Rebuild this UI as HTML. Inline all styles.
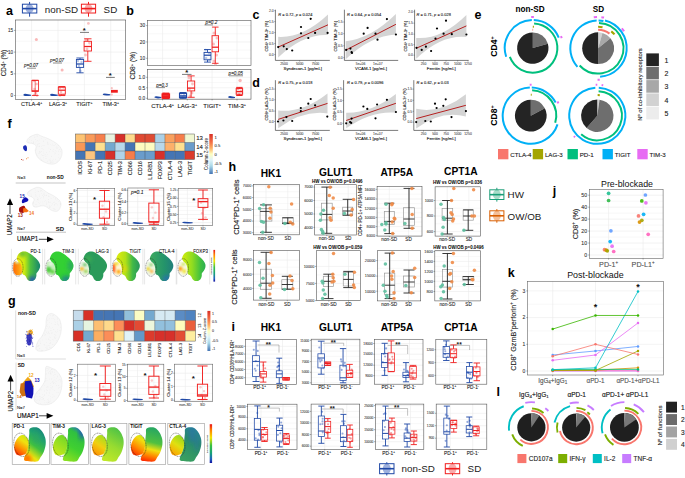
<!DOCTYPE html>
<html><head><meta charset="utf-8"><style>
html,body{margin:0;padding:0;background:#fff;width:685px;height:478px;overflow:hidden}
svg{display:block;font-family:"Liberation Sans", sans-serif}
</style></head><body>
<svg width="685" height="478" viewBox="0 0 685 478">
<defs><clipPath id="c1"><path d="M26.7 141.4C26.83 140.48 27.83 138.55 29 137.5C30.17 136.45 32.25 135.63 33.7 135.1C35.15 134.57 36.52 134.17 37.7 134.3C38.88 134.43 39.23 135.25 40.8 135.9C42.37 136.55 45 137.28 47.1 138.2C49.2 139.12 51.45 140.22 53.4 141.4C55.35 142.58 57.37 143.73 58.8 145.3C60.23 146.87 61.6 148.83 62 150.8C62.4 152.77 61.85 155.27 61.2 157.1C60.55 158.93 59.4 160.63 58.1 161.8C56.8 162.97 55.23 163.85 53.4 164.1C51.57 164.35 49.2 163.95 47.1 163.3C45 162.65 42.5 161.37 40.8 160.2C39.1 159.03 37.82 157.87 36.9 156.3C35.98 154.73 35.43 152.5 35.3 150.8C35.17 149.1 36.48 147.28 36.1 146.1C35.72 144.92 34.32 144.22 33 143.7C31.68 143.18 29.25 143.38 28.2 143C27.15 142.62 26.57 142.32 26.7 141.4Z"/></clipPath>
<clipPath id="c2"><path d="M27.4 193C27.62 192.12 29 191.12 30 190.4C31 189.68 32.28 189.2 33.4 188.7C34.52 188.2 35.58 187.57 36.7 187.4C37.82 187.23 38.98 187.32 40.1 187.7C41.22 188.08 42.07 188.82 43.4 189.7C44.73 190.58 46.42 192 48.1 193C49.78 194 51.82 194.68 53.5 195.7C55.18 196.72 56.97 197.87 58.2 199.1C59.43 200.33 60.57 201.65 60.9 203.1C61.23 204.55 60.77 206.47 60.2 207.8C59.63 209.13 58.62 210.55 57.5 211.1C56.38 211.65 54.83 211.43 53.5 211.1C52.17 210.77 50.83 209.88 49.5 209.1C48.17 208.32 46.85 206.95 45.5 206.4C44.15 205.85 42.87 205.68 41.4 205.8C39.93 205.92 38.03 207 36.7 207.1C35.37 207.2 34.07 207.07 33.4 206.4C32.73 205.73 32.58 204.22 32.7 203.1C32.82 201.98 34.2 200.7 34.1 199.7C34 198.7 33 197.77 32.1 197.1C31.2 196.43 29.48 196.38 28.7 195.7C27.92 195.02 27.18 193.88 27.4 193Z"/></clipPath>
<linearGradient id="g3" gradientUnits="userSpaceOnUse" x1="0" y1="134" x2="0" y2="174"><stop offset="0" stop-color="#d73027"/><stop offset="0.2" stop-color="#f46d43"/><stop offset="0.35" stop-color="#fdae61"/><stop offset="0.5" stop-color="#ffffbf"/><stop offset="0.65" stop-color="#e0f3f8"/><stop offset="0.8" stop-color="#abd9e9"/><stop offset="1" stop-color="#4575b4"/></linearGradient>
<linearGradient id="g4" gradientUnits="userSpaceOnUse" x1="19.4" y1="0" x2="39.4" y2="0"><stop offset="0" stop-color="#f2ee10"/><stop offset="0.25" stop-color="#c8ea10"/><stop offset="0.55" stop-color="#50c040"/><stop offset="1" stop-color="#1a8a6a"/></linearGradient>
<linearGradient id="g5" gradientUnits="userSpaceOnUse" x1="13.2" y1="0" x2="22.2" y2="0"><stop offset="0" stop-color="#ff6a08"/><stop offset="0.6" stop-color="#ff9a10"/><stop offset="1" stop-color="#ffc020"/></linearGradient>
<filter id="bl" x="-50%" y="-50%" width="200%" height="200%"><feGaussianBlur stdDeviation="2.2"/></filter>
<filter id="bl2" x="-50%" y="-50%" width="200%" height="200%"><feGaussianBlur stdDeviation="1.2"/></filter>
<clipPath id="c6"><path d="M17.2 256.4C17.58 255.53 18.22 254.28 19 253.5C19.78 252.72 20.83 252.03 21.9 251.7C22.97 251.37 24.23 251.3 25.4 251.5C26.57 251.7 27.73 252.28 28.9 252.9C30.07 253.52 31.28 254.33 32.4 255.2C33.52 256.07 34.62 257.12 35.6 258.1C36.58 259.08 37.57 260.02 38.3 261.1C39.03 262.18 39.75 263.43 40 264.6C40.25 265.77 40.08 267.03 39.8 268.1C39.52 269.17 38.85 270.13 38.3 271C37.75 271.87 36.83 272.42 36.5 273.3C36.17 274.18 36.53 275.32 36.3 276.3C36.07 277.28 35.75 278.43 35.1 279.2C34.45 279.97 33.33 280.62 32.4 280.9C31.47 281.18 30.37 281.18 29.5 280.9C28.63 280.62 27.78 279.88 27.2 279.2C26.62 278.52 26.48 277.48 26 276.8C25.52 276.12 24.88 275.58 24.3 275.1C23.72 274.62 22.9 274.48 22.5 273.9C22.1 273.32 22.1 272.47 21.9 271.6C21.7 270.73 21.5 269.68 21.3 268.7C21.1 267.72 20.98 266.58 20.7 265.7C20.42 264.82 20.08 264.17 19.6 263.4C19.12 262.63 18.28 261.88 17.8 261.1C17.32 260.32 16.8 259.48 16.7 258.7C16.6 257.92 16.82 257.27 17.2 256.4Z"/></clipPath>
<clipPath id="c7"><path d="M14.1 262.2C14.68 261.33 15.78 261.6 16.7 261.7C17.62 261.8 18.83 262.22 19.6 262.8C20.37 263.38 20.87 264.13 21.3 265.2C21.73 266.27 22.1 267.95 22.2 269.2C22.3 270.45 22.23 271.77 21.9 272.7C21.57 273.63 20.98 274.37 20.2 274.8C19.42 275.23 18.08 275.45 17.2 275.3C16.32 275.15 15.53 274.62 14.9 273.9C14.27 273.18 13.68 272.17 13.4 271C13.12 269.83 13.08 268.37 13.2 266.9C13.32 265.43 13.52 263.07 14.1 262.2Z"/></clipPath>
<clipPath id="c8"><path d="M50.5 256.4C50.88 255.53 51.52 254.28 52.3 253.5C53.08 252.72 54.13 252.03 55.2 251.7C56.27 251.37 57.53 251.3 58.7 251.5C59.87 251.7 61.03 252.28 62.2 252.9C63.37 253.52 64.58 254.33 65.7 255.2C66.82 256.07 67.92 257.12 68.9 258.1C69.88 259.08 70.87 260.02 71.6 261.1C72.33 262.18 73.05 263.43 73.3 264.6C73.55 265.77 73.38 267.03 73.1 268.1C72.82 269.17 72.15 270.13 71.6 271C71.05 271.87 70.13 272.42 69.8 273.3C69.47 274.18 69.83 275.32 69.6 276.3C69.37 277.28 69.05 278.43 68.4 279.2C67.75 279.97 66.63 280.62 65.7 280.9C64.77 281.18 63.67 281.18 62.8 280.9C61.93 280.62 61.08 279.88 60.5 279.2C59.92 278.52 59.78 277.48 59.3 276.8C58.82 276.12 58.18 275.58 57.6 275.1C57.02 274.62 56.2 274.48 55.8 273.9C55.4 273.32 55.4 272.47 55.2 271.6C55 270.73 54.8 269.68 54.6 268.7C54.4 267.72 54.28 266.58 54 265.7C53.72 264.82 53.38 264.17 52.9 263.4C52.42 262.63 51.58 261.88 51.1 261.1C50.62 260.32 50.1 259.48 50 258.7C49.9 257.92 50.12 257.27 50.5 256.4Z"/></clipPath>
<clipPath id="c9"><path d="M47.4 262.2C47.98 261.33 49.08 261.6 50 261.7C50.92 261.8 52.13 262.22 52.9 262.8C53.67 263.38 54.17 264.13 54.6 265.2C55.03 266.27 55.4 267.95 55.5 269.2C55.6 270.45 55.53 271.77 55.2 272.7C54.87 273.63 54.28 274.37 53.5 274.8C52.72 275.23 51.38 275.45 50.5 275.3C49.62 275.15 48.83 274.62 48.2 273.9C47.57 273.18 46.98 272.17 46.7 271C46.42 269.83 46.38 268.37 46.5 266.9C46.62 265.43 46.82 263.07 47.4 262.2Z"/></clipPath>
<clipPath id="c10"><path d="M84.1 256.4C84.48 255.53 85.12 254.28 85.9 253.5C86.68 252.72 87.73 252.03 88.8 251.7C89.87 251.37 91.13 251.3 92.3 251.5C93.47 251.7 94.63 252.28 95.8 252.9C96.97 253.52 98.18 254.33 99.3 255.2C100.42 256.07 101.52 257.12 102.5 258.1C103.48 259.08 104.47 260.02 105.2 261.1C105.93 262.18 106.65 263.43 106.9 264.6C107.15 265.77 106.98 267.03 106.7 268.1C106.42 269.17 105.75 270.13 105.2 271C104.65 271.87 103.73 272.42 103.4 273.3C103.07 274.18 103.43 275.32 103.2 276.3C102.97 277.28 102.65 278.43 102 279.2C101.35 279.97 100.23 280.62 99.3 280.9C98.37 281.18 97.27 281.18 96.4 280.9C95.53 280.62 94.68 279.88 94.1 279.2C93.52 278.52 93.38 277.48 92.9 276.8C92.42 276.12 91.78 275.58 91.2 275.1C90.62 274.62 89.8 274.48 89.4 273.9C89 273.32 89 272.47 88.8 271.6C88.6 270.73 88.4 269.68 88.2 268.7C88 267.72 87.88 266.58 87.6 265.7C87.32 264.82 86.98 264.17 86.5 263.4C86.02 262.63 85.18 261.88 84.7 261.1C84.22 260.32 83.7 259.48 83.6 258.7C83.5 257.92 83.72 257.27 84.1 256.4Z"/></clipPath>
<clipPath id="c11"><path d="M81 262.2C81.58 261.33 82.68 261.6 83.6 261.7C84.52 261.8 85.73 262.22 86.5 262.8C87.27 263.38 87.77 264.13 88.2 265.2C88.63 266.27 89 267.95 89.1 269.2C89.2 270.45 89.13 271.77 88.8 272.7C88.47 273.63 87.88 274.37 87.1 274.8C86.32 275.23 84.98 275.45 84.1 275.3C83.22 275.15 82.43 274.62 81.8 273.9C81.17 273.18 80.58 272.17 80.3 271C80.02 269.83 79.98 268.37 80.1 266.9C80.22 265.43 80.42 263.07 81 262.2Z"/></clipPath>
<linearGradient id="g12" gradientUnits="userSpaceOnUse" x1="118.1" y1="0" x2="139.1" y2="0"><stop offset="0" stop-color="#d8ea10"/><stop offset="0.35" stop-color="#b0e018"/><stop offset="0.7" stop-color="#40b848"/><stop offset="1" stop-color="#2a9a5a"/></linearGradient>
<clipPath id="c13"><path d="M116.9 256.4C117.28 255.53 117.92 254.28 118.7 253.5C119.48 252.72 120.53 252.03 121.6 251.7C122.67 251.37 123.93 251.3 125.1 251.5C126.27 251.7 127.43 252.28 128.6 252.9C129.77 253.52 130.98 254.33 132.1 255.2C133.22 256.07 134.32 257.12 135.3 258.1C136.28 259.08 137.27 260.02 138 261.1C138.73 262.18 139.45 263.43 139.7 264.6C139.95 265.77 139.78 267.03 139.5 268.1C139.22 269.17 138.55 270.13 138 271C137.45 271.87 136.53 272.42 136.2 273.3C135.87 274.18 136.23 275.32 136 276.3C135.77 277.28 135.45 278.43 134.8 279.2C134.15 279.97 133.03 280.62 132.1 280.9C131.17 281.18 130.07 281.18 129.2 280.9C128.33 280.62 127.48 279.88 126.9 279.2C126.32 278.52 126.18 277.48 125.7 276.8C125.22 276.12 124.58 275.58 124 275.1C123.42 274.62 122.6 274.48 122.2 273.9C121.8 273.32 121.8 272.47 121.6 271.6C121.4 270.73 121.2 269.68 121 268.7C120.8 267.72 120.68 266.58 120.4 265.7C120.12 264.82 119.78 264.17 119.3 263.4C118.82 262.63 117.98 261.88 117.5 261.1C117.02 260.32 116.5 259.48 116.4 258.7C116.3 257.92 116.52 257.27 116.9 256.4Z"/></clipPath>
<clipPath id="c14"><path d="M113.8 262.2C114.38 261.33 115.48 261.6 116.4 261.7C117.32 261.8 118.53 262.22 119.3 262.8C120.07 263.38 120.57 264.13 121 265.2C121.43 266.27 121.8 267.95 121.9 269.2C122 270.45 121.93 271.77 121.6 272.7C121.27 273.63 120.68 274.37 119.9 274.8C119.12 275.23 117.78 275.45 116.9 275.3C116.02 275.15 115.23 274.62 114.6 273.9C113.97 273.18 113.38 272.17 113.1 271C112.82 269.83 112.78 268.37 112.9 266.9C113.02 265.43 113.22 263.07 113.8 262.2Z"/></clipPath>
<linearGradient id="g15" gradientUnits="userSpaceOnUse" x1="151.6" y1="0" x2="172.6" y2="0"><stop offset="0" stop-color="#3aa860"/><stop offset="0.6" stop-color="#24946a"/><stop offset="1" stop-color="#20807a"/></linearGradient>
<clipPath id="c16"><path d="M150.4 256.4C150.78 255.53 151.42 254.28 152.2 253.5C152.98 252.72 154.03 252.03 155.1 251.7C156.17 251.37 157.43 251.3 158.6 251.5C159.77 251.7 160.93 252.28 162.1 252.9C163.27 253.52 164.48 254.33 165.6 255.2C166.72 256.07 167.82 257.12 168.8 258.1C169.78 259.08 170.77 260.02 171.5 261.1C172.23 262.18 172.95 263.43 173.2 264.6C173.45 265.77 173.28 267.03 173 268.1C172.72 269.17 172.05 270.13 171.5 271C170.95 271.87 170.03 272.42 169.7 273.3C169.37 274.18 169.73 275.32 169.5 276.3C169.27 277.28 168.95 278.43 168.3 279.2C167.65 279.97 166.53 280.62 165.6 280.9C164.67 281.18 163.57 281.18 162.7 280.9C161.83 280.62 160.98 279.88 160.4 279.2C159.82 278.52 159.68 277.48 159.2 276.8C158.72 276.12 158.08 275.58 157.5 275.1C156.92 274.62 156.1 274.48 155.7 273.9C155.3 273.32 155.3 272.47 155.1 271.6C154.9 270.73 154.7 269.68 154.5 268.7C154.3 267.72 154.18 266.58 153.9 265.7C153.62 264.82 153.28 264.17 152.8 263.4C152.32 262.63 151.48 261.88 151 261.1C150.52 260.32 150 259.48 149.9 258.7C149.8 257.92 150.02 257.27 150.4 256.4Z"/></clipPath>
<clipPath id="c17"><path d="M147.3 262.2C147.88 261.33 148.98 261.6 149.9 261.7C150.82 261.8 152.03 262.22 152.8 262.8C153.57 263.38 154.07 264.13 154.5 265.2C154.93 266.27 155.3 267.95 155.4 269.2C155.5 270.45 155.43 271.77 155.1 272.7C154.77 273.63 154.18 274.37 153.4 274.8C152.62 275.23 151.28 275.45 150.4 275.3C149.52 275.15 148.73 274.62 148.1 273.9C147.47 273.18 146.88 272.17 146.6 271C146.32 269.83 146.28 268.37 146.4 266.9C146.52 265.43 146.72 263.07 147.3 262.2Z"/></clipPath>
<linearGradient id="g18" gradientUnits="userSpaceOnUse" x1="183.8" y1="0" x2="204.8" y2="0"><stop offset="0" stop-color="#c8ea10"/><stop offset="0.4" stop-color="#90dc20"/><stop offset="0.8" stop-color="#40c040"/><stop offset="1" stop-color="#30b050"/></linearGradient>
<clipPath id="c19"><path d="M182.6 256.4C182.98 255.53 183.62 254.28 184.4 253.5C185.18 252.72 186.23 252.03 187.3 251.7C188.37 251.37 189.63 251.3 190.8 251.5C191.97 251.7 193.13 252.28 194.3 252.9C195.47 253.52 196.68 254.33 197.8 255.2C198.92 256.07 200.02 257.12 201 258.1C201.98 259.08 202.97 260.02 203.7 261.1C204.43 262.18 205.15 263.43 205.4 264.6C205.65 265.77 205.48 267.03 205.2 268.1C204.92 269.17 204.25 270.13 203.7 271C203.15 271.87 202.23 272.42 201.9 273.3C201.57 274.18 201.93 275.32 201.7 276.3C201.47 277.28 201.15 278.43 200.5 279.2C199.85 279.97 198.73 280.62 197.8 280.9C196.87 281.18 195.77 281.18 194.9 280.9C194.03 280.62 193.18 279.88 192.6 279.2C192.02 278.52 191.88 277.48 191.4 276.8C190.92 276.12 190.28 275.58 189.7 275.1C189.12 274.62 188.3 274.48 187.9 273.9C187.5 273.32 187.5 272.47 187.3 271.6C187.1 270.73 186.9 269.68 186.7 268.7C186.5 267.72 186.38 266.58 186.1 265.7C185.82 264.82 185.48 264.17 185 263.4C184.52 262.63 183.68 261.88 183.2 261.1C182.72 260.32 182.2 259.48 182.1 258.7C182 257.92 182.22 257.27 182.6 256.4Z"/></clipPath>
<clipPath id="c20"><path d="M179.5 262.2C180.08 261.33 181.18 261.6 182.1 261.7C183.02 261.8 184.23 262.22 185 262.8C185.77 263.38 186.27 264.13 186.7 265.2C187.13 266.27 187.5 267.95 187.6 269.2C187.7 270.45 187.63 271.77 187.3 272.7C186.97 273.63 186.38 274.37 185.6 274.8C184.82 275.23 183.48 275.45 182.6 275.3C181.72 275.15 180.93 274.62 180.3 273.9C179.67 273.18 179.08 272.17 178.8 271C178.52 269.83 178.48 268.37 178.6 266.9C178.72 265.43 178.92 263.07 179.5 262.2Z"/></clipPath>
<linearGradient id="g21" gradientUnits="userSpaceOnUse" x1="0" y1="249.9" x2="0" y2="281.6"><stop offset="0" stop-color="#e8131a"/><stop offset="0.15" stop-color="#ff7f00"/><stop offset="0.35" stop-color="#f5e600"/><stop offset="0.55" stop-color="#38c040"/><stop offset="0.75" stop-color="#15a07a"/><stop offset="0.9" stop-color="#2060c0"/><stop offset="1" stop-color="#1010a0"/></linearGradient>
<clipPath id="c22"><path d="M51.8 313.5C53.33 313.73 55.57 315.18 57 316.5C58.43 317.82 59.7 319.02 60.4 321.4C61.1 323.78 61.58 327.67 61.2 330.8C60.82 333.93 59.67 337.32 58.1 340.2C56.53 343.08 54.42 346.27 51.8 348.1C49.18 349.93 45.02 350.95 42.4 351.2C39.78 351.45 36.88 351.17 36.1 349.6C35.32 348.03 36.65 344.15 37.7 341.8C38.75 339.45 41.1 337.85 42.4 335.5C43.7 333.15 44.85 330.32 45.5 327.7C46.15 325.08 45.92 321.9 46.3 319.8C46.68 317.7 46.88 316.15 47.8 315.1C48.72 314.05 50.27 313.27 51.8 313.5Z"/></clipPath>
<clipPath id="c23"><path d="M46.2 366.5C47.28 365.77 50.18 367.5 52 368.3C53.82 369.1 55.47 369.43 57.1 371.3C58.73 373.17 61.13 376.33 61.8 379.5C62.47 382.67 61.88 387.13 61.1 390.3C60.32 393.47 58.9 396.23 57.1 398.5C55.3 400.77 53.02 402.88 50.3 403.9C47.58 404.92 43.42 405.05 40.8 404.6C38.18 404.15 35.52 402.9 34.6 401.2C33.68 399.5 34.27 396.67 35.3 394.4C36.33 392.13 39.22 389.87 40.8 387.6C42.38 385.33 44.02 383.28 44.8 380.8C45.58 378.32 45.27 375.08 45.5 372.7C45.73 370.32 45.12 367.23 46.2 366.5Z"/></clipPath>
<linearGradient id="g24" gradientUnits="userSpaceOnUse" x1="0" y1="310.9" x2="0" y2="351"><stop offset="0" stop-color="#d73027"/><stop offset="0.2" stop-color="#f46d43"/><stop offset="0.35" stop-color="#fdae61"/><stop offset="0.5" stop-color="#ffffbf"/><stop offset="0.65" stop-color="#e0f3f8"/><stop offset="0.8" stop-color="#abd9e9"/><stop offset="1" stop-color="#4575b4"/></linearGradient>
<linearGradient id="g25" gradientUnits="userSpaceOnUse" x1="25.2" y1="459.4" x2="45.2" y2="433.4"><stop offset="0" stop-color="#ffb000"/><stop offset="0.2" stop-color="#e8e810"/><stop offset="0.5" stop-color="#40c040"/><stop offset="0.8" stop-color="#20a070"/><stop offset="1" stop-color="#1a8a7a"/></linearGradient>
<linearGradient id="g26" gradientUnits="userSpaceOnUse" x1="15.2" y1="453.4" x2="27.2" y2="436.4"><stop offset="0" stop-color="#ff3000"/><stop offset="0.35" stop-color="#ff9000"/><stop offset="0.7" stop-color="#f0e010"/><stop offset="1" stop-color="#c8ea10"/></linearGradient>
<clipPath id="c27"><path d="M29.9 428.4C31.1 427.35 34.52 426.87 36.5 427.3C38.48 427.73 40.37 429.28 41.8 431C43.23 432.72 44.45 435.4 45.1 437.6C45.75 439.8 45.93 441.8 45.7 444.2C45.47 446.6 44.57 449.82 43.7 452C42.83 454.18 41.48 455.77 40.5 457.3C39.52 458.83 39.33 460.5 37.8 461.2C36.27 461.9 33.48 461.6 31.3 461.5C29.12 461.4 25.85 461.3 24.7 460.6C23.55 459.9 24.18 458.5 24.4 457.3C24.62 456.1 25.4 455.15 26 453.4C26.6 451.65 27.57 449 28 446.8C28.43 444.6 28.38 442.4 28.6 440.2C28.82 438 29.08 435.57 29.3 433.6C29.52 431.63 28.7 429.45 29.9 428.4Z"/></clipPath>
<clipPath id="c28"><path d="M14.2 448.1C14.1 446 14.63 443.47 15.5 441.5C16.37 439.53 18.08 437.38 19.4 436.3C20.72 435.22 22.18 434.78 23.4 435C24.62 435.22 25.83 436.52 26.7 437.6C27.57 438.68 28.38 439.75 28.6 441.5C28.82 443.25 28.43 446.12 28 448.1C27.57 450.08 26.77 452.3 26 453.4C25.23 454.5 24.5 454.37 23.4 454.7C22.3 455.03 20.62 455.5 19.4 455.4C18.18 455.3 16.97 455.32 16.1 454.1C15.23 452.88 14.3 450.2 14.2 448.1Z"/></clipPath>
<linearGradient id="g29" gradientUnits="userSpaceOnUse" x1="65" y1="459.4" x2="83" y2="429.4"><stop offset="0" stop-color="#8ae020"/><stop offset="0.4" stop-color="#40d030"/><stop offset="0.8" stop-color="#30c040"/><stop offset="1" stop-color="#2a70c0"/></linearGradient>
<linearGradient id="g30" gradientUnits="userSpaceOnUse" x1="54" y1="453.4" x2="66" y2="436.4"><stop offset="0" stop-color="#c8e818"/><stop offset="1" stop-color="#70d828"/></linearGradient>
<clipPath id="c31"><path d="M68.7 428.4C69.9 427.35 73.32 426.87 75.3 427.3C77.28 427.73 79.17 429.28 80.6 431C82.03 432.72 83.25 435.4 83.9 437.6C84.55 439.8 84.73 441.8 84.5 444.2C84.27 446.6 83.37 449.82 82.5 452C81.63 454.18 80.28 455.77 79.3 457.3C78.32 458.83 78.13 460.5 76.6 461.2C75.07 461.9 72.28 461.6 70.1 461.5C67.92 461.4 64.65 461.3 63.5 460.6C62.35 459.9 62.98 458.5 63.2 457.3C63.42 456.1 64.2 455.15 64.8 453.4C65.4 451.65 66.37 449 66.8 446.8C67.23 444.6 67.18 442.4 67.4 440.2C67.62 438 67.88 435.57 68.1 433.6C68.32 431.63 67.5 429.45 68.7 428.4Z"/></clipPath>
<clipPath id="c32"><path d="M53 448.1C52.9 446 53.43 443.47 54.3 441.5C55.17 439.53 56.88 437.38 58.2 436.3C59.52 435.22 60.98 434.78 62.2 435C63.42 435.22 64.63 436.52 65.5 437.6C66.37 438.68 67.18 439.75 67.4 441.5C67.62 443.25 67.23 446.12 66.8 448.1C66.37 450.08 65.57 452.3 64.8 453.4C64.03 454.5 63.3 454.37 62.2 454.7C61.1 455.03 59.42 455.5 58.2 455.4C56.98 455.3 55.77 455.32 54.9 454.1C54.03 452.88 53.1 450.2 53 448.1Z"/></clipPath>
<linearGradient id="g33" gradientUnits="userSpaceOnUse" x1="104.1" y1="459.4" x2="122.1" y2="429.4"><stop offset="0" stop-color="#c0e828"/><stop offset="0.45" stop-color="#98dc30"/><stop offset="1" stop-color="#48c048"/></linearGradient>
<linearGradient id="g34" gradientUnits="userSpaceOnUse" x1="93.1" y1="453.4" x2="105.1" y2="436.4"><stop offset="0" stop-color="#ff9000"/><stop offset="0.5" stop-color="#f0d010"/><stop offset="1" stop-color="#a0e020"/></linearGradient>
<clipPath id="c35"><path d="M107.8 428.4C109 427.35 112.42 426.87 114.4 427.3C116.38 427.73 118.27 429.28 119.7 431C121.13 432.72 122.35 435.4 123 437.6C123.65 439.8 123.83 441.8 123.6 444.2C123.37 446.6 122.47 449.82 121.6 452C120.73 454.18 119.38 455.77 118.4 457.3C117.42 458.83 117.23 460.5 115.7 461.2C114.17 461.9 111.38 461.6 109.2 461.5C107.02 461.4 103.75 461.3 102.6 460.6C101.45 459.9 102.08 458.5 102.3 457.3C102.52 456.1 103.3 455.15 103.9 453.4C104.5 451.65 105.47 449 105.9 446.8C106.33 444.6 106.28 442.4 106.5 440.2C106.72 438 106.98 435.57 107.2 433.6C107.42 431.63 106.6 429.45 107.8 428.4Z"/></clipPath>
<clipPath id="c36"><path d="M92.1 448.1C92 446 92.53 443.47 93.4 441.5C94.27 439.53 95.98 437.38 97.3 436.3C98.62 435.22 100.08 434.78 101.3 435C102.52 435.22 103.73 436.52 104.6 437.6C105.47 438.68 106.28 439.75 106.5 441.5C106.72 443.25 106.33 446.12 105.9 448.1C105.47 450.08 104.67 452.3 103.9 453.4C103.13 454.5 102.4 454.37 101.3 454.7C100.2 455.03 98.52 455.5 97.3 455.4C96.08 455.3 94.87 455.32 94 454.1C93.13 452.88 92.2 450.2 92.1 448.1Z"/></clipPath>
<linearGradient id="g37" gradientUnits="userSpaceOnUse" x1="146.9" y1="461.4" x2="154.9" y2="429.4"><stop offset="0" stop-color="#ff2a00"/><stop offset="0.2" stop-color="#ff8a00"/><stop offset="0.38" stop-color="#f0e010"/><stop offset="0.6" stop-color="#50c040"/><stop offset="1" stop-color="#2aa860"/></linearGradient>
<linearGradient id="g38" gradientUnits="userSpaceOnUse" x1="131.9" y1="453.4" x2="143.9" y2="436.4"><stop offset="0" stop-color="#ff3000"/><stop offset="0.4" stop-color="#ff9000"/><stop offset="0.8" stop-color="#f0e010"/><stop offset="1" stop-color="#c0e818"/></linearGradient>
<clipPath id="c39"><path d="M146.6 428.4C147.8 427.35 151.22 426.87 153.2 427.3C155.18 427.73 157.07 429.28 158.5 431C159.93 432.72 161.15 435.4 161.8 437.6C162.45 439.8 162.63 441.8 162.4 444.2C162.17 446.6 161.27 449.82 160.4 452C159.53 454.18 158.18 455.77 157.2 457.3C156.22 458.83 156.03 460.5 154.5 461.2C152.97 461.9 150.18 461.6 148 461.5C145.82 461.4 142.55 461.3 141.4 460.6C140.25 459.9 140.88 458.5 141.1 457.3C141.32 456.1 142.1 455.15 142.7 453.4C143.3 451.65 144.27 449 144.7 446.8C145.13 444.6 145.08 442.4 145.3 440.2C145.52 438 145.78 435.57 146 433.6C146.22 431.63 145.4 429.45 146.6 428.4Z"/></clipPath>
<clipPath id="c40"><path d="M130.9 448.1C130.8 446 131.33 443.47 132.2 441.5C133.07 439.53 134.78 437.38 136.1 436.3C137.42 435.22 138.88 434.78 140.1 435C141.32 435.22 142.53 436.52 143.4 437.6C144.27 438.68 145.08 439.75 145.3 441.5C145.52 443.25 145.13 446.12 144.7 448.1C144.27 450.08 143.47 452.3 142.7 453.4C141.93 454.5 141.2 454.37 140.1 454.7C139 455.03 137.32 455.5 136.1 455.4C134.88 455.3 133.67 455.32 132.8 454.1C131.93 452.88 131 450.2 130.9 448.1Z"/></clipPath>
<linearGradient id="g41" gradientUnits="userSpaceOnUse" x1="181.8" y1="459.4" x2="199.8" y2="429.4"><stop offset="0" stop-color="#3aa060"/><stop offset="0.6" stop-color="#288a6a"/><stop offset="1" stop-color="#2a80a0"/></linearGradient>
<linearGradient id="g42" gradientUnits="userSpaceOnUse" x1="170.8" y1="453.4" x2="182.8" y2="436.4"><stop offset="0" stop-color="#ffa000"/><stop offset="0.5" stop-color="#e0e010"/><stop offset="1" stop-color="#90d820"/></linearGradient>
<clipPath id="c43"><path d="M185.5 428.4C186.7 427.35 190.12 426.87 192.1 427.3C194.08 427.73 195.97 429.28 197.4 431C198.83 432.72 200.05 435.4 200.7 437.6C201.35 439.8 201.53 441.8 201.3 444.2C201.07 446.6 200.17 449.82 199.3 452C198.43 454.18 197.08 455.77 196.1 457.3C195.12 458.83 194.93 460.5 193.4 461.2C191.87 461.9 189.08 461.6 186.9 461.5C184.72 461.4 181.45 461.3 180.3 460.6C179.15 459.9 179.78 458.5 180 457.3C180.22 456.1 181 455.15 181.6 453.4C182.2 451.65 183.17 449 183.6 446.8C184.03 444.6 183.98 442.4 184.2 440.2C184.42 438 184.68 435.57 184.9 433.6C185.12 431.63 184.3 429.45 185.5 428.4Z"/></clipPath>
<clipPath id="c44"><path d="M169.8 448.1C169.7 446 170.23 443.47 171.1 441.5C171.97 439.53 173.68 437.38 175 436.3C176.32 435.22 177.78 434.78 179 435C180.22 435.22 181.43 436.52 182.3 437.6C183.17 438.68 183.98 439.75 184.2 441.5C184.42 443.25 184.03 446.12 183.6 448.1C183.17 450.08 182.37 452.3 181.6 453.4C180.83 454.5 180.1 454.37 179 454.7C177.9 455.03 176.22 455.5 175 455.4C173.78 455.3 172.57 455.32 171.7 454.1C170.83 452.88 169.9 450.2 169.8 448.1Z"/></clipPath>
<linearGradient id="g45" gradientUnits="userSpaceOnUse" x1="0" y1="424.2" x2="0" y2="463"><stop offset="0" stop-color="#e8131a"/><stop offset="0.15" stop-color="#ff7f00"/><stop offset="0.35" stop-color="#f5e600"/><stop offset="0.55" stop-color="#38c040"/><stop offset="0.75" stop-color="#15a07a"/><stop offset="0.9" stop-color="#2060c0"/><stop offset="1" stop-color="#1010a0"/></linearGradient></defs>
<text x="6" y="15" font-size="12.5" font-weight="bold">a</text>
<path d="M25.57 8.6 A4.03 4.4 0 0 1 33.63 8.6 A4.03 4.4 0 0 1 25.57 8.6 Z" fill="#9db0dd" />
<rect x="22.4" y="4.2" width="14.4" height="8.8" fill="none" stroke="#1f48a6" stroke-width="1" />
<line x1="22.4" y1="8.6" x2="36.8" y2="8.6" stroke="#1f48a6" stroke-width="1.6"/>
<line x1="29.6" y1="1.9" x2="29.6" y2="4.2" stroke="#1f48a6" stroke-width="1"/>
<line x1="29.6" y1="13" x2="29.6" y2="16.7" stroke="#1f48a6" stroke-width="1"/>
<text x="44.8" y="12.5" font-size="9.8" fill="#222">non-SD</text>
<path d="M84.52 8.6 A3.98 4.4 0 0 1 92.48 8.6 A3.98 4.4 0 0 1 84.52 8.6 Z" fill="#f9aaaa" />
<rect x="81.4" y="4.2" width="14.2" height="8.8" fill="none" stroke="#f01e1e" stroke-width="1" />
<line x1="81.4" y1="8.6" x2="95.6" y2="8.6" stroke="#f01e1e" stroke-width="1.6"/>
<line x1="88.5" y1="1.9" x2="88.5" y2="4.2" stroke="#f01e1e" stroke-width="1"/>
<line x1="88.5" y1="13" x2="88.5" y2="16.7" stroke="#f01e1e" stroke-width="1"/>
<text x="103.6" y="12.5" font-size="9.8" fill="#222">SD</text>
<rect x="15.3" y="20" width="110.4" height="79.5" fill="#fff" />
<line x1="15.3" y1="84.65" x2="125.7" y2="84.65" stroke="#ebebeb" stroke-width="0.35"/>
<line x1="15.3" y1="62.95" x2="125.7" y2="62.95" stroke="#ebebeb" stroke-width="0.35"/>
<line x1="15.3" y1="41.25" x2="125.7" y2="41.25" stroke="#ebebeb" stroke-width="0.35"/>
<line x1="15.3" y1="19.55" x2="125.7" y2="19.55" stroke="#ebebeb" stroke-width="0.35"/>
<line x1="15.3" y1="95.5" x2="125.7" y2="95.5" stroke="#ebebeb" stroke-width="0.6"/>
<line x1="15.3" y1="73.8" x2="125.7" y2="73.8" stroke="#ebebeb" stroke-width="0.6"/>
<line x1="15.3" y1="52.1" x2="125.7" y2="52.1" stroke="#ebebeb" stroke-width="0.6"/>
<line x1="15.3" y1="30.4" x2="125.7" y2="30.4" stroke="#ebebeb" stroke-width="0.6"/>
<line x1="31.6" y1="20" x2="31.6" y2="99.5" stroke="#ebebeb" stroke-width="0.6"/>
<line x1="58" y1="20" x2="58" y2="99.5" stroke="#ebebeb" stroke-width="0.6"/>
<line x1="84.4" y1="20" x2="84.4" y2="99.5" stroke="#ebebeb" stroke-width="0.6"/>
<line x1="110.7" y1="20" x2="110.7" y2="99.5" stroke="#ebebeb" stroke-width="0.6"/>
<rect x="15.3" y="20" width="110.4" height="79.5" fill="none" stroke="#555" stroke-width="0.6" />
<line x1="14" y1="95.5" x2="15.3" y2="95.5" stroke="#333" stroke-width="0.4"/>
<text x="13.1" y="97.16" font-size="4.6" text-anchor="end" fill="#333" stroke="#333" stroke-width="0.16" stroke-opacity="0.55">0</text>
<line x1="14" y1="73.8" x2="15.3" y2="73.8" stroke="#333" stroke-width="0.4"/>
<text x="13.1" y="75.46" font-size="4.6" text-anchor="end" fill="#333" stroke="#333" stroke-width="0.16" stroke-opacity="0.55">5</text>
<line x1="14" y1="52.1" x2="15.3" y2="52.1" stroke="#333" stroke-width="0.4"/>
<text x="13.1" y="53.76" font-size="4.6" text-anchor="end" fill="#333" stroke="#333" stroke-width="0.16" stroke-opacity="0.55">10</text>
<line x1="14" y1="30.4" x2="15.3" y2="30.4" stroke="#333" stroke-width="0.4"/>
<text x="13.1" y="32.06" font-size="4.6" text-anchor="end" fill="#333" stroke="#333" stroke-width="0.16" stroke-opacity="0.55">15</text>
<text x="5.9" y="63" font-size="6.3" text-anchor="middle" fill="#222" transform="rotate(-90 5.9 63)" stroke="#222" stroke-width="0.22" stroke-opacity="0.55">CD4<tspan baseline-shift="2.27" font-size="3.91">+</tspan> (%)</text>
<line x1="31.6" y1="99.5" x2="31.6" y2="100.7" stroke="#333" stroke-width="0.4"/>
<text x="31.6" y="105.8" font-size="5.6" text-anchor="middle" fill="#222" stroke="#222" stroke-width="0.2" stroke-opacity="0.55">CTLA-4<tspan baseline-shift="2.02" font-size="3.47">+</tspan></text>
<line x1="58" y1="99.5" x2="58" y2="100.7" stroke="#333" stroke-width="0.4"/>
<text x="58" y="105.8" font-size="5.6" text-anchor="middle" fill="#222" stroke="#222" stroke-width="0.2" stroke-opacity="0.55">LAG-3<tspan baseline-shift="2.02" font-size="3.47">+</tspan></text>
<line x1="84.4" y1="99.5" x2="84.4" y2="100.7" stroke="#333" stroke-width="0.4"/>
<text x="84.4" y="105.8" font-size="5.6" text-anchor="middle" fill="#222" stroke="#222" stroke-width="0.2" stroke-opacity="0.55">TIGIT<tspan baseline-shift="2.02" font-size="3.47">+</tspan></text>
<line x1="110.7" y1="99.5" x2="110.7" y2="100.7" stroke="#333" stroke-width="0.4"/>
<text x="110.7" y="105.8" font-size="5.6" text-anchor="middle" fill="#222" stroke="#222" stroke-width="0.2" stroke-opacity="0.55">TIM-3<tspan baseline-shift="2.02" font-size="3.47">+</tspan></text>
<path d="M23.3 95.2 Q23.3 93.8 25.3 93.8 L31 94.7 L31 95.7 Q25.3 96.6 23.3 95.2 Z" fill="#1f48a6" />
<circle cx="34" cy="81" r="1.3" fill="#f7a6a6" fill-opacity="0.7"/>
<circle cx="36.5" cy="84" r="1.3" fill="#f7a6a6" fill-opacity="0.7"/>
<circle cx="34.5" cy="89" r="1.3" fill="#f7a6a6" fill-opacity="0.7"/>
<circle cx="36" cy="93" r="1.3" fill="#f7a6a6" fill-opacity="0.7"/>
<circle cx="34" cy="95" r="1.3" fill="#f7a6a6" fill-opacity="0.7"/>
<circle cx="37" cy="95.4" r="1.3" fill="#f7a6a6" fill-opacity="0.7"/>
<circle cx="36.4" cy="39.6" r="1.5" fill="#f7a6a6" fill-opacity="0.8"/>
<rect x="31.9" y="80.5" width="6.6" height="10.9" fill="none" stroke="#f01e1e" stroke-width="0.8" />
<line x1="31.9" y1="90.8" x2="38.5" y2="90.8" stroke="#f01e1e" stroke-width="1.12"/>
<line x1="35.2" y1="80.2" x2="35.2" y2="80.5" stroke="#f01e1e" stroke-width="0.8"/>
<line x1="35.2" y1="91.4" x2="35.2" y2="95.5" stroke="#f01e1e" stroke-width="0.8"/>
<line x1="31.9" y1="80.2" x2="38.5" y2="80.2" stroke="#f01e1e" stroke-width="0.8"/>
<line x1="31.9" y1="95.5" x2="38.5" y2="95.5" stroke="#f01e1e" stroke-width="0.8"/>
<line x1="35.2" y1="80.5" x2="35.2" y2="91.4" stroke="#f01e1e" stroke-width="0.6"/>
<text x="23.9" y="67" font-size="4.6" fill="#222" font-style="italic" stroke="#222" stroke-width="0.16" stroke-opacity="0.55">p=0.07</text>
<line x1="27" y1="68.2" x2="36" y2="68.2" stroke="#222" stroke-width="0.5"/>
<path d="M50 95.2 Q50 93.8 52 93.8 L57.8 94.7 L57.8 95.7 Q52 96.6 50 95.2 Z" fill="#1f48a6" />
<circle cx="60" cy="88" r="1.3" fill="#f7a6a6" fill-opacity="0.7"/>
<circle cx="63.5" cy="87.5" r="1.3" fill="#f7a6a6" fill-opacity="0.7"/>
<circle cx="61" cy="92" r="1.3" fill="#f7a6a6" fill-opacity="0.7"/>
<circle cx="64" cy="95" r="1.3" fill="#f7a6a6" fill-opacity="0.7"/>
<circle cx="60" cy="95.4" r="1.3" fill="#f7a6a6" fill-opacity="0.7"/>
<circle cx="62.1" cy="70.1" r="1.5" fill="#f7a6a6" fill-opacity="0.8"/>
<rect x="58.3" y="87.2" width="7" height="7" fill="none" stroke="#f01e1e" stroke-width="0.9" />
<line x1="58.3" y1="90.2" x2="65.3" y2="90.2" stroke="#f01e1e" stroke-width="1.26"/>
<line x1="61.8" y1="86.5" x2="61.8" y2="87.2" stroke="#f01e1e" stroke-width="0.9"/>
<line x1="61.8" y1="94.2" x2="61.8" y2="95.5" stroke="#f01e1e" stroke-width="0.9"/>
<line x1="58.3" y1="86.5" x2="65.3" y2="86.5" stroke="#f01e1e" stroke-width="0.9"/>
<line x1="58.3" y1="95.5" x2="65.3" y2="95.5" stroke="#f01e1e" stroke-width="0.9"/>
<text x="50" y="62" font-size="4.6" fill="#222" font-style="italic" stroke="#222" stroke-width="0.16" stroke-opacity="0.55">p=0.07</text>
<line x1="53" y1="63" x2="62" y2="63" stroke="#222" stroke-width="0.5"/>
<circle cx="78" cy="61" r="1.2" fill="#8fa6d8" fill-opacity="0.6"/>
<circle cx="81.5" cy="62" r="1.2" fill="#8fa6d8" fill-opacity="0.6"/>
<circle cx="79" cy="66" r="1.2" fill="#8fa6d8" fill-opacity="0.6"/>
<circle cx="80.5" cy="71" r="1.2" fill="#8fa6d8" fill-opacity="0.6"/>
<rect x="76.4" y="59.5" width="7.2" height="7.9" fill="none" stroke="#1f48a6" stroke-width="0.9" />
<line x1="76.4" y1="64" x2="83.6" y2="64" stroke="#1f48a6" stroke-width="1.26"/>
<line x1="80" y1="58" x2="80" y2="59.5" stroke="#1f48a6" stroke-width="0.9"/>
<line x1="80" y1="67.4" x2="80" y2="72.8" stroke="#1f48a6" stroke-width="0.9"/>
<line x1="76.4" y1="58" x2="83.6" y2="58" stroke="#1f48a6" stroke-width="0.9"/>
<line x1="76.4" y1="72.8" x2="83.6" y2="72.8" stroke="#1f48a6" stroke-width="0.9"/>
<circle cx="86" cy="40" r="1.4" fill="#f7a6a6" fill-opacity="0.7"/>
<circle cx="89.5" cy="43" r="1.4" fill="#f7a6a6" fill-opacity="0.7"/>
<circle cx="87" cy="49" r="1.4" fill="#f7a6a6" fill-opacity="0.7"/>
<circle cx="85.5" cy="55" r="1.4" fill="#f7a6a6" fill-opacity="0.7"/>
<circle cx="88.4" cy="23.4" r="1.4" fill="#f7a6a6" fill-opacity="0.7"/>
<rect x="84.1" y="41.3" width="7.4" height="9.7" fill="none" stroke="#f01e1e" stroke-width="0.9" />
<line x1="84.1" y1="46.5" x2="91.5" y2="46.5" stroke="#f01e1e" stroke-width="1.26"/>
<line x1="87.8" y1="38.8" x2="87.8" y2="41.3" stroke="#f01e1e" stroke-width="0.9"/>
<line x1="87.8" y1="51" x2="87.8" y2="61.3" stroke="#f01e1e" stroke-width="0.9"/>
<line x1="84.1" y1="38.8" x2="91.5" y2="38.8" stroke="#f01e1e" stroke-width="0.9"/>
<line x1="84.1" y1="61.3" x2="91.5" y2="61.3" stroke="#f01e1e" stroke-width="0.9"/>
<text x="84.3" y="33.18" font-size="7.6" font-weight="bold" text-anchor="middle" fill="#111">*</text>
<line x1="80" y1="32.4" x2="89" y2="32.4" stroke="#222" stroke-width="0.6"/>
<path d="M102.7 94.8 Q102.7 93.5 104.7 93.5 L110.4 94.3 L110.4 95.3 Q104.7 96.1 102.7 94.8 Z" fill="#1f48a6" />
<circle cx="111.8" cy="88.2" r="1.1" fill="#f7a6a6" fill-opacity="0.7"/>
<circle cx="112.2" cy="91.5" r="1.1" fill="#f7a6a6" fill-opacity="0.7"/>
<circle cx="111.8" cy="94.6" r="1.1" fill="#f7a6a6" fill-opacity="0.7"/>
<rect x="111" y="89.9" width="6.8" height="2.8" fill="#f01e1e" />
<text x="110.3" y="78.28" font-size="7.6" font-weight="bold" text-anchor="middle" fill="#111">*</text>
<line x1="106" y1="77.4" x2="114.8" y2="77.4" stroke="#222" stroke-width="0.6"/>
<text x="126.3" y="14.8" font-size="12.5" font-weight="bold">b</text>
<rect x="147.4" y="20.5" width="103.6" height="44.8" fill="#fff" />
<line x1="147.4" y1="50.12" x2="251" y2="50.12" stroke="#ebebeb" stroke-width="0.35"/>
<line x1="147.4" y1="33.77" x2="251" y2="33.77" stroke="#ebebeb" stroke-width="0.35"/>
<line x1="147.4" y1="58.3" x2="251" y2="58.3" stroke="#ebebeb" stroke-width="0.6"/>
<line x1="147.4" y1="41.95" x2="251" y2="41.95" stroke="#ebebeb" stroke-width="0.6"/>
<line x1="147.4" y1="25.6" x2="251" y2="25.6" stroke="#ebebeb" stroke-width="0.6"/>
<line x1="162.6" y1="20.5" x2="162.6" y2="65.3" stroke="#ebebeb" stroke-width="0.6"/>
<line x1="187.3" y1="20.5" x2="187.3" y2="65.3" stroke="#ebebeb" stroke-width="0.6"/>
<line x1="212.1" y1="20.5" x2="212.1" y2="65.3" stroke="#ebebeb" stroke-width="0.6"/>
<line x1="237" y1="20.5" x2="237" y2="65.3" stroke="#ebebeb" stroke-width="0.6"/>
<rect x="147.4" y="20.5" width="103.6" height="44.8" fill="none" stroke="#555" stroke-width="0.6" />
<line x1="146.1" y1="58.3" x2="147.4" y2="58.3" stroke="#333" stroke-width="0.4"/>
<text x="145.2" y="60.03" font-size="4.8" text-anchor="end" fill="#333" stroke="#333" stroke-width="0.17" stroke-opacity="0.55">10</text>
<line x1="146.1" y1="41.95" x2="147.4" y2="41.95" stroke="#333" stroke-width="0.4"/>
<text x="145.2" y="43.68" font-size="4.8" text-anchor="end" fill="#333" stroke="#333" stroke-width="0.17" stroke-opacity="0.55">20</text>
<line x1="146.1" y1="25.6" x2="147.4" y2="25.6" stroke="#333" stroke-width="0.4"/>
<text x="145.2" y="27.33" font-size="4.8" text-anchor="end" fill="#333" stroke="#333" stroke-width="0.17" stroke-opacity="0.55">30</text>
<rect x="147.4" y="69.4" width="103.6" height="29.8" fill="#fff" />
<line x1="147.4" y1="93.05" x2="251" y2="93.05" stroke="#ebebeb" stroke-width="0.35"/>
<line x1="147.4" y1="82.55" x2="251" y2="82.55" stroke="#ebebeb" stroke-width="0.35"/>
<line x1="147.4" y1="72.05" x2="251" y2="72.05" stroke="#ebebeb" stroke-width="0.35"/>
<line x1="147.4" y1="98.3" x2="251" y2="98.3" stroke="#ebebeb" stroke-width="0.6"/>
<line x1="147.4" y1="87.8" x2="251" y2="87.8" stroke="#ebebeb" stroke-width="0.6"/>
<line x1="147.4" y1="77.3" x2="251" y2="77.3" stroke="#ebebeb" stroke-width="0.6"/>
<line x1="162.6" y1="69.4" x2="162.6" y2="99.2" stroke="#ebebeb" stroke-width="0.6"/>
<line x1="187.3" y1="69.4" x2="187.3" y2="99.2" stroke="#ebebeb" stroke-width="0.6"/>
<line x1="212.1" y1="69.4" x2="212.1" y2="99.2" stroke="#ebebeb" stroke-width="0.6"/>
<line x1="237" y1="69.4" x2="237" y2="99.2" stroke="#ebebeb" stroke-width="0.6"/>
<rect x="147.4" y="69.4" width="103.6" height="29.8" fill="none" stroke="#555" stroke-width="0.6" />
<line x1="146.1" y1="98.3" x2="147.4" y2="98.3" stroke="#333" stroke-width="0.4"/>
<text x="145.2" y="100.03" font-size="4.8" text-anchor="end" fill="#333" stroke="#333" stroke-width="0.17" stroke-opacity="0.55">0.0</text>
<line x1="146.1" y1="87.8" x2="147.4" y2="87.8" stroke="#333" stroke-width="0.4"/>
<text x="145.2" y="89.53" font-size="4.8" text-anchor="end" fill="#333" stroke="#333" stroke-width="0.17" stroke-opacity="0.55">0.5</text>
<line x1="146.1" y1="77.3" x2="147.4" y2="77.3" stroke="#333" stroke-width="0.4"/>
<text x="145.2" y="79.03" font-size="4.8" text-anchor="end" fill="#333" stroke="#333" stroke-width="0.17" stroke-opacity="0.55">1.0</text>
<text x="134.6" y="65.6" font-size="6.6" text-anchor="middle" fill="#222" transform="rotate(-90 134.6 65.6)" stroke="#222" stroke-width="0.22" stroke-opacity="0.55">CD8<tspan baseline-shift="2.38" font-size="4.09">+</tspan> (%)</text>
<line x1="162.6" y1="99.2" x2="162.6" y2="100.4" stroke="#333" stroke-width="0.4"/>
<text x="162.6" y="107.7" font-size="6" text-anchor="middle" fill="#222" stroke="#222" stroke-width="0.21" stroke-opacity="0.55">CTLA-4<tspan baseline-shift="2.16" font-size="3.72">+</tspan></text>
<line x1="187.3" y1="99.2" x2="187.3" y2="100.4" stroke="#333" stroke-width="0.4"/>
<text x="187.3" y="107.7" font-size="6" text-anchor="middle" fill="#222" stroke="#222" stroke-width="0.21" stroke-opacity="0.55">LAG-3<tspan baseline-shift="2.16" font-size="3.72">+</tspan></text>
<line x1="212.1" y1="99.2" x2="212.1" y2="100.4" stroke="#333" stroke-width="0.4"/>
<text x="212.1" y="107.7" font-size="6" text-anchor="middle" fill="#222" stroke="#222" stroke-width="0.21" stroke-opacity="0.55">TIGIT<tspan baseline-shift="2.16" font-size="3.72">+</tspan></text>
<line x1="237" y1="99.2" x2="237" y2="100.4" stroke="#333" stroke-width="0.4"/>
<text x="237" y="107.7" font-size="6" text-anchor="middle" fill="#222" stroke="#222" stroke-width="0.21" stroke-opacity="0.55">TIM-3<tspan baseline-shift="2.16" font-size="3.72">+</tspan></text>
<circle cx="205.5" cy="50" r="1.3" fill="#8fa6d8" fill-opacity="0.6"/>
<circle cx="209" cy="53" r="1.3" fill="#8fa6d8" fill-opacity="0.6"/>
<circle cx="206" cy="58" r="1.3" fill="#8fa6d8" fill-opacity="0.6"/>
<circle cx="209.5" cy="60" r="1.3" fill="#8fa6d8" fill-opacity="0.6"/>
<rect x="204.05" y="52.4" width="6.9" height="7.4" fill="none" stroke="#1f48a6" stroke-width="0.9" />
<line x1="204.05" y1="55.2" x2="210.95" y2="55.2" stroke="#1f48a6" stroke-width="1.26"/>
<line x1="207.5" y1="49.5" x2="207.5" y2="52.4" stroke="#1f48a6" stroke-width="0.9"/>
<line x1="207.5" y1="59.8" x2="207.5" y2="62.1" stroke="#1f48a6" stroke-width="0.9"/>
<line x1="204.05" y1="49.5" x2="210.95" y2="49.5" stroke="#1f48a6" stroke-width="0.9"/>
<line x1="204.05" y1="62.1" x2="210.95" y2="62.1" stroke="#1f48a6" stroke-width="0.9"/>
<circle cx="214" cy="33" r="1.5" fill="#f7a6a6" fill-opacity="0.7"/>
<circle cx="217" cy="38" r="1.5" fill="#f7a6a6" fill-opacity="0.7"/>
<circle cx="213.5" cy="44" r="1.5" fill="#f7a6a6" fill-opacity="0.7"/>
<circle cx="216.5" cy="55" r="1.5" fill="#f7a6a6" fill-opacity="0.7"/>
<circle cx="214" cy="61" r="1.5" fill="#f7a6a6" fill-opacity="0.7"/>
<circle cx="215.5" cy="64" r="1.5" fill="#f7a6a6" fill-opacity="0.7"/>
<rect x="212.05" y="35.7" width="6.5" height="16.1" fill="none" stroke="#f01e1e" stroke-width="0.9" />
<line x1="212.05" y1="47.2" x2="218.55" y2="47.2" stroke="#f01e1e" stroke-width="1.26"/>
<line x1="215.3" y1="27.1" x2="215.3" y2="35.7" stroke="#f01e1e" stroke-width="0.9"/>
<line x1="215.3" y1="51.8" x2="215.3" y2="63.3" stroke="#f01e1e" stroke-width="0.9"/>
<line x1="212.05" y1="27.1" x2="218.55" y2="27.1" stroke="#f01e1e" stroke-width="0.9"/>
<line x1="212.05" y1="63.3" x2="218.55" y2="63.3" stroke="#f01e1e" stroke-width="0.9"/>
<text x="205.6" y="24" font-size="4.6" fill="#222" font-style="italic" stroke="#222" stroke-width="0.16" stroke-opacity="0.55">p=0.2</text>
<line x1="204.5" y1="24.9" x2="213" y2="24.9" stroke="#222" stroke-width="0.5"/>
<path d="M154.4 97.6 Q154.4 96.3 156.4 96.3 L161.4 97.1 L161.4 98.1 Q156.4 98.9 154.4 97.6 Z" fill="#1f48a6" />
<circle cx="164" cy="94" r="1.4" fill="#f7a6a6" fill-opacity="0.7"/>
<circle cx="167.5" cy="95" r="1.4" fill="#f7a6a6" fill-opacity="0.7"/>
<circle cx="166" cy="97.5" r="1.4" fill="#f7a6a6" fill-opacity="0.7"/>
<rect x="162.3" y="94.2" width="7" height="3.6" fill="none" stroke="#f01e1e" stroke-width="1.6" />
<line x1="162.3" y1="96.2" x2="169.3" y2="96.2" stroke="#f01e1e" stroke-width="2.24"/>
<line x1="165.8" y1="93.4" x2="165.8" y2="94.2" stroke="#f01e1e" stroke-width="1.6"/>
<line x1="165.8" y1="97.8" x2="165.8" y2="98.3" stroke="#f01e1e" stroke-width="1.6"/>
<line x1="162.3" y1="93.4" x2="169.3" y2="93.4" stroke="#f01e1e" stroke-width="1.6"/>
<line x1="162.3" y1="98.3" x2="169.3" y2="98.3" stroke="#f01e1e" stroke-width="1.6"/>
<text x="156.3" y="86.7" font-size="4.6" fill="#222" font-style="italic" stroke="#222" stroke-width="0.16" stroke-opacity="0.55">p=0.3</text>
<line x1="157" y1="87.6" x2="165" y2="87.6" stroke="#222" stroke-width="0.5"/>
<circle cx="181" cy="93.5" r="1.3" fill="#8fa6d8" fill-opacity="0.6"/>
<circle cx="184" cy="95" r="1.3" fill="#8fa6d8" fill-opacity="0.6"/>
<circle cx="182.5" cy="97.5" r="1.3" fill="#8fa6d8" fill-opacity="0.6"/>
<rect x="179.5" y="93.4" width="7" height="4.2" fill="none" stroke="#1f48a6" stroke-width="1.1" />
<line x1="179.5" y1="96" x2="186.5" y2="96" stroke="#1f48a6" stroke-width="1.54"/>
<line x1="183" y1="92.6" x2="183" y2="93.4" stroke="#1f48a6" stroke-width="1.1"/>
<line x1="183" y1="97.6" x2="183" y2="98.2" stroke="#1f48a6" stroke-width="1.1"/>
<line x1="179.5" y1="92.6" x2="186.5" y2="92.6" stroke="#1f48a6" stroke-width="1.1"/>
<line x1="179.5" y1="98.2" x2="186.5" y2="98.2" stroke="#1f48a6" stroke-width="1.1"/>
<circle cx="189" cy="78" r="1.4" fill="#f7a6a6" fill-opacity="0.7"/>
<circle cx="192.5" cy="84" r="1.4" fill="#f7a6a6" fill-opacity="0.7"/>
<circle cx="189.5" cy="89" r="1.4" fill="#f7a6a6" fill-opacity="0.7"/>
<circle cx="192" cy="93" r="1.4" fill="#f7a6a6" fill-opacity="0.7"/>
<circle cx="190" cy="96" r="1.4" fill="#f7a6a6" fill-opacity="0.7"/>
<rect x="187.5" y="81" width="7.2" height="9.9" fill="none" stroke="#f01e1e" stroke-width="0.9" />
<line x1="187.5" y1="88.1" x2="194.7" y2="88.1" stroke="#f01e1e" stroke-width="1.26"/>
<line x1="191.1" y1="75.9" x2="191.1" y2="81" stroke="#f01e1e" stroke-width="0.9"/>
<line x1="191.1" y1="90.9" x2="191.1" y2="97.3" stroke="#f01e1e" stroke-width="0.9"/>
<line x1="187.5" y1="75.9" x2="194.7" y2="75.9" stroke="#f01e1e" stroke-width="0.9"/>
<line x1="187.5" y1="97.3" x2="194.7" y2="97.3" stroke="#f01e1e" stroke-width="0.9"/>
<text x="186.7" y="75.18" font-size="7.6" font-weight="bold" text-anchor="middle" fill="#111">*</text>
<line x1="182" y1="74.4" x2="191.5" y2="74.4" stroke="#222" stroke-width="0.6"/>
<path d="M228.1 97.4 Q228.1 96.1 230.1 96.1 L235 96.9 L235 97.9 Q230.1 98.7 228.1 97.4 Z" fill="#1f48a6" />
<circle cx="238" cy="89" r="1.3" fill="#f7a6a6" fill-opacity="0.7"/>
<circle cx="241" cy="91" r="1.3" fill="#f7a6a6" fill-opacity="0.7"/>
<circle cx="239" cy="94" r="1.3" fill="#f7a6a6" fill-opacity="0.7"/>
<circle cx="240.1" cy="80.5" r="1.7" fill="#f7a6a6" fill-opacity="0.8"/>
<rect x="236.2" y="88.6" width="6.4" height="5.7" fill="none" stroke="#f01e1e" stroke-width="1" />
<line x1="236.2" y1="91.6" x2="242.6" y2="91.6" stroke="#f01e1e" stroke-width="1.4"/>
<line x1="239.4" y1="87.4" x2="239.4" y2="88.6" stroke="#f01e1e" stroke-width="1"/>
<line x1="239.4" y1="94.3" x2="239.4" y2="95.5" stroke="#f01e1e" stroke-width="1"/>
<line x1="236.2" y1="87.4" x2="242.6" y2="87.4" stroke="#f01e1e" stroke-width="1"/>
<line x1="236.2" y1="95.5" x2="242.6" y2="95.5" stroke="#f01e1e" stroke-width="1"/>
<text x="228.6" y="74.8" font-size="4.6" fill="#222" font-style="italic" stroke="#222" stroke-width="0.16" stroke-opacity="0.55">p=0.05</text>
<line x1="229" y1="75.8" x2="243" y2="75.8" stroke="#222" stroke-width="0.5"/>
<text x="252.5" y="18.6" font-size="12.5" font-weight="bold">c</text>
<text x="252.3" y="87.4" font-size="12.5" font-weight="bold">d</text>
<path d="M278.2 36.8 Q303.1 38.2 328 14.6 L328 35 Q303.1 33.7 278.2 57.4 Z" fill="#d4d4d4" />
<line x1="278.2" y1="47.1" x2="328" y2="24.8" stroke="#b52020" stroke-width="1"/>
<circle cx="278.2" cy="47.1" r="1.1" fill="#000"/>
<circle cx="283.7" cy="46.3" r="1.1" fill="#000"/>
<circle cx="286.8" cy="49.1" r="1.1" fill="#000"/>
<circle cx="292.2" cy="50.5" r="1.1" fill="#000"/>
<circle cx="301" cy="27" r="1.1" fill="#000"/>
<circle cx="301" cy="33.3" r="1.1" fill="#000"/>
<circle cx="308.3" cy="38" r="1.1" fill="#000"/>
<circle cx="310.7" cy="18.8" r="1.1" fill="#000"/>
<circle cx="315.1" cy="32.9" r="1.1" fill="#000"/>
<circle cx="327.6" cy="32.9" r="1.1" fill="#000"/>
<line x1="275.4" y1="9.7" x2="275.4" y2="60.4" stroke="#222" stroke-width="0.6"/>
<line x1="275.4" y1="60.4" x2="329.8" y2="60.4" stroke="#222" stroke-width="0.6"/>
<line x1="274.2" y1="10.7" x2="275.4" y2="10.7" stroke="#333" stroke-width="0.4"/>
<text x="273.7" y="11.9" font-size="3.4" text-anchor="end" fill="#444" stroke="#444" stroke-width="0.12" stroke-opacity="0.55">2.0</text>
<line x1="274.2" y1="21.6" x2="275.4" y2="21.6" stroke="#333" stroke-width="0.4"/>
<text x="273.7" y="22.8" font-size="3.4" text-anchor="end" fill="#444" stroke="#444" stroke-width="0.12" stroke-opacity="0.55">1.5</text>
<line x1="274.2" y1="32.6" x2="275.4" y2="32.6" stroke="#333" stroke-width="0.4"/>
<text x="273.7" y="33.8" font-size="3.4" text-anchor="end" fill="#444" stroke="#444" stroke-width="0.12" stroke-opacity="0.55">1.0</text>
<line x1="274.2" y1="43.6" x2="275.4" y2="43.6" stroke="#333" stroke-width="0.4"/>
<text x="273.7" y="44.8" font-size="3.4" text-anchor="end" fill="#444" stroke="#444" stroke-width="0.12" stroke-opacity="0.55">0.5</text>
<line x1="274.2" y1="54.6" x2="275.4" y2="54.6" stroke="#333" stroke-width="0.4"/>
<text x="273.7" y="55.8" font-size="3.4" text-anchor="end" fill="#444" stroke="#444" stroke-width="0.12" stroke-opacity="0.55">0.0</text>
<line x1="284" y1="60.4" x2="284" y2="61.6" stroke="#333" stroke-width="0.4"/>
<text x="284" y="65" font-size="3.4" text-anchor="middle" fill="#444" stroke="#444" stroke-width="0.12" stroke-opacity="0.55">2500</text>
<line x1="299.7" y1="60.4" x2="299.7" y2="61.6" stroke="#333" stroke-width="0.4"/>
<text x="299.7" y="65" font-size="3.4" text-anchor="middle" fill="#444" stroke="#444" stroke-width="0.12" stroke-opacity="0.55">5000</text>
<line x1="315.4" y1="60.4" x2="315.4" y2="61.6" stroke="#333" stroke-width="0.4"/>
<text x="315.4" y="65" font-size="3.4" text-anchor="middle" fill="#444" stroke="#444" stroke-width="0.12" stroke-opacity="0.55">7500</text>
<text x="302.8" y="70" font-size="4.3" text-anchor="middle" stroke="#000" stroke-width="0.15" stroke-opacity="0.55">Syndecan-1 [pg/mL]</text>
<text x="268" y="36.2" font-size="4.15" text-anchor="middle" transform="rotate(-90 268 36.2)" stroke="#000" stroke-width="0.15" stroke-opacity="0.55">CD4<tspan baseline-shift="1.49" font-size="2.57">+</tspan> TIM-3<tspan baseline-shift="1.49" font-size="2.57">+</tspan> (%)</text>
<text x="278.2" y="15.8" font-size="4" stroke="#000" stroke-width="0.14" stroke-opacity="0.55"><tspan font-style="italic">R</tspan> = 0.72, <tspan font-style="italic">p</tspan> = 0.024</text>
<path d="M345.7 41.2 Q370.8 38.85 395.9 14.1 L395.9 34.5 Q370.8 35.65 345.7 59.2 Z" fill="#d4d4d4" />
<line x1="345.7" y1="50.2" x2="395.9" y2="24.3" stroke="#b52020" stroke-width="1"/>
<circle cx="346.2" cy="49.9" r="1.1" fill="#000"/>
<circle cx="350.4" cy="48.6" r="1.1" fill="#000"/>
<circle cx="351.6" cy="52.2" r="1.1" fill="#000"/>
<circle cx="352" cy="53" r="1.1" fill="#000"/>
<circle cx="363.7" cy="33.7" r="1.1" fill="#000"/>
<circle cx="367.6" cy="27.9" r="1.1" fill="#000"/>
<circle cx="375.5" cy="33.7" r="1.1" fill="#000"/>
<circle cx="377.5" cy="39.7" r="1.1" fill="#000"/>
<circle cx="386.9" cy="19.1" r="1.1" fill="#000"/>
<circle cx="395.9" cy="34.5" r="1.1" fill="#000"/>
<line x1="344.4" y1="9.7" x2="344.4" y2="60.4" stroke="#222" stroke-width="0.6"/>
<line x1="344.4" y1="60.4" x2="398.2" y2="60.4" stroke="#222" stroke-width="0.6"/>
<line x1="343.2" y1="22" x2="344.4" y2="22" stroke="#333" stroke-width="0.4"/>
<text x="342.7" y="23.2" font-size="3.4" text-anchor="end" fill="#444" stroke="#444" stroke-width="0.12" stroke-opacity="0.55">1.5</text>
<line x1="343.2" y1="33.7" x2="344.4" y2="33.7" stroke="#333" stroke-width="0.4"/>
<text x="342.7" y="34.9" font-size="3.4" text-anchor="end" fill="#444" stroke="#444" stroke-width="0.12" stroke-opacity="0.55">1.0</text>
<line x1="343.2" y1="45.8" x2="344.4" y2="45.8" stroke="#333" stroke-width="0.4"/>
<text x="342.7" y="47" font-size="3.4" text-anchor="end" fill="#444" stroke="#444" stroke-width="0.12" stroke-opacity="0.55">0.5</text>
<line x1="343.2" y1="57.7" x2="344.4" y2="57.7" stroke="#333" stroke-width="0.4"/>
<text x="342.7" y="58.9" font-size="3.4" text-anchor="end" fill="#444" stroke="#444" stroke-width="0.12" stroke-opacity="0.55">0.0</text>
<line x1="360.6" y1="60.4" x2="360.6" y2="61.6" stroke="#333" stroke-width="0.4"/>
<text x="360.6" y="65" font-size="3.4" text-anchor="middle" fill="#444" stroke="#444" stroke-width="0.12" stroke-opacity="0.55">5e+06</text>
<line x1="377.8" y1="60.4" x2="377.8" y2="61.6" stroke="#333" stroke-width="0.4"/>
<text x="377.8" y="65" font-size="3.4" text-anchor="middle" fill="#444" stroke="#444" stroke-width="0.12" stroke-opacity="0.55">1e+07</text>
<text x="371" y="70" font-size="4.3" text-anchor="middle" stroke="#000" stroke-width="0.15" stroke-opacity="0.55">VCAM-1 [pg/mL]</text>
<text x="336.8" y="36.2" font-size="4.15" text-anchor="middle" transform="rotate(-90 336.8 36.2)" stroke="#000" stroke-width="0.15" stroke-opacity="0.55">CD4<tspan baseline-shift="1.49" font-size="2.57">+</tspan> TIM-3<tspan baseline-shift="1.49" font-size="2.57">+</tspan> (%)</text>
<text x="347" y="15.8" font-size="4" stroke="#000" stroke-width="0.14" stroke-opacity="0.55"><tspan font-style="italic">R</tspan> = 0.64, <tspan font-style="italic">p</tspan> = 0.054</text>
<path d="M416.2 37.9 Q441.3 39.8 466.4 14.9 L466.4 36.9 Q441.3 34.4 416.2 58.7 Z" fill="#d4d4d4" />
<line x1="416.2" y1="48.3" x2="466.4" y2="25.9" stroke="#b52020" stroke-width="1"/>
<circle cx="416.5" cy="47.8" r="1.1" fill="#000"/>
<circle cx="421.7" cy="49.9" r="1.1" fill="#000"/>
<circle cx="425.9" cy="46.7" r="1.1" fill="#000"/>
<circle cx="431.1" cy="51" r="1.1" fill="#000"/>
<circle cx="435.5" cy="38.6" r="1.1" fill="#000"/>
<circle cx="437" cy="28.5" r="1.1" fill="#000"/>
<circle cx="443.6" cy="33.7" r="1.1" fill="#000"/>
<circle cx="446" cy="20.7" r="1.1" fill="#000"/>
<circle cx="451.8" cy="34.2" r="1.1" fill="#000"/>
<circle cx="466.4" cy="34.5" r="1.1" fill="#000"/>
<line x1="414.6" y1="9.7" x2="414.6" y2="60.4" stroke="#222" stroke-width="0.6"/>
<line x1="414.6" y1="60.4" x2="468.6" y2="60.4" stroke="#222" stroke-width="0.6"/>
<line x1="413.4" y1="11.8" x2="414.6" y2="11.8" stroke="#333" stroke-width="0.4"/>
<text x="412.9" y="13" font-size="3.4" text-anchor="end" fill="#444" stroke="#444" stroke-width="0.12" stroke-opacity="0.55">2.0</text>
<line x1="413.4" y1="23.2" x2="414.6" y2="23.2" stroke="#333" stroke-width="0.4"/>
<text x="412.9" y="24.4" font-size="3.4" text-anchor="end" fill="#444" stroke="#444" stroke-width="0.12" stroke-opacity="0.55">1.5</text>
<line x1="413.4" y1="34.2" x2="414.6" y2="34.2" stroke="#333" stroke-width="0.4"/>
<text x="412.9" y="35.4" font-size="3.4" text-anchor="end" fill="#444" stroke="#444" stroke-width="0.12" stroke-opacity="0.55">1.0</text>
<line x1="413.4" y1="44.7" x2="414.6" y2="44.7" stroke="#333" stroke-width="0.4"/>
<text x="412.9" y="45.9" font-size="3.4" text-anchor="end" fill="#444" stroke="#444" stroke-width="0.12" stroke-opacity="0.55">0.5</text>
<line x1="413.4" y1="55.2" x2="414.6" y2="55.2" stroke="#333" stroke-width="0.4"/>
<text x="412.9" y="56.4" font-size="3.4" text-anchor="end" fill="#444" stroke="#444" stroke-width="0.12" stroke-opacity="0.55">0.0</text>
<line x1="423.5" y1="60.4" x2="423.5" y2="61.6" stroke="#333" stroke-width="0.4"/>
<text x="423.5" y="65" font-size="3.4" text-anchor="middle" fill="#444" stroke="#444" stroke-width="0.12" stroke-opacity="0.55">250</text>
<line x1="435" y1="60.4" x2="435" y2="61.6" stroke="#333" stroke-width="0.4"/>
<text x="435" y="65" font-size="3.4" text-anchor="middle" fill="#444" stroke="#444" stroke-width="0.12" stroke-opacity="0.55">500</text>
<line x1="446" y1="60.4" x2="446" y2="61.6" stroke="#333" stroke-width="0.4"/>
<text x="446" y="65" font-size="3.4" text-anchor="middle" fill="#444" stroke="#444" stroke-width="0.12" stroke-opacity="0.55">750</text>
<line x1="457.7" y1="60.4" x2="457.7" y2="61.6" stroke="#333" stroke-width="0.4"/>
<text x="457.7" y="65" font-size="3.4" text-anchor="middle" fill="#444" stroke="#444" stroke-width="0.12" stroke-opacity="0.55">1000</text>
<line x1="468" y1="60.4" x2="468" y2="61.6" stroke="#333" stroke-width="0.4"/>
<text x="468" y="65" font-size="3.4" text-anchor="middle" fill="#444" stroke="#444" stroke-width="0.12" stroke-opacity="0.55">1250</text>
<text x="441.3" y="70" font-size="4.3" text-anchor="middle" stroke="#000" stroke-width="0.15" stroke-opacity="0.55">Ferritin [ng/mL]</text>
<text x="406.8" y="36.2" font-size="4.15" text-anchor="middle" transform="rotate(-90 406.8 36.2)" stroke="#000" stroke-width="0.15" stroke-opacity="0.55">CD4<tspan baseline-shift="1.49" font-size="2.57">+</tspan> TIM-3<tspan baseline-shift="1.49" font-size="2.57">+</tspan> (%)</text>
<text x="416.6" y="15.8" font-size="4" stroke="#000" stroke-width="0.14" stroke-opacity="0.55"><tspan font-style="italic">R</tspan> = 0.71, <tspan font-style="italic">p</tspan> = 0.028</text>
<path d="M278.2 110.6 Q302.85 112.8 327.5 93.4 L327.5 113.4 Q302.85 110 278.2 128.2 Z" fill="#d4d4d4" />
<line x1="278.2" y1="119.4" x2="327.5" y2="103.4" stroke="#b52020" stroke-width="1"/>
<circle cx="278" cy="121.5" r="1.1" fill="#000"/>
<circle cx="283.4" cy="120.5" r="1.1" fill="#000"/>
<circle cx="286.4" cy="117.1" r="1.1" fill="#000"/>
<circle cx="292.2" cy="121" r="1.1" fill="#000"/>
<circle cx="300.8" cy="108" r="1.1" fill="#000"/>
<circle cx="300.8" cy="111.1" r="1.1" fill="#000"/>
<circle cx="308.3" cy="103.7" r="1.1" fill="#000"/>
<circle cx="310.7" cy="99" r="1.1" fill="#000"/>
<circle cx="315.1" cy="105.3" r="1.1" fill="#000"/>
<circle cx="327.3" cy="116.6" r="1.1" fill="#000"/>
<line x1="275.4" y1="80.2" x2="275.4" y2="130.4" stroke="#222" stroke-width="0.6"/>
<line x1="275.4" y1="130.4" x2="329.8" y2="130.4" stroke="#222" stroke-width="0.6"/>
<line x1="274.2" y1="89.1" x2="275.4" y2="89.1" stroke="#333" stroke-width="0.4"/>
<text x="273.7" y="90.3" font-size="3.4" text-anchor="end" fill="#444" stroke="#444" stroke-width="0.12" stroke-opacity="0.55">1.5</text>
<line x1="274.2" y1="99.8" x2="275.4" y2="99.8" stroke="#333" stroke-width="0.4"/>
<text x="273.7" y="101" font-size="3.4" text-anchor="end" fill="#444" stroke="#444" stroke-width="0.12" stroke-opacity="0.55">1.0</text>
<line x1="274.2" y1="111.1" x2="275.4" y2="111.1" stroke="#333" stroke-width="0.4"/>
<text x="273.7" y="112.3" font-size="3.4" text-anchor="end" fill="#444" stroke="#444" stroke-width="0.12" stroke-opacity="0.55">0.5</text>
<line x1="274.2" y1="121.5" x2="275.4" y2="121.5" stroke="#333" stroke-width="0.4"/>
<text x="273.7" y="122.7" font-size="3.4" text-anchor="end" fill="#444" stroke="#444" stroke-width="0.12" stroke-opacity="0.55">0.0</text>
<line x1="284" y1="130.4" x2="284" y2="131.6" stroke="#333" stroke-width="0.4"/>
<text x="284" y="135" font-size="3.4" text-anchor="middle" fill="#444" stroke="#444" stroke-width="0.12" stroke-opacity="0.55">2500</text>
<line x1="299.7" y1="130.4" x2="299.7" y2="131.6" stroke="#333" stroke-width="0.4"/>
<text x="299.7" y="135" font-size="3.4" text-anchor="middle" fill="#444" stroke="#444" stroke-width="0.12" stroke-opacity="0.55">5000</text>
<line x1="315.4" y1="130.4" x2="315.4" y2="131.6" stroke="#333" stroke-width="0.4"/>
<text x="315.4" y="135" font-size="3.4" text-anchor="middle" fill="#444" stroke="#444" stroke-width="0.12" stroke-opacity="0.55">7500</text>
<text x="302.8" y="140" font-size="4.3" text-anchor="middle" stroke="#000" stroke-width="0.15" stroke-opacity="0.55">Syndecan-1 [pg/mL]</text>
<text x="268" y="104.4" font-size="4.15" text-anchor="middle" transform="rotate(-90 268 104.4)" stroke="#000" stroke-width="0.15" stroke-opacity="0.55">CD8<tspan baseline-shift="1.49" font-size="2.57">+</tspan> LAG-3<tspan baseline-shift="1.49" font-size="2.57">+</tspan> (%)</text>
<text x="278.2" y="84" font-size="4" stroke="#000" stroke-width="0.14" stroke-opacity="0.55"><tspan font-style="italic">R</tspan> = 0.75, <tspan font-style="italic">p</tspan> = 0.018</text>
<path d="M346.2 112.7 Q371.05 113.25 395.9 94 L395.9 112.6 Q371.05 110.55 346.2 128.3 Z" fill="#d4d4d4" />
<line x1="346.2" y1="120.5" x2="395.9" y2="103.3" stroke="#b52020" stroke-width="1"/>
<circle cx="346.2" cy="123.3" r="1.1" fill="#000"/>
<circle cx="350.1" cy="122.1" r="1.1" fill="#000"/>
<circle cx="351.2" cy="122.9" r="1.1" fill="#000"/>
<circle cx="351.6" cy="118.6" r="1.1" fill="#000"/>
<circle cx="363.4" cy="106.5" r="1.1" fill="#000"/>
<circle cx="367.3" cy="108.9" r="1.1" fill="#000"/>
<circle cx="375.5" cy="118.3" r="1.1" fill="#000"/>
<circle cx="377.1" cy="104.5" r="1.1" fill="#000"/>
<circle cx="386.9" cy="99.8" r="1.1" fill="#000"/>
<circle cx="395.9" cy="112" r="1.1" fill="#000"/>
<line x1="343.6" y1="80.2" x2="343.6" y2="130.4" stroke="#222" stroke-width="0.6"/>
<line x1="343.6" y1="130.4" x2="398.2" y2="130.4" stroke="#222" stroke-width="0.6"/>
<line x1="342.4" y1="89.1" x2="343.6" y2="89.1" stroke="#333" stroke-width="0.4"/>
<text x="341.9" y="90.3" font-size="3.4" text-anchor="end" fill="#444" stroke="#444" stroke-width="0.12" stroke-opacity="0.55">1.5</text>
<line x1="342.4" y1="100.6" x2="343.6" y2="100.6" stroke="#333" stroke-width="0.4"/>
<text x="341.9" y="101.8" font-size="3.4" text-anchor="end" fill="#444" stroke="#444" stroke-width="0.12" stroke-opacity="0.55">1.0</text>
<line x1="342.4" y1="112" x2="343.6" y2="112" stroke="#333" stroke-width="0.4"/>
<text x="341.9" y="113.2" font-size="3.4" text-anchor="end" fill="#444" stroke="#444" stroke-width="0.12" stroke-opacity="0.55">0.5</text>
<line x1="342.4" y1="123.3" x2="343.6" y2="123.3" stroke="#333" stroke-width="0.4"/>
<text x="341.9" y="124.5" font-size="3.4" text-anchor="end" fill="#444" stroke="#444" stroke-width="0.12" stroke-opacity="0.55">0.0</text>
<line x1="360.6" y1="130.4" x2="360.6" y2="131.6" stroke="#333" stroke-width="0.4"/>
<text x="360.6" y="135" font-size="3.4" text-anchor="middle" fill="#444" stroke="#444" stroke-width="0.12" stroke-opacity="0.55">5e+06</text>
<line x1="377.8" y1="130.4" x2="377.8" y2="131.6" stroke="#333" stroke-width="0.4"/>
<text x="377.8" y="135" font-size="3.4" text-anchor="middle" fill="#444" stroke="#444" stroke-width="0.12" stroke-opacity="0.55">1e+07</text>
<text x="371" y="140" font-size="4.3" text-anchor="middle" stroke="#000" stroke-width="0.15" stroke-opacity="0.55">VCAM-1 [pg/mL]</text>
<text x="336.4" y="104.4" font-size="4.15" text-anchor="middle" transform="rotate(-90 336.4 104.4)" stroke="#000" stroke-width="0.15" stroke-opacity="0.55">CD8<tspan baseline-shift="1.49" font-size="2.57">+</tspan> LAG-3<tspan baseline-shift="1.49" font-size="2.57">+</tspan> (%)</text>
<text x="347" y="84" font-size="4" stroke="#000" stroke-width="0.14" stroke-opacity="0.55"><tspan font-style="italic">R</tspan> = 0.79, <tspan font-style="italic">p</tspan> = 0.0096</text>
<path d="M416.2 108.8 Q441.05 114 465.9 94.2 L465.9 116.4 Q441.05 109.9 416.2 128.4 Z" fill="#d4d4d4" />
<line x1="416.2" y1="118.6" x2="465.9" y2="105.3" stroke="#b52020" stroke-width="1"/>
<circle cx="416.2" cy="122.1" r="1.1" fill="#000"/>
<circle cx="425.3" cy="121" r="1.1" fill="#000"/>
<circle cx="430.8" cy="121.5" r="1.1" fill="#000"/>
<circle cx="435" cy="103.7" r="1.1" fill="#000"/>
<circle cx="436.6" cy="108" r="1.1" fill="#000"/>
<circle cx="443.3" cy="105.8" r="1.1" fill="#000"/>
<circle cx="445.7" cy="99.3" r="1.1" fill="#000"/>
<circle cx="451.5" cy="117.1" r="1.1" fill="#000"/>
<circle cx="465.9" cy="111.1" r="1.1" fill="#000"/>
<line x1="413.8" y1="80.2" x2="413.8" y2="130.4" stroke="#222" stroke-width="0.6"/>
<line x1="413.8" y1="130.4" x2="468.6" y2="130.4" stroke="#222" stroke-width="0.6"/>
<line x1="412.6" y1="89.1" x2="413.8" y2="89.1" stroke="#333" stroke-width="0.4"/>
<text x="412.1" y="90.3" font-size="3.4" text-anchor="end" fill="#444" stroke="#444" stroke-width="0.12" stroke-opacity="0.55">1.5</text>
<line x1="412.6" y1="100.3" x2="413.8" y2="100.3" stroke="#333" stroke-width="0.4"/>
<text x="412.1" y="101.5" font-size="3.4" text-anchor="end" fill="#444" stroke="#444" stroke-width="0.12" stroke-opacity="0.55">1.0</text>
<line x1="412.6" y1="111.3" x2="413.8" y2="111.3" stroke="#333" stroke-width="0.4"/>
<text x="412.1" y="112.5" font-size="3.4" text-anchor="end" fill="#444" stroke="#444" stroke-width="0.12" stroke-opacity="0.55">0.5</text>
<line x1="412.6" y1="122.2" x2="413.8" y2="122.2" stroke="#333" stroke-width="0.4"/>
<text x="412.1" y="123.4" font-size="3.4" text-anchor="end" fill="#444" stroke="#444" stroke-width="0.12" stroke-opacity="0.55">0.0</text>
<line x1="423.5" y1="130.4" x2="423.5" y2="131.6" stroke="#333" stroke-width="0.4"/>
<text x="423.5" y="135" font-size="3.4" text-anchor="middle" fill="#444" stroke="#444" stroke-width="0.12" stroke-opacity="0.55">250</text>
<line x1="435" y1="130.4" x2="435" y2="131.6" stroke="#333" stroke-width="0.4"/>
<text x="435" y="135" font-size="3.4" text-anchor="middle" fill="#444" stroke="#444" stroke-width="0.12" stroke-opacity="0.55">500</text>
<line x1="446" y1="130.4" x2="446" y2="131.6" stroke="#333" stroke-width="0.4"/>
<text x="446" y="135" font-size="3.4" text-anchor="middle" fill="#444" stroke="#444" stroke-width="0.12" stroke-opacity="0.55">750</text>
<line x1="457.7" y1="130.4" x2="457.7" y2="131.6" stroke="#333" stroke-width="0.4"/>
<text x="457.7" y="135" font-size="3.4" text-anchor="middle" fill="#444" stroke="#444" stroke-width="0.12" stroke-opacity="0.55">1000</text>
<line x1="468" y1="130.4" x2="468" y2="131.6" stroke="#333" stroke-width="0.4"/>
<text x="468" y="135" font-size="3.4" text-anchor="middle" fill="#444" stroke="#444" stroke-width="0.12" stroke-opacity="0.55">1250</text>
<text x="441.3" y="140" font-size="4.3" text-anchor="middle" stroke="#000" stroke-width="0.15" stroke-opacity="0.55">Ferritin [ng/mL]</text>
<text x="406.4" y="104.4" font-size="4.15" text-anchor="middle" transform="rotate(-90 406.4 104.4)" stroke="#000" stroke-width="0.15" stroke-opacity="0.55">CD8<tspan baseline-shift="1.49" font-size="2.57">+</tspan> LAG-3<tspan baseline-shift="1.49" font-size="2.57">+</tspan> (%)</text>
<text x="416.6" y="84" font-size="4" stroke="#000" stroke-width="0.14" stroke-opacity="0.55"><tspan font-style="italic">R</tspan> = 0.62, <tspan font-style="italic">p</tspan> = 0.03</text>
<text x="474.5" y="19.4" font-size="12.5" font-weight="bold">e</text>
<text x="530" y="12.2" font-size="8.2" font-weight="bold" text-anchor="middle">non-SD</text>
<text x="598.5" y="12" font-size="8.2" font-weight="bold" text-anchor="middle">SD</text>
<text x="496.6" y="46.5" font-size="8.6" font-weight="bold" text-anchor="middle" transform="rotate(-90 496.6 46.5)">CD4<tspan baseline-shift="3.1" font-size="5.33">+</tspan></text>
<text x="496.6" y="115.6" font-size="8.6" font-weight="bold" text-anchor="middle" transform="rotate(-90 496.6 115.6)">CD8<tspan baseline-shift="3.1" font-size="5.33">+</tspan></text>
<path d="M532.8 48.1L532.8 32.4A15.7 15.7 0 0 1 547.89 43.77Z" fill="#6e6e6e" />
<path d="M532.8 48.1L547.89 43.77A15.7 15.7 0 1 1 532.8 32.4Z" fill="#242424" />
<path d="M533.78 20.12 A28 28 0 0 1 558.76 37.61" fill="none" stroke="#00B0F6" stroke-width="2" stroke-linecap="butt"/>
<path d="M506.17 56.75 A28 28 0 0 1 531.82 20.12" fill="none" stroke="#00B0F6" stroke-width="2" stroke-linecap="butt"/>
<path d="M534.09 23.53 A24.6 24.6 0 1 1 509.83 56.92" fill="none" stroke="#00BF7D" stroke-width="2" stroke-linecap="butt"/>
<path d="M531.17 16.94 A31.2 31.2 0 0 1 533.89 16.92" fill="none" stroke="#E76BF3" stroke-width="2" stroke-linecap="butt"/>
<path d="M560.97 36.14 A30.6 30.6 0 0 1 561.73 38.14" fill="none" stroke="#E76BF3" stroke-width="2" stroke-linecap="butt"/>
<path d="M532.8 26.8 A21.3 21.3 0 0 1 533.91 26.83" fill="none" stroke="#A3A500" stroke-width="2" stroke-linecap="butt"/>
<path d="M532.48 29.8 A18.3 18.3 0 0 1 533.12 29.8" fill="none" stroke="#F8766D" stroke-width="2" stroke-linecap="butt"/>
<path d="M598.1 48.2L598.1 32.3A15.9 15.9 0 0 1 602.48 32.92Z" fill="#d2d2d2" />
<path d="M598.1 48.2L602.48 32.92A15.9 15.9 0 0 1 610.46 38.19Z" fill="#a8a8a8" />
<path d="M598.1 48.2L610.46 38.19A15.9 15.9 0 0 1 598.1 64.1Z" fill="#6e6e6e" />
<path d="M598.1 48.2L598.1 64.1A15.9 15.9 0 0 1 598.1 32.3Z" fill="#242424" />
<path d="M577.44 66.8 A27.8 27.8 0 0 1 596.65 20.44" fill="none" stroke="#00B0F6" stroke-width="2" stroke-linecap="butt"/>
<path d="M598.59 20.4 A27.8 27.8 0 0 1 603.4 20.91" fill="none" stroke="#00B0F6" stroke-width="2" stroke-linecap="butt"/>
<path d="M605.02 20.45 A28.6 28.6 0 0 1 600.1 76.73" fill="none" stroke="#00B0F6" stroke-width="2" stroke-linecap="butt"/>
<path d="M598.98 22.92 A25.3 25.3 0 1 1 579.6 65.45" fill="none" stroke="#00BF7D" stroke-width="2" stroke-linecap="butt"/>
<path d="M598.1 26.8 A21.4 21.4 0 0 1 602.55 27.27" fill="none" stroke="#A3A500" stroke-width="2" stroke-linecap="butt"/>
<path d="M611.28 31.34 A21.4 21.4 0 0 1 614.49 34.44" fill="none" stroke="#A3A500" stroke-width="2" stroke-linecap="butt"/>
<path d="M598.1 29.7 A18.5 18.5 0 0 1 609.49 33.62" fill="none" stroke="#F8766D" stroke-width="2" stroke-linecap="butt"/>
<path d="M593.76 17.3 A31.2 31.2 0 0 1 597.01 17.02" fill="none" stroke="#E76BF3" stroke-width="2" stroke-linecap="butt"/>
<path d="M601.36 17.17 A31.2 31.2 0 0 1 604.05 17.57" fill="none" stroke="#E76BF3" stroke-width="2" stroke-linecap="butt"/>
<path d="M621.85 28.27 A31 31 0 0 1 624.1 31.32" fill="none" stroke="#E76BF3" stroke-width="2" stroke-linecap="butt"/>
<path d="M599.75 79.66 A31.5 31.5 0 0 1 597.55 79.7" fill="none" stroke="#E76BF3" stroke-width="2" stroke-linecap="butt"/>
<path d="M530.8 115.7L530.8 99.8A15.9 15.9 0 0 1 544.84 108.24Z" fill="#6e6e6e" />
<path d="M530.8 115.7L544.84 108.24A15.9 15.9 0 1 1 530.8 99.8Z" fill="#242424" />
<path d="M531.78 87.62 A28.1 28.1 0 0 1 555.61 102.51" fill="none" stroke="#00B0F6" stroke-width="2" stroke-linecap="butt"/>
<path d="M557.52 124.38 A28.1 28.1 0 1 1 529.82 87.62" fill="none" stroke="#00B0F6" stroke-width="2" stroke-linecap="butt"/>
<path d="M532.13 90.33 A25.4 25.4 0 0 1 555.22 122.7" fill="none" stroke="#00BF7D" stroke-width="2" stroke-linecap="butt"/>
<path d="M529.72 84.82 A30.9 30.9 0 0 1 531.61 84.81" fill="none" stroke="#E76BF3" stroke-width="2" stroke-linecap="butt"/>
<path d="M557.47 101.52 A30.2 30.2 0 0 1 558.39 103.42" fill="none" stroke="#E76BF3" stroke-width="2" stroke-linecap="butt"/>
<path d="M530.8 94.7 A21 21 0 0 1 531.72 94.72" fill="none" stroke="#A3A500" stroke-width="2" stroke-linecap="butt"/>
<path d="M597.3 115.7L597.3 99.5A16.2 16.2 0 0 1 598.15 99.52Z" fill="#ececec" />
<path d="M597.3 115.7L598.15 99.52A16.2 16.2 0 0 1 599.55 99.66Z" fill="#d2d2d2" />
<path d="M597.3 115.7L599.55 99.66A16.2 16.2 0 1 1 586.67 127.93Z" fill="#6e6e6e" />
<path d="M597.3 115.7L586.67 127.93A16.2 16.2 0 0 1 597.3 99.5Z" fill="#242424" />
<path d="M598.77 87.64 A28.1 28.1 0 1 1 595.34 87.67" fill="none" stroke="#00B0F6" stroke-width="2" stroke-linecap="butt"/>
<path d="M598.59 91.13 A24.6 24.6 0 1 1 581.16 134.27" fill="none" stroke="#00BF7D" stroke-width="2" stroke-linecap="butt"/>
<path d="M597.66 95.1 A20.6 20.6 0 0 1 599.81 95.25" fill="none" stroke="#A3A500" stroke-width="2" stroke-linecap="butt"/>
<path d="M595.68 84.74 A31 31 0 0 1 597.3 84.7" fill="none" stroke="#E76BF3" stroke-width="2" stroke-linecap="butt"/>
<path d="M601.61 85 A31 31 0 0 1 603.22 85.27" fill="none" stroke="#E76BF3" stroke-width="2" stroke-linecap="butt"/>
<path d="M575 137.23 A31 31 0 0 1 573.9 136.04" fill="none" stroke="#E76BF3" stroke-width="2" stroke-linecap="butt"/>
<rect x="646.3" y="53.4" width="12.6" height="12.6" fill="#242424" />
<text x="664.5" y="62.6" font-size="7" fill="#222" stroke="#222" stroke-width="0.22" stroke-opacity="0.55">1</text>
<rect x="646.3" y="66.75" width="12.6" height="12.6" fill="#6e6e6e" />
<text x="664.5" y="75.95" font-size="7" fill="#222" stroke="#222" stroke-width="0.22" stroke-opacity="0.55">2</text>
<rect x="646.3" y="80.1" width="12.6" height="12.6" fill="#a8a8a8" />
<text x="664.5" y="89.3" font-size="7" fill="#222" stroke="#222" stroke-width="0.22" stroke-opacity="0.55">3</text>
<rect x="646.3" y="93.45" width="12.6" height="12.6" fill="#d2d2d2" />
<text x="664.5" y="102.65" font-size="7" fill="#222" stroke="#222" stroke-width="0.22" stroke-opacity="0.55">4</text>
<rect x="646.3" y="106.8" width="12.6" height="12.6" fill="#ececec" />
<text x="664.5" y="116" font-size="7" fill="#222" stroke="#222" stroke-width="0.22" stroke-opacity="0.55">5</text>
<text x="642" y="84.5" font-size="5.9" text-anchor="middle" fill="#222" transform="rotate(-90 642 84.5)" stroke="#222" stroke-width="0.21" stroke-opacity="0.55">N<tspan dy="-2" font-size="4">o</tspan><tspan dy="2"> of co-inhibitory receptors</tspan></text>
<rect x="498" y="149" width="10.4" height="10.3" fill="#F8766D" />
<text x="510.2" y="156.6" font-size="6.2" fill="#222" stroke="#222" stroke-width="0.22" stroke-opacity="0.55">CTLA-4</text>
<rect x="532.7" y="149" width="10.4" height="10.3" fill="#A3A500" />
<text x="544.9" y="156.6" font-size="6.2" fill="#222" stroke="#222" stroke-width="0.22" stroke-opacity="0.55">LAG-3</text>
<rect x="567.5" y="149" width="10.4" height="10.3" fill="#00BF7D" />
<text x="579.7" y="156.6" font-size="6.2" fill="#222" stroke="#222" stroke-width="0.22" stroke-opacity="0.55">PD-1</text>
<rect x="602.5" y="149" width="10.4" height="10.3" fill="#00B0F6" />
<text x="614.7" y="156.6" font-size="6.2" fill="#222" stroke="#222" stroke-width="0.22" stroke-opacity="0.55">TIGIT</text>
<rect x="637.3" y="149" width="10.4" height="10.3" fill="#E76BF3" />
<text x="649.5" y="156.6" font-size="6.2" fill="#222" stroke="#222" stroke-width="0.22" stroke-opacity="0.55">TIM-3</text>
<text x="7.4" y="127.8" font-size="12.5" font-weight="bold">f</text>
<path d="M26.7 141.4C26.83 140.48 27.83 138.55 29 137.5C30.17 136.45 32.25 135.63 33.7 135.1C35.15 134.57 36.52 134.17 37.7 134.3C38.88 134.43 39.23 135.25 40.8 135.9C42.37 136.55 45 137.28 47.1 138.2C49.2 139.12 51.45 140.22 53.4 141.4C55.35 142.58 57.37 143.73 58.8 145.3C60.23 146.87 61.6 148.83 62 150.8C62.4 152.77 61.85 155.27 61.2 157.1C60.55 158.93 59.4 160.63 58.1 161.8C56.8 162.97 55.23 163.85 53.4 164.1C51.57 164.35 49.2 163.95 47.1 163.3C45 162.65 42.5 161.37 40.8 160.2C39.1 159.03 37.82 157.87 36.9 156.3C35.98 154.73 35.43 152.5 35.3 150.8C35.17 149.1 36.48 147.28 36.1 146.1C35.72 144.92 34.32 144.22 33 143.7C31.68 143.18 29.25 143.38 28.2 143C27.15 142.62 26.57 142.32 26.7 141.4Z" fill="#f7f7f7" stroke="#e2e2e2" stroke-width="0.45" />
<g clip-path="url(#c1)" fill="#e2e2e2"><circle cx="35.33" cy="150.33" r="0.28"/><circle cx="39.95" cy="152.12" r="0.28"/><circle cx="48.9" cy="135.97" r="0.28"/><circle cx="27.46" cy="159.12" r="0.28"/><circle cx="36.08" cy="141.03" r="0.28"/><circle cx="61.85" cy="148.11" r="0.28"/><circle cx="56.28" cy="148.29" r="0.28"/><circle cx="49.37" cy="138.52" r="0.28"/><circle cx="49.22" cy="160.04" r="0.28"/><circle cx="45.31" cy="156.24" r="0.28"/><circle cx="50.5" cy="135.92" r="0.28"/><circle cx="53.54" cy="151.73" r="0.28"/><circle cx="37.54" cy="134.93" r="0.28"/><circle cx="57.29" cy="148.18" r="0.28"/><circle cx="52.16" cy="160.36" r="0.28"/><circle cx="51.99" cy="161.63" r="0.28"/><circle cx="40.82" cy="158.03" r="0.28"/><circle cx="42.56" cy="162.07" r="0.28"/><circle cx="57.76" cy="136.92" r="0.28"/><circle cx="31.76" cy="140.51" r="0.28"/><circle cx="60.79" cy="147.08" r="0.28"/><circle cx="48.93" cy="143.03" r="0.28"/><circle cx="44.75" cy="145.58" r="0.28"/><circle cx="39.28" cy="151.55" r="0.28"/><circle cx="47.45" cy="161.13" r="0.28"/><circle cx="50.87" cy="161.87" r="0.28"/><circle cx="56.97" cy="163.73" r="0.28"/><circle cx="50.49" cy="138.89" r="0.28"/><circle cx="57.12" cy="162.94" r="0.28"/><circle cx="58.66" cy="151.07" r="0.28"/><circle cx="51.98" cy="140.33" r="0.28"/><circle cx="56.11" cy="151.21" r="0.28"/><circle cx="36.97" cy="135.9" r="0.28"/><circle cx="56.89" cy="163.69" r="0.28"/><circle cx="30.1" cy="158.02" r="0.28"/><circle cx="41.37" cy="138.52" r="0.28"/><circle cx="37.29" cy="157.06" r="0.28"/><circle cx="57.55" cy="135.33" r="0.28"/><circle cx="48.51" cy="135.35" r="0.28"/><circle cx="52.15" cy="143.93" r="0.28"/><circle cx="57.83" cy="163.42" r="0.28"/><circle cx="44.69" cy="163.96" r="0.28"/><circle cx="37.84" cy="136.31" r="0.28"/><circle cx="47.99" cy="134.94" r="0.28"/><circle cx="33.91" cy="146.24" r="0.28"/><circle cx="48.37" cy="138.69" r="0.28"/><circle cx="28.49" cy="160.03" r="0.28"/><circle cx="37.98" cy="162.76" r="0.28"/><circle cx="58.38" cy="145.33" r="0.28"/><circle cx="43.11" cy="149.6" r="0.28"/><circle cx="49.54" cy="151.87" r="0.28"/><circle cx="46.57" cy="152.6" r="0.28"/><circle cx="59.92" cy="149.21" r="0.28"/><circle cx="42.09" cy="155.61" r="0.28"/><circle cx="35.32" cy="143.03" r="0.28"/><circle cx="61.22" cy="149.63" r="0.28"/><circle cx="46.2" cy="134.34" r="0.28"/><circle cx="41.53" cy="151.4" r="0.28"/><circle cx="27.7" cy="152.47" r="0.28"/><circle cx="49.13" cy="135.8" r="0.28"/><circle cx="48.96" cy="147.99" r="0.28"/><circle cx="50.77" cy="144.58" r="0.28"/><circle cx="51.74" cy="156.14" r="0.28"/><circle cx="27.78" cy="135.82" r="0.28"/><circle cx="50.66" cy="162.9" r="0.28"/><circle cx="35.79" cy="147.69" r="0.28"/><circle cx="47.74" cy="143.6" r="0.28"/><circle cx="39.74" cy="143.38" r="0.28"/><circle cx="39.92" cy="151.87" r="0.28"/><circle cx="37.51" cy="145.31" r="0.28"/><circle cx="54.03" cy="134.81" r="0.28"/><circle cx="46.92" cy="156.06" r="0.28"/><circle cx="37.85" cy="140.68" r="0.28"/><circle cx="55.13" cy="141.16" r="0.28"/><circle cx="33.56" cy="147.06" r="0.28"/><circle cx="51.43" cy="137.06" r="0.28"/><circle cx="38.27" cy="144.01" r="0.28"/><circle cx="56.17" cy="147.15" r="0.28"/><circle cx="56.94" cy="139.08" r="0.28"/><circle cx="38.78" cy="153.51" r="0.28"/><circle cx="57.97" cy="147.53" r="0.28"/><circle cx="34.88" cy="137.63" r="0.28"/><circle cx="45.54" cy="139.72" r="0.28"/><circle cx="55.24" cy="159.15" r="0.28"/><circle cx="33.43" cy="142.36" r="0.28"/><circle cx="55.25" cy="153.26" r="0.28"/><circle cx="55.22" cy="144.36" r="0.28"/><circle cx="31.54" cy="142.76" r="0.28"/><circle cx="54.79" cy="142.14" r="0.28"/><circle cx="39.12" cy="146.51" r="0.28"/><circle cx="41.69" cy="146.29" r="0.28"/><circle cx="59.22" cy="138.68" r="0.28"/><circle cx="27.16" cy="162.3" r="0.28"/><circle cx="57.8" cy="163.61" r="0.28"/><circle cx="42.2" cy="162.5" r="0.28"/><circle cx="59.46" cy="140.66" r="0.28"/><circle cx="53.09" cy="159.1" r="0.28"/><circle cx="50.2" cy="149.57" r="0.28"/><circle cx="37.12" cy="144.23" r="0.28"/><circle cx="34.96" cy="136.04" r="0.28"/><circle cx="47.6" cy="142.61" r="0.28"/><circle cx="55.36" cy="135.35" r="0.28"/><circle cx="58.63" cy="154.81" r="0.28"/><circle cx="59.33" cy="160.9" r="0.28"/><circle cx="58.49" cy="151.31" r="0.28"/><circle cx="27.46" cy="156.36" r="0.28"/><circle cx="33.01" cy="143" r="0.28"/><circle cx="50.2" cy="149.75" r="0.28"/><circle cx="41.48" cy="162.17" r="0.28"/><circle cx="48.43" cy="144.24" r="0.28"/><circle cx="35.84" cy="159.85" r="0.28"/><circle cx="43.7" cy="157.47" r="0.28"/><circle cx="39.31" cy="139.92" r="0.28"/><circle cx="45.71" cy="158.5" r="0.28"/><circle cx="33" cy="157.75" r="0.28"/><circle cx="59.26" cy="158.18" r="0.28"/><circle cx="55.82" cy="134.23" r="0.28"/><circle cx="49" cy="159.88" r="0.28"/><circle cx="28.75" cy="142.14" r="0.28"/><circle cx="36.4" cy="149.82" r="0.28"/><circle cx="41.8" cy="148.19" r="0.28"/><circle cx="54.18" cy="134.05" r="0.28"/><circle cx="28.92" cy="137.81" r="0.28"/><circle cx="31.36" cy="136.05" r="0.28"/><circle cx="61.11" cy="159.63" r="0.28"/><circle cx="30.01" cy="149.06" r="0.28"/><circle cx="38.06" cy="143.44" r="0.28"/><circle cx="39.3" cy="153.41" r="0.28"/><circle cx="47.53" cy="144.83" r="0.28"/><circle cx="33.69" cy="143.86" r="0.28"/><circle cx="31.33" cy="150.67" r="0.28"/><circle cx="52.06" cy="145.41" r="0.28"/><circle cx="29.8" cy="139.36" r="0.28"/><circle cx="40.06" cy="152.13" r="0.28"/><circle cx="54.39" cy="145.41" r="0.28"/><circle cx="55.04" cy="152.69" r="0.28"/><circle cx="42.11" cy="145.17" r="0.28"/><circle cx="44.37" cy="155.09" r="0.28"/><circle cx="41.72" cy="154.82" r="0.28"/><circle cx="43.13" cy="141.35" r="0.28"/><circle cx="45.75" cy="154.86" r="0.28"/><circle cx="29.51" cy="146.75" r="0.28"/><circle cx="41.9" cy="160.39" r="0.28"/><circle cx="59.78" cy="145.23" r="0.28"/><circle cx="58.42" cy="157.73" r="0.28"/><circle cx="36.18" cy="147.92" r="0.28"/><circle cx="31.31" cy="158.4" r="0.28"/><circle cx="50.18" cy="160.62" r="0.28"/><circle cx="54.74" cy="154.03" r="0.28"/><circle cx="52.68" cy="150.92" r="0.28"/><circle cx="30.61" cy="151.63" r="0.28"/><circle cx="27.17" cy="138.31" r="0.28"/><circle cx="54.1" cy="135.33" r="0.28"/><circle cx="30.21" cy="136.98" r="0.28"/><circle cx="57.82" cy="139.37" r="0.28"/><circle cx="27.82" cy="159.25" r="0.28"/><circle cx="31.24" cy="159.32" r="0.28"/><circle cx="50.57" cy="159.09" r="0.28"/><circle cx="60.33" cy="151.37" r="0.28"/><circle cx="54.96" cy="135.09" r="0.28"/><circle cx="53.86" cy="149.34" r="0.28"/><circle cx="52.03" cy="137.2" r="0.28"/><circle cx="53.21" cy="162.04" r="0.28"/><circle cx="29.14" cy="143.73" r="0.28"/><circle cx="46.74" cy="158.84" r="0.28"/><circle cx="35.47" cy="139.39" r="0.28"/><circle cx="35.75" cy="152.48" r="0.28"/><circle cx="53.37" cy="145.81" r="0.28"/><circle cx="39.86" cy="145.9" r="0.28"/><circle cx="39.26" cy="146.55" r="0.28"/><circle cx="29.91" cy="149.01" r="0.28"/><circle cx="61.06" cy="146.38" r="0.28"/><circle cx="53.16" cy="138.82" r="0.28"/><circle cx="51.18" cy="156.68" r="0.28"/><circle cx="50.58" cy="149.51" r="0.28"/><circle cx="43.93" cy="153.29" r="0.28"/><circle cx="58.41" cy="138.48" r="0.28"/><circle cx="30.36" cy="156.44" r="0.28"/><circle cx="59.08" cy="149.52" r="0.28"/><circle cx="42.51" cy="155.57" r="0.28"/><circle cx="33.51" cy="142.02" r="0.28"/><circle cx="33.97" cy="151.57" r="0.28"/><circle cx="38.02" cy="140.97" r="0.28"/><circle cx="51.19" cy="162.6" r="0.28"/><circle cx="37.36" cy="155.16" r="0.28"/><circle cx="41.46" cy="159.61" r="0.28"/><circle cx="47.46" cy="142.02" r="0.28"/><circle cx="34.62" cy="134.69" r="0.28"/><circle cx="43.78" cy="145.48" r="0.28"/><circle cx="33.03" cy="144.81" r="0.28"/><circle cx="38.27" cy="157.23" r="0.28"/><circle cx="32.03" cy="163.74" r="0.28"/><circle cx="43.79" cy="151.97" r="0.28"/><circle cx="43.38" cy="159.04" r="0.28"/><circle cx="55.76" cy="150.71" r="0.28"/><circle cx="43.85" cy="155.62" r="0.28"/><circle cx="56.98" cy="146.01" r="0.28"/><circle cx="52.68" cy="162.81" r="0.28"/><circle cx="43.36" cy="140.89" r="0.28"/><circle cx="35.22" cy="155.53" r="0.28"/><circle cx="50.64" cy="162.76" r="0.28"/><circle cx="56.89" cy="141.26" r="0.28"/><circle cx="33.64" cy="141.76" r="0.28"/><circle cx="33.55" cy="155.14" r="0.28"/><circle cx="57.05" cy="160.99" r="0.28"/><circle cx="35.93" cy="159.95" r="0.28"/><circle cx="37.97" cy="146.7" r="0.28"/><circle cx="52.51" cy="136.58" r="0.28"/><circle cx="30.24" cy="159.02" r="0.28"/><circle cx="37.21" cy="144.7" r="0.28"/><circle cx="47.31" cy="154.27" r="0.28"/><circle cx="27.24" cy="144.04" r="0.28"/><circle cx="42.27" cy="148.58" r="0.28"/><circle cx="34.35" cy="151.55" r="0.28"/><circle cx="60.44" cy="145.73" r="0.28"/><circle cx="46.05" cy="137.58" r="0.28"/><circle cx="36.62" cy="153.96" r="0.28"/><circle cx="30.94" cy="160.62" r="0.28"/><circle cx="58.81" cy="136.91" r="0.28"/><circle cx="59.95" cy="145.23" r="0.28"/></g>
<path d="M23.5 146C23.97 145.5 25.42 145.17 26 145.5C26.58 145.83 26.92 147.08 27 148C27.08 148.92 26.92 150.58 26.5 151C26.08 151.42 25.05 150.92 24.5 150.5C23.95 150.08 23.37 149.25 23.2 148.5C23.03 147.75 23.03 146.5 23.5 146Z" fill="#1d2db5" />
<circle cx="21.5" cy="159.5" r="0.5" fill="#c0301a"/>
<circle cx="23" cy="160" r="0.5" fill="#c0301a"/>
<circle cx="26.5" cy="158.8" r="0.5" fill="#f07a20"/>
<circle cx="28" cy="157.8" r="0.5" fill="#f07a20"/>
<text x="17.3" y="178.6" font-size="4.3" fill="#222" stroke="#222" stroke-width="0.15" stroke-opacity="0.55">N=3</text>
<text x="63.8" y="178.6" font-size="4.8" font-weight="bold" text-anchor="end" fill="#111">non-SD</text>
<line x1="15.7" y1="183" x2="65.6" y2="183" stroke="#d8d8d8" stroke-width="1.3"/>
<path d="M27.4 193C27.62 192.12 29 191.12 30 190.4C31 189.68 32.28 189.2 33.4 188.7C34.52 188.2 35.58 187.57 36.7 187.4C37.82 187.23 38.98 187.32 40.1 187.7C41.22 188.08 42.07 188.82 43.4 189.7C44.73 190.58 46.42 192 48.1 193C49.78 194 51.82 194.68 53.5 195.7C55.18 196.72 56.97 197.87 58.2 199.1C59.43 200.33 60.57 201.65 60.9 203.1C61.23 204.55 60.77 206.47 60.2 207.8C59.63 209.13 58.62 210.55 57.5 211.1C56.38 211.65 54.83 211.43 53.5 211.1C52.17 210.77 50.83 209.88 49.5 209.1C48.17 208.32 46.85 206.95 45.5 206.4C44.15 205.85 42.87 205.68 41.4 205.8C39.93 205.92 38.03 207 36.7 207.1C35.37 207.2 34.07 207.07 33.4 206.4C32.73 205.73 32.58 204.22 32.7 203.1C32.82 201.98 34.2 200.7 34.1 199.7C34 198.7 33 197.77 32.1 197.1C31.2 196.43 29.48 196.38 28.7 195.7C27.92 195.02 27.18 193.88 27.4 193Z" fill="#f7f7f7" stroke="#e2e2e2" stroke-width="0.45" />
<g clip-path="url(#c2)" fill="#e2e2e2"><circle cx="49.18" cy="206.29" r="0.28"/><circle cx="55.04" cy="211.5" r="0.28"/><circle cx="53.16" cy="210.98" r="0.28"/><circle cx="28.99" cy="199.11" r="0.28"/><circle cx="60.07" cy="203.87" r="0.28"/><circle cx="58.63" cy="189.94" r="0.28"/><circle cx="43.95" cy="193.41" r="0.28"/><circle cx="46.49" cy="201.92" r="0.28"/><circle cx="28.45" cy="192.63" r="0.28"/><circle cx="37.5" cy="210.82" r="0.28"/><circle cx="54.03" cy="191.15" r="0.28"/><circle cx="55.1" cy="190.61" r="0.28"/><circle cx="48.99" cy="190.29" r="0.28"/><circle cx="28.06" cy="209.66" r="0.28"/><circle cx="35.12" cy="192.6" r="0.28"/><circle cx="61.4" cy="209.68" r="0.28"/><circle cx="37.84" cy="212" r="0.28"/><circle cx="46.33" cy="204.62" r="0.28"/><circle cx="34.96" cy="211.47" r="0.28"/><circle cx="51.48" cy="212.13" r="0.28"/><circle cx="58.39" cy="194.77" r="0.28"/><circle cx="40.28" cy="191.31" r="0.28"/><circle cx="32.95" cy="188.69" r="0.28"/><circle cx="38.25" cy="202.68" r="0.28"/><circle cx="28.12" cy="204.63" r="0.28"/><circle cx="39.49" cy="195.06" r="0.28"/><circle cx="55.83" cy="199.5" r="0.28"/><circle cx="38.74" cy="199.51" r="0.28"/><circle cx="51.96" cy="188.48" r="0.28"/><circle cx="61.15" cy="187.59" r="0.28"/><circle cx="53.49" cy="208.97" r="0.28"/><circle cx="28.61" cy="207.48" r="0.28"/><circle cx="40.45" cy="202.04" r="0.28"/><circle cx="28.31" cy="188.21" r="0.28"/><circle cx="34.15" cy="211.83" r="0.28"/><circle cx="34.68" cy="206.65" r="0.28"/><circle cx="59.61" cy="211.49" r="0.28"/><circle cx="39.71" cy="196.22" r="0.28"/><circle cx="45.84" cy="207.17" r="0.28"/><circle cx="31.67" cy="206.46" r="0.28"/><circle cx="55.11" cy="209.35" r="0.28"/><circle cx="29.25" cy="211.59" r="0.28"/><circle cx="31.1" cy="195.86" r="0.28"/><circle cx="48.77" cy="210.87" r="0.28"/><circle cx="39.56" cy="211.03" r="0.28"/><circle cx="46.53" cy="195.12" r="0.28"/><circle cx="38.77" cy="191.61" r="0.28"/><circle cx="30.66" cy="190.87" r="0.28"/><circle cx="51.43" cy="212.91" r="0.28"/><circle cx="33.49" cy="188.26" r="0.28"/><circle cx="61.55" cy="200.87" r="0.28"/><circle cx="41.8" cy="193.17" r="0.28"/><circle cx="48.19" cy="208.48" r="0.28"/><circle cx="43.49" cy="197.97" r="0.28"/><circle cx="29.89" cy="210.82" r="0.28"/><circle cx="29.11" cy="199.83" r="0.28"/><circle cx="56.51" cy="190.39" r="0.28"/><circle cx="52.88" cy="211.69" r="0.28"/><circle cx="49.43" cy="207.49" r="0.28"/><circle cx="31.63" cy="198.3" r="0.28"/><circle cx="33.07" cy="208.96" r="0.28"/><circle cx="38.02" cy="198.78" r="0.28"/><circle cx="61.98" cy="209.16" r="0.28"/><circle cx="61.18" cy="198.79" r="0.28"/><circle cx="44.6" cy="205.97" r="0.28"/><circle cx="44.29" cy="194.57" r="0.28"/><circle cx="41.73" cy="190.81" r="0.28"/><circle cx="40.82" cy="212.7" r="0.28"/><circle cx="60.63" cy="203.3" r="0.28"/><circle cx="44.98" cy="195.8" r="0.28"/><circle cx="31.03" cy="194.08" r="0.28"/><circle cx="54.59" cy="209.55" r="0.28"/><circle cx="40.29" cy="207.44" r="0.28"/><circle cx="54.35" cy="205.06" r="0.28"/><circle cx="50.58" cy="206.75" r="0.28"/><circle cx="40.36" cy="205.32" r="0.28"/><circle cx="37.55" cy="199.63" r="0.28"/><circle cx="54.17" cy="204.96" r="0.28"/><circle cx="37.99" cy="211.58" r="0.28"/><circle cx="50.09" cy="202.1" r="0.28"/><circle cx="28.39" cy="201.22" r="0.28"/><circle cx="36.52" cy="204.46" r="0.28"/><circle cx="43.74" cy="208.23" r="0.28"/><circle cx="50.01" cy="207.74" r="0.28"/><circle cx="39.83" cy="203.75" r="0.28"/><circle cx="53.09" cy="208.53" r="0.28"/><circle cx="39.9" cy="208.91" r="0.28"/><circle cx="57.58" cy="204.9" r="0.28"/><circle cx="61.19" cy="211.87" r="0.28"/><circle cx="45.62" cy="200.76" r="0.28"/><circle cx="33.65" cy="208.75" r="0.28"/><circle cx="59.87" cy="199.41" r="0.28"/><circle cx="51.51" cy="205.71" r="0.28"/><circle cx="52.83" cy="191.47" r="0.28"/><circle cx="54.53" cy="202.1" r="0.28"/><circle cx="50.63" cy="197.94" r="0.28"/><circle cx="49.21" cy="207.14" r="0.28"/><circle cx="49.65" cy="205.73" r="0.28"/><circle cx="28.94" cy="191.16" r="0.28"/><circle cx="43" cy="203.9" r="0.28"/><circle cx="35.45" cy="204.83" r="0.28"/><circle cx="49.45" cy="188.09" r="0.28"/><circle cx="44.03" cy="192.88" r="0.28"/><circle cx="29.84" cy="190.47" r="0.28"/><circle cx="38.79" cy="191.72" r="0.28"/><circle cx="34.57" cy="187.93" r="0.28"/><circle cx="43.82" cy="196.89" r="0.28"/><circle cx="48.8" cy="202.34" r="0.28"/><circle cx="36.09" cy="210.48" r="0.28"/><circle cx="28.02" cy="197.54" r="0.28"/><circle cx="37.47" cy="197.66" r="0.28"/><circle cx="31.91" cy="208.62" r="0.28"/><circle cx="40.71" cy="187.94" r="0.28"/><circle cx="48.86" cy="189.47" r="0.28"/><circle cx="46.54" cy="195.82" r="0.28"/><circle cx="47.75" cy="211.92" r="0.28"/><circle cx="55.83" cy="197.9" r="0.28"/><circle cx="55.64" cy="203.7" r="0.28"/><circle cx="40.56" cy="190.69" r="0.28"/><circle cx="48.26" cy="201.66" r="0.28"/><circle cx="60.55" cy="212.17" r="0.28"/><circle cx="48.69" cy="196.13" r="0.28"/><circle cx="58.38" cy="187.02" r="0.28"/><circle cx="31.67" cy="201.71" r="0.28"/><circle cx="48.92" cy="190.66" r="0.28"/><circle cx="49.4" cy="210.17" r="0.28"/><circle cx="40.78" cy="198.22" r="0.28"/><circle cx="35.7" cy="194.58" r="0.28"/><circle cx="61.06" cy="196.87" r="0.28"/><circle cx="60.68" cy="210.76" r="0.28"/><circle cx="48.26" cy="193.76" r="0.28"/><circle cx="61.35" cy="199.9" r="0.28"/><circle cx="42.13" cy="195.3" r="0.28"/><circle cx="61.47" cy="199.79" r="0.28"/><circle cx="37.74" cy="199.4" r="0.28"/><circle cx="32.14" cy="203.16" r="0.28"/><circle cx="43.08" cy="194.62" r="0.28"/><circle cx="54.58" cy="208.5" r="0.28"/><circle cx="28.45" cy="200.85" r="0.28"/><circle cx="37.31" cy="211.32" r="0.28"/><circle cx="54.58" cy="193.39" r="0.28"/><circle cx="37.1" cy="191.02" r="0.28"/><circle cx="61.62" cy="194.62" r="0.28"/><circle cx="48.67" cy="199.34" r="0.28"/><circle cx="49.93" cy="202.7" r="0.28"/><circle cx="53.28" cy="190.07" r="0.28"/><circle cx="53.85" cy="194.82" r="0.28"/><circle cx="46.14" cy="195.74" r="0.28"/><circle cx="38.09" cy="200.78" r="0.28"/><circle cx="43.79" cy="196.39" r="0.28"/><circle cx="53.33" cy="202.36" r="0.28"/><circle cx="29.24" cy="193.56" r="0.28"/><circle cx="43.49" cy="210.83" r="0.28"/><circle cx="58.19" cy="201.19" r="0.28"/><circle cx="28.5" cy="207.24" r="0.28"/><circle cx="42.54" cy="201.97" r="0.28"/><circle cx="52.08" cy="203.44" r="0.28"/><circle cx="44.38" cy="210.7" r="0.28"/><circle cx="41.11" cy="197.19" r="0.28"/><circle cx="56.96" cy="192.11" r="0.28"/><circle cx="38.08" cy="208.58" r="0.28"/><circle cx="30.25" cy="208.74" r="0.28"/><circle cx="51.62" cy="198.25" r="0.28"/><circle cx="37.74" cy="207.3" r="0.28"/><circle cx="58.96" cy="190.71" r="0.28"/><circle cx="44.27" cy="201.28" r="0.28"/><circle cx="44.92" cy="195.6" r="0.28"/><circle cx="33.22" cy="202.23" r="0.28"/><circle cx="55.6" cy="188.78" r="0.28"/><circle cx="35.82" cy="208.31" r="0.28"/><circle cx="54.92" cy="204.25" r="0.28"/><circle cx="28.87" cy="205.79" r="0.28"/><circle cx="61.28" cy="212.96" r="0.28"/><circle cx="51.84" cy="188.27" r="0.28"/><circle cx="56.63" cy="192.7" r="0.28"/><circle cx="49.96" cy="211.76" r="0.28"/><circle cx="52.22" cy="190.5" r="0.28"/><circle cx="37.94" cy="210.87" r="0.28"/><circle cx="33.09" cy="202.88" r="0.28"/><circle cx="42.07" cy="191.19" r="0.28"/><circle cx="49.16" cy="188.13" r="0.28"/><circle cx="31.68" cy="196.86" r="0.28"/><circle cx="30.45" cy="188.5" r="0.28"/><circle cx="47.56" cy="206.3" r="0.28"/><circle cx="57.87" cy="190.49" r="0.28"/><circle cx="42.68" cy="195.18" r="0.28"/><circle cx="48.41" cy="199.73" r="0.28"/><circle cx="59.91" cy="196.73" r="0.28"/><circle cx="29.9" cy="205.13" r="0.28"/><circle cx="33.14" cy="203.41" r="0.28"/><circle cx="45.2" cy="210.67" r="0.28"/><circle cx="46.87" cy="203.14" r="0.28"/><circle cx="36.95" cy="201.34" r="0.28"/><circle cx="36.64" cy="206.52" r="0.28"/><circle cx="45.58" cy="190.48" r="0.28"/><circle cx="35.97" cy="196.65" r="0.28"/><circle cx="53.05" cy="191.66" r="0.28"/><circle cx="52.25" cy="204.03" r="0.28"/><circle cx="30.9" cy="204.37" r="0.28"/><circle cx="31.1" cy="190.24" r="0.28"/><circle cx="48.2" cy="193.2" r="0.28"/><circle cx="57.82" cy="199.49" r="0.28"/><circle cx="38.99" cy="207.71" r="0.28"/><circle cx="29" cy="205.85" r="0.28"/><circle cx="29.82" cy="190.92" r="0.28"/><circle cx="60.37" cy="204.71" r="0.28"/><circle cx="35.58" cy="190.02" r="0.28"/><circle cx="61.07" cy="204.29" r="0.28"/><circle cx="55.9" cy="190.63" r="0.28"/><circle cx="49.24" cy="196.21" r="0.28"/><circle cx="35.99" cy="195.66" r="0.28"/><circle cx="48.87" cy="196.07" r="0.28"/><circle cx="41.12" cy="190.55" r="0.28"/><circle cx="56.26" cy="203.85" r="0.28"/><circle cx="55.35" cy="198.27" r="0.28"/><circle cx="56.95" cy="200.45" r="0.28"/><circle cx="48.15" cy="201.9" r="0.28"/><circle cx="53.17" cy="197.28" r="0.28"/><circle cx="31.3" cy="187.86" r="0.28"/><circle cx="34.88" cy="188.03" r="0.28"/></g>
<path d="M22 200.4C22.28 199.57 23.33 198.6 24 198.1C24.67 197.6 25.27 197.18 26 197.4C26.73 197.62 28.17 198.73 28.4 199.4C28.63 200.07 28.02 200.9 27.4 201.4C26.78 201.9 25.55 202.12 24.7 202.4C23.85 202.68 22.75 203.43 22.3 203.1C21.85 202.77 21.72 201.23 22 200.4Z" fill="#1010b4" />
<path d="M19.4 207.8C19.98 206.87 21.78 206.13 22.7 205.9C23.62 205.67 24.48 205.75 24.9 206.4C25.32 207.05 25.35 208.78 25.2 209.8C25.05 210.82 24.65 212 24 212.5C23.35 213 22.1 212.97 21.3 212.8C20.5 212.63 19.52 212.33 19.2 211.5C18.88 210.67 18.82 208.73 19.4 207.8Z" fill="#a8120c" />
<path d="M23 208.5L25.4 207.8L28.9 211.1L26.7 212.3L23.3 212.3Z" fill="#f87010" />
<text x="19.6" y="197.6" font-size="4.6" font-weight="bold" fill="#1c2cb0">15</text>
<text x="17.8" y="217" font-size="4.6" font-weight="bold" fill="#a31a10">13</text>
<text x="28.9" y="215.4" font-size="4.6" font-weight="bold" fill="#f07818">14</text>
<text x="17.2" y="230.4" font-size="4.3" fill="#222" stroke="#222" stroke-width="0.15" stroke-opacity="0.55">N=7</text>
<text x="64.2" y="230.6" font-size="6" font-weight="bold" text-anchor="end" fill="#111">SD</text>
<line x1="16" y1="232.2" x2="66" y2="232.2" stroke="#a8a8a8" stroke-width="0.7"/>
<path d="M10 198.2L6.9 205L13.1 205Z" fill="#000" />
<line x1="10" y1="204.5" x2="10" y2="214" stroke="#000" stroke-width="0.7"/>
<text x="12.5" y="224.85" font-size="7" text-anchor="middle" transform="rotate(-90 12.5 224.85)" textLength="20.7" lengthAdjust="spacingAndGlyphs" stroke="#000" stroke-width="0.22" stroke-opacity="0.55">UMAP2</text>
<text x="17" y="240.9" font-size="7" textLength="21.3" lengthAdjust="spacingAndGlyphs" stroke="#000" stroke-width="0.22" stroke-opacity="0.55">UMAP1</text>
<line x1="38.8" y1="239.3" x2="47.5" y2="239.3" stroke="#000" stroke-width="0.7"/>
<path d="M53.8 239.3L47 236.4L47 242.2Z" fill="#000" />
<rect x="75.4" y="134" width="9.94" height="8.5" fill="#fdc373" />
<rect x="85.34" y="134" width="9.94" height="8.5" fill="#f99a5a" />
<rect x="95.28" y="134" width="9.94" height="8.5" fill="#f67f4c" />
<rect x="105.22" y="134" width="9.94" height="8.5" fill="#e8f2df" />
<rect x="115.17" y="134" width="9.94" height="8.5" fill="#d7302a" />
<rect x="125.11" y="134" width="9.94" height="8.5" fill="#fed98b" />
<rect x="135.05" y="134" width="9.94" height="8.5" fill="#e04a33" />
<rect x="144.99" y="134" width="9.94" height="8.5" fill="#df4b33" />
<rect x="154.93" y="134" width="9.94" height="8.5" fill="#abd0e6" />
<rect x="164.88" y="134" width="9.94" height="8.5" fill="#f9a05e" />
<rect x="174.82" y="134" width="9.94" height="8.5" fill="#f67d4a" />
<rect x="184.76" y="134" width="9.94" height="8.5" fill="#f0f7d1" />
<rect x="75.4" y="142.5" width="9.94" height="8.5" fill="#f99858" />
<rect x="85.34" y="142.5" width="9.94" height="8.5" fill="#4575b4" />
<rect x="95.28" y="142.5" width="9.94" height="8.5" fill="#fee090" />
<rect x="105.22" y="142.5" width="9.94" height="8.5" fill="#74a9cf" />
<rect x="115.17" y="142.5" width="9.94" height="8.5" fill="#b8d8ea" />
<rect x="125.11" y="142.5" width="9.94" height="8.5" fill="#4575b4" />
<rect x="135.05" y="142.5" width="9.94" height="8.5" fill="#fdfbc0" />
<rect x="144.99" y="142.5" width="9.94" height="8.5" fill="#fdfbc0" />
<rect x="154.93" y="142.5" width="9.94" height="8.5" fill="#b8d8ea" />
<rect x="164.88" y="142.5" width="9.94" height="8.5" fill="#fdb06a" />
<rect x="174.82" y="142.5" width="9.94" height="8.5" fill="#fee090" />
<rect x="184.76" y="142.5" width="9.94" height="8.5" fill="#6a9ccb" />
<rect x="75.4" y="151" width="9.94" height="8.5" fill="#4575b4" />
<rect x="85.34" y="151" width="9.94" height="8.5" fill="#fdc57f" />
<rect x="95.28" y="151" width="9.94" height="8.5" fill="#4575b4" />
<rect x="105.22" y="151" width="9.94" height="8.5" fill="#d7302a" />
<rect x="115.17" y="151" width="9.94" height="8.5" fill="#b0d3e8" />
<rect x="125.11" y="151" width="9.94" height="8.5" fill="#f67d4a" />
<rect x="135.05" y="151" width="9.94" height="8.5" fill="#6a9ccb" />
<rect x="144.99" y="151" width="9.94" height="8.5" fill="#6a9ccb" />
<rect x="154.93" y="151" width="9.94" height="8.5" fill="#d7302a" />
<rect x="164.88" y="151" width="9.94" height="8.5" fill="#4575b4" />
<rect x="174.82" y="151" width="9.94" height="8.5" fill="#4575b4" />
<rect x="184.76" y="151" width="9.94" height="8.5" fill="#dc3b2c" />
<line x1="75.4" y1="142.5" x2="194.7" y2="142.5" stroke="#3a3a3a" stroke-width="0.35"/>
<line x1="75.4" y1="151" x2="194.7" y2="151" stroke="#3a3a3a" stroke-width="0.35"/>
<line x1="85.34" y1="134" x2="85.34" y2="159.5" stroke="#3a3a3a" stroke-width="0.35"/>
<line x1="95.28" y1="134" x2="95.28" y2="159.5" stroke="#3a3a3a" stroke-width="0.35"/>
<line x1="105.22" y1="134" x2="105.22" y2="159.5" stroke="#3a3a3a" stroke-width="0.35"/>
<line x1="115.17" y1="134" x2="115.17" y2="159.5" stroke="#3a3a3a" stroke-width="0.35"/>
<line x1="125.11" y1="134" x2="125.11" y2="159.5" stroke="#3a3a3a" stroke-width="0.35"/>
<line x1="135.05" y1="134" x2="135.05" y2="159.5" stroke="#3a3a3a" stroke-width="0.35"/>
<line x1="144.99" y1="134" x2="144.99" y2="159.5" stroke="#3a3a3a" stroke-width="0.35"/>
<line x1="154.93" y1="134" x2="154.93" y2="159.5" stroke="#3a3a3a" stroke-width="0.35"/>
<line x1="164.88" y1="134" x2="164.88" y2="159.5" stroke="#3a3a3a" stroke-width="0.35"/>
<line x1="174.82" y1="134" x2="174.82" y2="159.5" stroke="#3a3a3a" stroke-width="0.35"/>
<line x1="184.76" y1="134" x2="184.76" y2="159.5" stroke="#3a3a3a" stroke-width="0.35"/>
<rect x="75.4" y="134" width="119.3" height="25.5" fill="none" stroke="#555" stroke-width="0.5" />
<text x="82.39" y="161" font-size="5.6" text-anchor="end" fill="#222" transform="rotate(-90 82.39 161)" stroke="#222" stroke-width="0.2" stroke-opacity="0.55">ICOS</text>
<text x="92.33" y="161" font-size="5.6" text-anchor="end" fill="#222" transform="rotate(-90 92.33 161)" stroke="#222" stroke-width="0.2" stroke-opacity="0.55">Ki-67</text>
<text x="102.27" y="161" font-size="5.6" text-anchor="end" fill="#222" transform="rotate(-90 102.27 161)" stroke="#222" stroke-width="0.2" stroke-opacity="0.55">PD-1</text>
<text x="112.21" y="161" font-size="5.6" text-anchor="end" fill="#222" transform="rotate(-90 112.21 161)" stroke="#222" stroke-width="0.2" stroke-opacity="0.55">CD25</text>
<text x="122.15" y="161" font-size="5.6" text-anchor="end" fill="#222" transform="rotate(-90 122.15 161)" stroke="#222" stroke-width="0.2" stroke-opacity="0.55">TIM-3</text>
<text x="132.1" y="161" font-size="5.6" text-anchor="end" fill="#222" transform="rotate(-90 132.1 161)" stroke="#222" stroke-width="0.2" stroke-opacity="0.55">CD66</text>
<text x="142.04" y="161" font-size="5.6" text-anchor="end" fill="#222" transform="rotate(-90 142.04 161)" stroke="#222" stroke-width="0.2" stroke-opacity="0.55">CD16</text>
<text x="151.98" y="161" font-size="5.6" text-anchor="end" fill="#222" transform="rotate(-90 151.98 161)" stroke="#222" stroke-width="0.2" stroke-opacity="0.55">LILRB1</text>
<text x="161.92" y="161" font-size="5.6" text-anchor="end" fill="#222" transform="rotate(-90 161.92 161)" stroke="#222" stroke-width="0.2" stroke-opacity="0.55">FOXP3</text>
<text x="171.86" y="161" font-size="5.6" text-anchor="end" fill="#222" transform="rotate(-90 171.86 161)" stroke="#222" stroke-width="0.2" stroke-opacity="0.55">CTLA-4</text>
<text x="181.8" y="161" font-size="5.6" text-anchor="end" fill="#222" transform="rotate(-90 181.8 161)" stroke="#222" stroke-width="0.2" stroke-opacity="0.55">LAG-3</text>
<text x="191.75" y="161" font-size="5.6" text-anchor="end" fill="#222" transform="rotate(-90 191.75 161)" stroke="#222" stroke-width="0.2" stroke-opacity="0.55">TIGIT</text>
<text x="196.2" y="140.41" font-size="6" fill="#222" stroke="#222" stroke-width="0.21" stroke-opacity="0.55">13</text>
<text x="196.2" y="148.91" font-size="6" fill="#222" stroke="#222" stroke-width="0.21" stroke-opacity="0.55">14</text>
<text x="196.2" y="157.41" font-size="6" fill="#222" stroke="#222" stroke-width="0.21" stroke-opacity="0.55">15</text>
<rect x="209.3" y="134" width="3.5" height="40" fill="url(#g3)" />
<text x="214.4" y="138.51" font-size="4.2" fill="#333" stroke="#333" stroke-width="0.15" stroke-opacity="0.55">1</text>
<text x="214.4" y="147.41" font-size="4.2" fill="#333" stroke="#333" stroke-width="0.15" stroke-opacity="0.55">0.5</text>
<text x="214.4" y="155.91" font-size="4.2" fill="#333" stroke="#333" stroke-width="0.15" stroke-opacity="0.55">0</text>
<text x="214.4" y="165.01" font-size="4.2" fill="#333" stroke="#333" stroke-width="0.15" stroke-opacity="0.55">-0.5</text>
<text x="214.4" y="173.21" font-size="4.2" fill="#333" stroke="#333" stroke-width="0.15" stroke-opacity="0.55">-1</text>
<text x="207.9" y="154" font-size="4.5" text-anchor="middle" fill="#333" transform="rotate(-90 207.9 154)" stroke="#333" stroke-width="0.16" stroke-opacity="0.55">Column Z-score</text>
<rect x="77.2" y="188.3" width="37.5" height="37.2" fill="#fff" />
<line x1="77.2" y1="196.35" x2="114.7" y2="196.35" stroke="#ebebeb" stroke-width="0.35"/>
<line x1="77.2" y1="207.75" x2="114.7" y2="207.75" stroke="#ebebeb" stroke-width="0.35"/>
<line x1="77.2" y1="218.75" x2="114.7" y2="218.75" stroke="#ebebeb" stroke-width="0.35"/>
<line x1="77.2" y1="190.5" x2="114.7" y2="190.5" stroke="#ebebeb" stroke-width="0.6"/>
<line x1="77.2" y1="202.2" x2="114.7" y2="202.2" stroke="#ebebeb" stroke-width="0.6"/>
<line x1="77.2" y1="213.3" x2="114.7" y2="213.3" stroke="#ebebeb" stroke-width="0.6"/>
<line x1="77.2" y1="224.2" x2="114.7" y2="224.2" stroke="#ebebeb" stroke-width="0.6"/>
<line x1="87.4" y1="188.3" x2="87.4" y2="225.5" stroke="#ebebeb" stroke-width="0.6"/>
<line x1="104.5" y1="188.3" x2="104.5" y2="225.5" stroke="#ebebeb" stroke-width="0.6"/>
<rect x="77.2" y="188.3" width="37.5" height="37.2" fill="none" stroke="#666" stroke-width="0.6" />
<line x1="75.9" y1="190.5" x2="77.2" y2="190.5" stroke="#333" stroke-width="0.4"/>
<text x="75.4" y="191.69" font-size="3.3" text-anchor="end" fill="#333" stroke="#333" stroke-width="0.12" stroke-opacity="0.55">6</text>
<line x1="75.9" y1="202.2" x2="77.2" y2="202.2" stroke="#333" stroke-width="0.4"/>
<text x="75.4" y="203.39" font-size="3.3" text-anchor="end" fill="#333" stroke="#333" stroke-width="0.12" stroke-opacity="0.55">4</text>
<line x1="75.9" y1="213.3" x2="77.2" y2="213.3" stroke="#333" stroke-width="0.4"/>
<text x="75.4" y="214.49" font-size="3.3" text-anchor="end" fill="#333" stroke="#333" stroke-width="0.12" stroke-opacity="0.55">2</text>
<line x1="75.9" y1="224.2" x2="77.2" y2="224.2" stroke="#333" stroke-width="0.4"/>
<text x="75.4" y="225.39" font-size="3.3" text-anchor="end" fill="#333" stroke="#333" stroke-width="0.12" stroke-opacity="0.55">0</text>
<text x="72.4" y="206.9" font-size="4.4" text-anchor="middle" fill="#222" transform="rotate(-90 72.4 206.9)" stroke="#222" stroke-width="0.15" stroke-opacity="0.55">Cluster 13 (%)</text>
<line x1="87.4" y1="225.5" x2="87.4" y2="226.5" stroke="#333" stroke-width="0.4"/>
<text x="87.4" y="229.7" font-size="3.6" text-anchor="middle" fill="#333" stroke="#333" stroke-width="0.13" stroke-opacity="0.55">non-SD</text>
<line x1="104.5" y1="225.5" x2="104.5" y2="226.5" stroke="#333" stroke-width="0.4"/>
<text x="104.5" y="229.7" font-size="3.6" text-anchor="middle" fill="#333" stroke="#333" stroke-width="0.13" stroke-opacity="0.55">SD</text>
<path d="M82.2 224.2 Q82.2 223.05 84.2 223.05 L92.6 223.7 L92.6 224.7 Q84.2 225.35 82.2 224.2 Z" fill="#1f48a6" />
<circle cx="102.5" cy="205.8" r="1.2" fill="#f7a6a6" fill-opacity="0.6"/>
<circle cx="106" cy="211.55" r="1.2" fill="#f7a6a6" fill-opacity="0.6"/>
<circle cx="103.5" cy="217.3" r="1.2" fill="#f7a6a6" fill-opacity="0.6"/>
<circle cx="107" cy="221.9" r="1.2" fill="#f7a6a6" fill-opacity="0.6"/>
<circle cx="104.5" cy="224.2" r="1.2" fill="#f7a6a6" fill-opacity="0.6"/>
<rect x="99.4" y="201.2" width="10.2" height="17" fill="none" stroke="#f01e1e" stroke-width="0.95" />
<line x1="99.4" y1="209.2" x2="109.6" y2="209.2" stroke="#f01e1e" stroke-width="1.33"/>
<line x1="104.5" y1="190.5" x2="104.5" y2="201.2" stroke="#f01e1e" stroke-width="0.95"/>
<line x1="104.5" y1="218.2" x2="104.5" y2="224.2" stroke="#f01e1e" stroke-width="0.95"/>
<line x1="99.4" y1="190.5" x2="109.6" y2="190.5" stroke="#f01e1e" stroke-width="0.95"/>
<line x1="99.4" y1="224.2" x2="109.6" y2="224.2" stroke="#f01e1e" stroke-width="0.95"/>
<text x="94.6" y="201.8" font-size="8" font-weight="bold" text-anchor="middle" fill="#111">*</text>
<rect x="127.8" y="188" width="36" height="37.3" fill="#fff" />
<line x1="127.8" y1="195.95" x2="163.8" y2="195.95" stroke="#ebebeb" stroke-width="0.35"/>
<line x1="127.8" y1="207.2" x2="163.8" y2="207.2" stroke="#ebebeb" stroke-width="0.35"/>
<line x1="127.8" y1="218.3" x2="163.8" y2="218.3" stroke="#ebebeb" stroke-width="0.35"/>
<line x1="127.8" y1="190.3" x2="163.8" y2="190.3" stroke="#ebebeb" stroke-width="0.6"/>
<line x1="127.8" y1="201.6" x2="163.8" y2="201.6" stroke="#ebebeb" stroke-width="0.6"/>
<line x1="127.8" y1="212.8" x2="163.8" y2="212.8" stroke="#ebebeb" stroke-width="0.6"/>
<line x1="127.8" y1="223.8" x2="163.8" y2="223.8" stroke="#ebebeb" stroke-width="0.6"/>
<line x1="137.7" y1="188" x2="137.7" y2="225.3" stroke="#ebebeb" stroke-width="0.6"/>
<line x1="153.9" y1="188" x2="153.9" y2="225.3" stroke="#ebebeb" stroke-width="0.6"/>
<rect x="127.8" y="188" width="36" height="37.3" fill="none" stroke="#666" stroke-width="0.6" />
<line x1="126.5" y1="190.3" x2="127.8" y2="190.3" stroke="#333" stroke-width="0.4"/>
<text x="126" y="191.49" font-size="3.3" text-anchor="end" fill="#333" stroke="#333" stroke-width="0.12" stroke-opacity="0.55">0.6</text>
<line x1="126.5" y1="201.6" x2="127.8" y2="201.6" stroke="#333" stroke-width="0.4"/>
<text x="126" y="202.79" font-size="3.3" text-anchor="end" fill="#333" stroke="#333" stroke-width="0.12" stroke-opacity="0.55">0.4</text>
<line x1="126.5" y1="212.8" x2="127.8" y2="212.8" stroke="#333" stroke-width="0.4"/>
<text x="126" y="213.99" font-size="3.3" text-anchor="end" fill="#333" stroke="#333" stroke-width="0.12" stroke-opacity="0.55">0.2</text>
<line x1="126.5" y1="223.8" x2="127.8" y2="223.8" stroke="#333" stroke-width="0.4"/>
<text x="126" y="224.99" font-size="3.3" text-anchor="end" fill="#333" stroke="#333" stroke-width="0.12" stroke-opacity="0.55">0.0</text>
<text x="121.5" y="206.65" font-size="4.4" text-anchor="middle" fill="#222" transform="rotate(-90 121.5 206.65)" stroke="#222" stroke-width="0.15" stroke-opacity="0.55">Cluster 14 (%)</text>
<line x1="137.7" y1="225.3" x2="137.7" y2="226.3" stroke="#333" stroke-width="0.4"/>
<text x="137.7" y="229.5" font-size="3.6" text-anchor="middle" fill="#333" stroke="#333" stroke-width="0.13" stroke-opacity="0.55">non-SD</text>
<line x1="153.9" y1="225.3" x2="153.9" y2="226.3" stroke="#333" stroke-width="0.4"/>
<text x="153.9" y="229.5" font-size="3.6" text-anchor="middle" fill="#333" stroke="#333" stroke-width="0.13" stroke-opacity="0.55">SD</text>
<path d="M132.5 223.2 Q132.5 222.05 134.5 222.05 L142.9 222.7 L142.9 223.7 Q134.5 224.35 132.5 223.2 Z" fill="#1f48a6" />
<circle cx="151.9" cy="207.34" r="1.2" fill="#f7a6a6" fill-opacity="0.6"/>
<circle cx="155.4" cy="212.64" r="1.2" fill="#f7a6a6" fill-opacity="0.6"/>
<circle cx="152.9" cy="217.94" r="1.2" fill="#f7a6a6" fill-opacity="0.6"/>
<circle cx="156.4" cy="222.18" r="1.2" fill="#f7a6a6" fill-opacity="0.6"/>
<circle cx="153.9" cy="224.3" r="1.2" fill="#f7a6a6" fill-opacity="0.6"/>
<rect x="148.8" y="203.1" width="10.2" height="18.9" fill="none" stroke="#f01e1e" stroke-width="0.95" />
<line x1="148.8" y1="221.9" x2="159" y2="221.9" stroke="#f01e1e" stroke-width="1.33"/>
<line x1="153.9" y1="189.8" x2="153.9" y2="203.1" stroke="#f01e1e" stroke-width="0.95"/>
<line x1="153.9" y1="222" x2="153.9" y2="224.3" stroke="#f01e1e" stroke-width="0.95"/>
<line x1="148.8" y1="189.8" x2="159" y2="189.8" stroke="#f01e1e" stroke-width="0.95"/>
<line x1="148.8" y1="224.3" x2="159" y2="224.3" stroke="#f01e1e" stroke-width="0.95"/>
<text x="130.9" y="193.7" font-size="5" fill="#222" font-style="italic" stroke="#222" stroke-width="0.18" stroke-opacity="0.55">p=0.1</text>
<rect x="178.2" y="188.5" width="34.5" height="37" fill="#fff" />
<line x1="178.2" y1="194.25" x2="212.7" y2="194.25" stroke="#ebebeb" stroke-width="0.35"/>
<line x1="178.2" y1="202.35" x2="212.7" y2="202.35" stroke="#ebebeb" stroke-width="0.35"/>
<line x1="178.2" y1="210.45" x2="212.7" y2="210.45" stroke="#ebebeb" stroke-width="0.35"/>
<line x1="178.2" y1="218.55" x2="212.7" y2="218.55" stroke="#ebebeb" stroke-width="0.35"/>
<line x1="178.2" y1="190.2" x2="212.7" y2="190.2" stroke="#ebebeb" stroke-width="0.6"/>
<line x1="178.2" y1="198.3" x2="212.7" y2="198.3" stroke="#ebebeb" stroke-width="0.6"/>
<line x1="178.2" y1="206.4" x2="212.7" y2="206.4" stroke="#ebebeb" stroke-width="0.6"/>
<line x1="178.2" y1="214.5" x2="212.7" y2="214.5" stroke="#ebebeb" stroke-width="0.6"/>
<line x1="178.2" y1="222.6" x2="212.7" y2="222.6" stroke="#ebebeb" stroke-width="0.6"/>
<line x1="187.4" y1="188.5" x2="187.4" y2="225.5" stroke="#ebebeb" stroke-width="0.6"/>
<line x1="203" y1="188.5" x2="203" y2="225.5" stroke="#ebebeb" stroke-width="0.6"/>
<rect x="178.2" y="188.5" width="34.5" height="37" fill="none" stroke="#666" stroke-width="0.6" />
<line x1="176.9" y1="190.2" x2="178.2" y2="190.2" stroke="#333" stroke-width="0.4"/>
<text x="176.4" y="191.39" font-size="3.3" text-anchor="end" fill="#333" stroke="#333" stroke-width="0.12" stroke-opacity="0.55">1.25</text>
<line x1="176.9" y1="198.3" x2="178.2" y2="198.3" stroke="#333" stroke-width="0.4"/>
<text x="176.4" y="199.49" font-size="3.3" text-anchor="end" fill="#333" stroke="#333" stroke-width="0.12" stroke-opacity="0.55">1.00</text>
<line x1="176.9" y1="206.4" x2="178.2" y2="206.4" stroke="#333" stroke-width="0.4"/>
<text x="176.4" y="207.59" font-size="3.3" text-anchor="end" fill="#333" stroke="#333" stroke-width="0.12" stroke-opacity="0.55">0.75</text>
<line x1="176.9" y1="214.5" x2="178.2" y2="214.5" stroke="#333" stroke-width="0.4"/>
<text x="176.4" y="215.69" font-size="3.3" text-anchor="end" fill="#333" stroke="#333" stroke-width="0.12" stroke-opacity="0.55">0.50</text>
<line x1="176.9" y1="222.6" x2="178.2" y2="222.6" stroke="#333" stroke-width="0.4"/>
<text x="176.4" y="223.79" font-size="3.3" text-anchor="end" fill="#333" stroke="#333" stroke-width="0.12" stroke-opacity="0.55">0.25</text>
<text x="170" y="207" font-size="4.4" text-anchor="middle" fill="#222" transform="rotate(-90 170 207)" stroke="#222" stroke-width="0.15" stroke-opacity="0.55">Cluster 15 (%)</text>
<line x1="187.4" y1="225.5" x2="187.4" y2="226.5" stroke="#333" stroke-width="0.4"/>
<text x="187.4" y="229.7" font-size="3.6" text-anchor="middle" fill="#333" stroke="#333" stroke-width="0.13" stroke-opacity="0.55">non-SD</text>
<line x1="203" y1="225.5" x2="203" y2="226.5" stroke="#333" stroke-width="0.4"/>
<text x="203" y="229.7" font-size="3.6" text-anchor="middle" fill="#333" stroke="#333" stroke-width="0.13" stroke-opacity="0.55">SD</text>
<path d="M182.2 222.8 Q182.2 221.65 184.2 221.65 L192.6 222.3 L192.6 223.3 Q184.2 223.95 182.2 222.8 Z" fill="#1f48a6" />
<circle cx="201" cy="202.84" r="1.2" fill="#f7a6a6" fill-opacity="0.6"/>
<circle cx="204.5" cy="208.01" r="1.2" fill="#f7a6a6" fill-opacity="0.6"/>
<circle cx="202" cy="213.19" r="1.2" fill="#f7a6a6" fill-opacity="0.6"/>
<circle cx="205.5" cy="217.33" r="1.2" fill="#f7a6a6" fill-opacity="0.6"/>
<circle cx="203" cy="219.4" r="1.2" fill="#f7a6a6" fill-opacity="0.6"/>
<rect x="198.1" y="198.7" width="9.8" height="8.7" fill="none" stroke="#f01e1e" stroke-width="0.95" />
<line x1="198.1" y1="201.6" x2="207.9" y2="201.6" stroke="#f01e1e" stroke-width="1.33"/>
<line x1="203" y1="190" x2="203" y2="198.7" stroke="#f01e1e" stroke-width="0.95"/>
<line x1="203" y1="207.4" x2="203" y2="219.4" stroke="#f01e1e" stroke-width="0.95"/>
<line x1="198.1" y1="190" x2="207.9" y2="190" stroke="#f01e1e" stroke-width="0.95"/>
<line x1="198.1" y1="219.4" x2="207.9" y2="219.4" stroke="#f01e1e" stroke-width="0.95"/>
<text x="193.7" y="202.6" font-size="8" font-weight="bold" text-anchor="middle" fill="#111">*</text>
<line x1="11.4" y1="248.8" x2="11.4" y2="284.4" stroke="#d0d0d0" stroke-width="0.5"/>
<line x1="42.6" y1="248.8" x2="42.6" y2="284.4" stroke="#d0d0d0" stroke-width="0.5"/>
<path d="M17.2 256.4C17.58 255.53 18.22 254.28 19 253.5C19.78 252.72 20.83 252.03 21.9 251.7C22.97 251.37 24.23 251.3 25.4 251.5C26.57 251.7 27.73 252.28 28.9 252.9C30.07 253.52 31.28 254.33 32.4 255.2C33.52 256.07 34.62 257.12 35.6 258.1C36.58 259.08 37.57 260.02 38.3 261.1C39.03 262.18 39.75 263.43 40 264.6C40.25 265.77 40.08 267.03 39.8 268.1C39.52 269.17 38.85 270.13 38.3 271C37.75 271.87 36.83 272.42 36.5 273.3C36.17 274.18 36.53 275.32 36.3 276.3C36.07 277.28 35.75 278.43 35.1 279.2C34.45 279.97 33.33 280.62 32.4 280.9C31.47 281.18 30.37 281.18 29.5 280.9C28.63 280.62 27.78 279.88 27.2 279.2C26.62 278.52 26.48 277.48 26 276.8C25.52 276.12 24.88 275.58 24.3 275.1C23.72 274.62 22.9 274.48 22.5 273.9C22.1 273.32 22.1 272.47 21.9 271.6C21.7 270.73 21.5 269.68 21.3 268.7C21.1 267.72 20.98 266.58 20.7 265.7C20.42 264.82 20.08 264.17 19.6 263.4C19.12 262.63 18.28 261.88 17.8 261.1C17.32 260.32 16.8 259.48 16.7 258.7C16.6 257.92 16.82 257.27 17.2 256.4Z" fill="url(#g4)" />
<g clip-path="url(#c6)"><g filter="url(#bl)"><ellipse cx="32.4" cy="279.8" rx="4" ry="3" fill="#2050c0" fill-opacity="1"/><ellipse cx="22.4" cy="253.8" rx="4" ry="2.5" fill="#40b040" fill-opacity="1"/></g></g>
<path d="M14.1 262.2C14.68 261.33 15.78 261.6 16.7 261.7C17.62 261.8 18.83 262.22 19.6 262.8C20.37 263.38 20.87 264.13 21.3 265.2C21.73 266.27 22.1 267.95 22.2 269.2C22.3 270.45 22.23 271.77 21.9 272.7C21.57 273.63 20.98 274.37 20.2 274.8C19.42 275.23 18.08 275.45 17.2 275.3C16.32 275.15 15.53 274.62 14.9 273.9C14.27 273.18 13.68 272.17 13.4 271C13.12 269.83 13.08 268.37 13.2 266.9C13.32 265.43 13.52 263.07 14.1 262.2Z" fill="url(#g5)" />
<g clip-path="url(#c7)"><g filter="url(#bl2)"><ellipse cx="17.4" cy="261.8" rx="3" ry="1.8" fill="#c0e030" fill-opacity="1"/><ellipse cx="16.9" cy="262" rx="1.5" ry="1" fill="#fff" fill-opacity="1"/></g></g>
<ellipse cx="17.8" cy="267.5" rx="5.3" ry="8.8" fill="none" stroke="#222" stroke-width="0.45" stroke-dasharray="1.1 0.6" transform="rotate(0 17.8 267.5)"/>
<text x="40.8" y="252.8" font-size="4.5" text-anchor="end" fill="#111" stroke="#111" stroke-width="0.16" stroke-opacity="0.55">PD-1</text>
<line x1="44.7" y1="248.8" x2="44.7" y2="284.4" stroke="#d0d0d0" stroke-width="0.5"/>
<line x1="75.7" y1="248.8" x2="75.7" y2="284.4" stroke="#d0d0d0" stroke-width="0.5"/>
<path d="M50.5 256.4C50.88 255.53 51.52 254.28 52.3 253.5C53.08 252.72 54.13 252.03 55.2 251.7C56.27 251.37 57.53 251.3 58.7 251.5C59.87 251.7 61.03 252.28 62.2 252.9C63.37 253.52 64.58 254.33 65.7 255.2C66.82 256.07 67.92 257.12 68.9 258.1C69.88 259.08 70.87 260.02 71.6 261.1C72.33 262.18 73.05 263.43 73.3 264.6C73.55 265.77 73.38 267.03 73.1 268.1C72.82 269.17 72.15 270.13 71.6 271C71.05 271.87 70.13 272.42 69.8 273.3C69.47 274.18 69.83 275.32 69.6 276.3C69.37 277.28 69.05 278.43 68.4 279.2C67.75 279.97 66.63 280.62 65.7 280.9C64.77 281.18 63.67 281.18 62.8 280.9C61.93 280.62 61.08 279.88 60.5 279.2C59.92 278.52 59.78 277.48 59.3 276.8C58.82 276.12 58.18 275.58 57.6 275.1C57.02 274.62 56.2 274.48 55.8 273.9C55.4 273.32 55.4 272.47 55.2 271.6C55 270.73 54.8 269.68 54.6 268.7C54.4 267.72 54.28 266.58 54 265.7C53.72 264.82 53.38 264.17 52.9 263.4C52.42 262.63 51.58 261.88 51.1 261.1C50.62 260.32 50.1 259.48 50 258.7C49.9 257.92 50.12 257.27 50.5 256.4Z" fill="#33d033" />
<g clip-path="url(#c8)"><g filter="url(#bl)"><ellipse cx="66.7" cy="278.8" rx="5" ry="3" fill="#1f8a80" fill-opacity="1"/><ellipse cx="64.7" cy="280.8" rx="2.5" ry="1.5" fill="#2a60c0" fill-opacity="1"/><ellipse cx="70.7" cy="265.8" rx="3" ry="6" fill="#2aa860" fill-opacity="1"/></g></g>
<path d="M47.4 262.2C47.98 261.33 49.08 261.6 50 261.7C50.92 261.8 52.13 262.22 52.9 262.8C53.67 263.38 54.17 264.13 54.6 265.2C55.03 266.27 55.4 267.95 55.5 269.2C55.6 270.45 55.53 271.77 55.2 272.7C54.87 273.63 54.28 274.37 53.5 274.8C52.72 275.23 51.38 275.45 50.5 275.3C49.62 275.15 48.83 274.62 48.2 273.9C47.57 273.18 46.98 272.17 46.7 271C46.42 269.83 46.38 268.37 46.5 266.9C46.62 265.43 46.82 263.07 47.4 262.2Z" fill="#c8eec0" />
<g clip-path="url(#c9)"><g filter="url(#bl2)"><ellipse cx="48.7" cy="269.8" rx="2.5" ry="3" fill="#50cc40" fill-opacity="1"/><ellipse cx="52.7" cy="271.8" rx="2" ry="2" fill="#60d040" fill-opacity="1"/><ellipse cx="50.7" cy="263.8" rx="1.5" ry="1.2" fill="#fff" fill-opacity="1"/></g></g>
<ellipse cx="51.1" cy="267.5" rx="5.3" ry="8.8" fill="none" stroke="#222" stroke-width="0.45" stroke-dasharray="1.1 0.6" transform="rotate(0 51.1 267.5)"/>
<text x="73.9" y="252.8" font-size="4.5" text-anchor="end" fill="#111" stroke="#111" stroke-width="0.16" stroke-opacity="0.55">TIM-3</text>
<line x1="78.3" y1="248.8" x2="78.3" y2="284.4" stroke="#d0d0d0" stroke-width="0.5"/>
<line x1="110.5" y1="248.8" x2="110.5" y2="284.4" stroke="#d0d0d0" stroke-width="0.5"/>
<path d="M84.1 256.4C84.48 255.53 85.12 254.28 85.9 253.5C86.68 252.72 87.73 252.03 88.8 251.7C89.87 251.37 91.13 251.3 92.3 251.5C93.47 251.7 94.63 252.28 95.8 252.9C96.97 253.52 98.18 254.33 99.3 255.2C100.42 256.07 101.52 257.12 102.5 258.1C103.48 259.08 104.47 260.02 105.2 261.1C105.93 262.18 106.65 263.43 106.9 264.6C107.15 265.77 106.98 267.03 106.7 268.1C106.42 269.17 105.75 270.13 105.2 271C104.65 271.87 103.73 272.42 103.4 273.3C103.07 274.18 103.43 275.32 103.2 276.3C102.97 277.28 102.65 278.43 102 279.2C101.35 279.97 100.23 280.62 99.3 280.9C98.37 281.18 97.27 281.18 96.4 280.9C95.53 280.62 94.68 279.88 94.1 279.2C93.52 278.52 93.38 277.48 92.9 276.8C92.42 276.12 91.78 275.58 91.2 275.1C90.62 274.62 89.8 274.48 89.4 273.9C89 273.32 89 272.47 88.8 271.6C88.6 270.73 88.4 269.68 88.2 268.7C88 267.72 87.88 266.58 87.6 265.7C87.32 264.82 86.98 264.17 86.5 263.4C86.02 262.63 85.18 261.88 84.7 261.1C84.22 260.32 83.7 259.48 83.6 258.7C83.5 257.92 83.72 257.27 84.1 256.4Z" fill="#2a9a5a" />
<g clip-path="url(#c10)"><g filter="url(#bl)"><ellipse cx="88.3" cy="258.8" rx="3" ry="3" fill="#40b050" fill-opacity="1"/></g></g>
<path d="M81 262.2C81.58 261.33 82.68 261.6 83.6 261.7C84.52 261.8 85.73 262.22 86.5 262.8C87.27 263.38 87.77 264.13 88.2 265.2C88.63 266.27 89 267.95 89.1 269.2C89.2 270.45 89.13 271.77 88.8 272.7C88.47 273.63 87.88 274.37 87.1 274.8C86.32 275.23 84.98 275.45 84.1 275.3C83.22 275.15 82.43 274.62 81.8 273.9C81.17 273.18 80.58 272.17 80.3 271C80.02 269.83 79.98 268.37 80.1 266.9C80.22 265.43 80.42 263.07 81 262.2Z" fill="#e6f2dc" />
<g clip-path="url(#c11)"><g filter="url(#bl2)"><ellipse cx="81.8" cy="268.8" rx="2.2" ry="1.6" fill="#ffb010" fill-opacity="1"/><ellipse cx="85.8" cy="271.3" rx="1.8" ry="1.5" fill="#90d040" fill-opacity="1"/><ellipse cx="84.8" cy="264.8" rx="2" ry="1.4" fill="#60c060" fill-opacity="1"/></g></g>
<ellipse cx="84.7" cy="267.5" rx="5.3" ry="8.8" fill="none" stroke="#222" stroke-width="0.45" stroke-dasharray="1.1 0.6" transform="rotate(0 84.7 267.5)"/>
<text x="108.7" y="252.8" font-size="4.5" text-anchor="end" fill="#111" stroke="#111" stroke-width="0.16" stroke-opacity="0.55">LAG-3</text>
<line x1="111.1" y1="248.8" x2="111.1" y2="284.4" stroke="#d0d0d0" stroke-width="0.5"/>
<line x1="142.9" y1="248.8" x2="142.9" y2="284.4" stroke="#d0d0d0" stroke-width="0.5"/>
<path d="M116.9 256.4C117.28 255.53 117.92 254.28 118.7 253.5C119.48 252.72 120.53 252.03 121.6 251.7C122.67 251.37 123.93 251.3 125.1 251.5C126.27 251.7 127.43 252.28 128.6 252.9C129.77 253.52 130.98 254.33 132.1 255.2C133.22 256.07 134.32 257.12 135.3 258.1C136.28 259.08 137.27 260.02 138 261.1C138.73 262.18 139.45 263.43 139.7 264.6C139.95 265.77 139.78 267.03 139.5 268.1C139.22 269.17 138.55 270.13 138 271C137.45 271.87 136.53 272.42 136.2 273.3C135.87 274.18 136.23 275.32 136 276.3C135.77 277.28 135.45 278.43 134.8 279.2C134.15 279.97 133.03 280.62 132.1 280.9C131.17 281.18 130.07 281.18 129.2 280.9C128.33 280.62 127.48 279.88 126.9 279.2C126.32 278.52 126.18 277.48 125.7 276.8C125.22 276.12 124.58 275.58 124 275.1C123.42 274.62 122.6 274.48 122.2 273.9C121.8 273.32 121.8 272.47 121.6 271.6C121.4 270.73 121.2 269.68 121 268.7C120.8 267.72 120.68 266.58 120.4 265.7C120.12 264.82 119.78 264.17 119.3 263.4C118.82 262.63 117.98 261.88 117.5 261.1C117.02 260.32 116.5 259.48 116.4 258.7C116.3 257.92 116.52 257.27 116.9 256.4Z" fill="url(#g12)" />
<g clip-path="url(#c13)"><g filter="url(#bl)"><ellipse cx="124.1" cy="268.8" rx="3" ry="2" fill="#ffd000" fill-opacity="0.8"/></g></g>
<path d="M113.8 262.2C114.38 261.33 115.48 261.6 116.4 261.7C117.32 261.8 118.53 262.22 119.3 262.8C120.07 263.38 120.57 264.13 121 265.2C121.43 266.27 121.8 267.95 121.9 269.2C122 270.45 121.93 271.77 121.6 272.7C121.27 273.63 120.68 274.37 119.9 274.8C119.12 275.23 117.78 275.45 116.9 275.3C116.02 275.15 115.23 274.62 114.6 273.9C113.97 273.18 113.38 272.17 113.1 271C112.82 269.83 112.78 268.37 112.9 266.9C113.02 265.43 113.22 263.07 113.8 262.2Z" fill="#fff4d0" />
<g clip-path="url(#c14)"><g filter="url(#bl2)"><ellipse cx="113.6" cy="268.3" rx="1.6" ry="5" fill="#ff5010" fill-opacity="1"/><ellipse cx="118.6" cy="271.8" rx="2" ry="2" fill="#ffa000" fill-opacity="1"/><ellipse cx="116.6" cy="263.8" rx="2" ry="1.5" fill="#f0e020" fill-opacity="1"/></g></g>
<ellipse cx="117.5" cy="267.5" rx="5.3" ry="8.8" fill="none" stroke="#222" stroke-width="0.45" stroke-dasharray="1.1 0.6" transform="rotate(0 117.5 267.5)"/>
<text x="141.1" y="252.8" font-size="4.5" text-anchor="end" fill="#111" stroke="#111" stroke-width="0.16" stroke-opacity="0.55">TIGIT</text>
<line x1="144.6" y1="248.8" x2="144.6" y2="284.4" stroke="#d0d0d0" stroke-width="0.5"/>
<line x1="176.2" y1="248.8" x2="176.2" y2="284.4" stroke="#d0d0d0" stroke-width="0.5"/>
<path d="M150.4 256.4C150.78 255.53 151.42 254.28 152.2 253.5C152.98 252.72 154.03 252.03 155.1 251.7C156.17 251.37 157.43 251.3 158.6 251.5C159.77 251.7 160.93 252.28 162.1 252.9C163.27 253.52 164.48 254.33 165.6 255.2C166.72 256.07 167.82 257.12 168.8 258.1C169.78 259.08 170.77 260.02 171.5 261.1C172.23 262.18 172.95 263.43 173.2 264.6C173.45 265.77 173.28 267.03 173 268.1C172.72 269.17 172.05 270.13 171.5 271C170.95 271.87 170.03 272.42 169.7 273.3C169.37 274.18 169.73 275.32 169.5 276.3C169.27 277.28 168.95 278.43 168.3 279.2C167.65 279.97 166.53 280.62 165.6 280.9C164.67 281.18 163.57 281.18 162.7 280.9C161.83 280.62 160.98 279.88 160.4 279.2C159.82 278.52 159.68 277.48 159.2 276.8C158.72 276.12 158.08 275.58 157.5 275.1C156.92 274.62 156.1 274.48 155.7 273.9C155.3 273.32 155.3 272.47 155.1 271.6C154.9 270.73 154.7 269.68 154.5 268.7C154.3 267.72 154.18 266.58 153.9 265.7C153.62 264.82 153.28 264.17 152.8 263.4C152.32 262.63 151.48 261.88 151 261.1C150.52 260.32 150 259.48 149.9 258.7C149.8 257.92 150.02 257.27 150.4 256.4Z" fill="url(#g15)" />
<g clip-path="url(#c16)"><g filter="url(#bl)"><ellipse cx="166.6" cy="278.8" rx="4" ry="3" fill="#2a70b0" fill-opacity="1"/></g></g>
<path d="M147.3 262.2C147.88 261.33 148.98 261.6 149.9 261.7C150.82 261.8 152.03 262.22 152.8 262.8C153.57 263.38 154.07 264.13 154.5 265.2C154.93 266.27 155.3 267.95 155.4 269.2C155.5 270.45 155.43 271.77 155.1 272.7C154.77 273.63 154.18 274.37 153.4 274.8C152.62 275.23 151.28 275.45 150.4 275.3C149.52 275.15 148.73 274.62 148.1 273.9C147.47 273.18 146.88 272.17 146.6 271C146.32 269.83 146.28 268.37 146.4 266.9C146.52 265.43 146.72 263.07 147.3 262.2Z" fill="#eef6e2" />
<g clip-path="url(#c17)"><g filter="url(#bl2)"><ellipse cx="148.1" cy="268.8" rx="2" ry="1.6" fill="#f0d010" fill-opacity="1"/><ellipse cx="151.6" cy="271.3" rx="1.5" ry="1.5" fill="#ffa020" fill-opacity="1"/><ellipse cx="151.1" cy="264.8" rx="1.6" ry="1.4" fill="#80c860" fill-opacity="1"/></g></g>
<ellipse cx="151" cy="267.5" rx="5.3" ry="8.8" fill="none" stroke="#222" stroke-width="0.45" stroke-dasharray="1.1 0.6" transform="rotate(0 151 267.5)"/>
<text x="174.4" y="252.8" font-size="4.5" text-anchor="end" fill="#111" stroke="#111" stroke-width="0.16" stroke-opacity="0.55">CTLA-4</text>
<line x1="176.8" y1="248.8" x2="176.8" y2="284.4" stroke="#d0d0d0" stroke-width="0.5"/>
<line x1="209.7" y1="248.8" x2="209.7" y2="284.4" stroke="#d0d0d0" stroke-width="0.5"/>
<path d="M182.6 256.4C182.98 255.53 183.62 254.28 184.4 253.5C185.18 252.72 186.23 252.03 187.3 251.7C188.37 251.37 189.63 251.3 190.8 251.5C191.97 251.7 193.13 252.28 194.3 252.9C195.47 253.52 196.68 254.33 197.8 255.2C198.92 256.07 200.02 257.12 201 258.1C201.98 259.08 202.97 260.02 203.7 261.1C204.43 262.18 205.15 263.43 205.4 264.6C205.65 265.77 205.48 267.03 205.2 268.1C204.92 269.17 204.25 270.13 203.7 271C203.15 271.87 202.23 272.42 201.9 273.3C201.57 274.18 201.93 275.32 201.7 276.3C201.47 277.28 201.15 278.43 200.5 279.2C199.85 279.97 198.73 280.62 197.8 280.9C196.87 281.18 195.77 281.18 194.9 280.9C194.03 280.62 193.18 279.88 192.6 279.2C192.02 278.52 191.88 277.48 191.4 276.8C190.92 276.12 190.28 275.58 189.7 275.1C189.12 274.62 188.3 274.48 187.9 273.9C187.5 273.32 187.5 272.47 187.3 271.6C187.1 270.73 186.9 269.68 186.7 268.7C186.5 267.72 186.38 266.58 186.1 265.7C185.82 264.82 185.48 264.17 185 263.4C184.52 262.63 183.68 261.88 183.2 261.1C182.72 260.32 182.2 259.48 182.1 258.7C182 257.92 182.22 257.27 182.6 256.4Z" fill="url(#g18)" />
<path d="M179.5 262.2C180.08 261.33 181.18 261.6 182.1 261.7C183.02 261.8 184.23 262.22 185 262.8C185.77 263.38 186.27 264.13 186.7 265.2C187.13 266.27 187.5 267.95 187.6 269.2C187.7 270.45 187.63 271.77 187.3 272.7C186.97 273.63 186.38 274.37 185.6 274.8C184.82 275.23 183.48 275.45 182.6 275.3C181.72 275.15 180.93 274.62 180.3 273.9C179.67 273.18 179.08 272.17 178.8 271C178.52 269.83 178.48 268.37 178.6 266.9C178.72 265.43 178.92 263.07 179.5 262.2Z" fill="#f6f8e2" />
<g clip-path="url(#c20)"><g filter="url(#bl2)"><ellipse cx="180.3" cy="268.8" rx="2.2" ry="2.2" fill="#ff9a10" fill-opacity="1"/><ellipse cx="184.3" cy="271.3" rx="1.5" ry="2" fill="#f0e010" fill-opacity="1"/><ellipse cx="183.3" cy="264.3" rx="1.5" ry="1.2" fill="#c0e040" fill-opacity="1"/></g></g>
<ellipse cx="183.2" cy="267.5" rx="5.3" ry="8.8" fill="none" stroke="#222" stroke-width="0.45" stroke-dasharray="1.1 0.6" transform="rotate(0 183.2 267.5)"/>
<text x="207.9" y="252.8" font-size="4.5" text-anchor="end" fill="#111" stroke="#111" stroke-width="0.16" stroke-opacity="0.55">FOXP3</text>
<rect x="213.4" y="249.9" width="1.7" height="31.7" fill="url(#g21)" />
<text x="211.6" y="266" font-size="2.2" text-anchor="middle" fill="#444" transform="rotate(-90 211.6 266)" stroke="#444" stroke-width="0.08" stroke-opacity="0.55">Expression levels</text>
<text x="8" y="304.5" font-size="12.5" font-weight="bold">g</text>
<line x1="15.7" y1="310.4" x2="15.7" y2="359" stroke="#cfcfcf" stroke-width="0.7"/>
<line x1="15.7" y1="359" x2="65.9" y2="359" stroke="#cfcfcf" stroke-width="0.7"/>
<path d="M51.8 313.5C53.33 313.73 55.57 315.18 57 316.5C58.43 317.82 59.7 319.02 60.4 321.4C61.1 323.78 61.58 327.67 61.2 330.8C60.82 333.93 59.67 337.32 58.1 340.2C56.53 343.08 54.42 346.27 51.8 348.1C49.18 349.93 45.02 350.95 42.4 351.2C39.78 351.45 36.88 351.17 36.1 349.6C35.32 348.03 36.65 344.15 37.7 341.8C38.75 339.45 41.1 337.85 42.4 335.5C43.7 333.15 44.85 330.32 45.5 327.7C46.15 325.08 45.92 321.9 46.3 319.8C46.68 317.7 46.88 316.15 47.8 315.1C48.72 314.05 50.27 313.27 51.8 313.5Z" fill="#f7f7f7" stroke="#e2e2e2" stroke-width="0.45" />
<g clip-path="url(#c22)" fill="#e2e2e2"><circle cx="44.42" cy="318.88" r="0.28"/><circle cx="52.92" cy="315.83" r="0.28"/><circle cx="49.93" cy="327.26" r="0.28"/><circle cx="37.51" cy="332.79" r="0.28"/><circle cx="36.97" cy="329.91" r="0.28"/><circle cx="37.82" cy="316.54" r="0.28"/><circle cx="47.04" cy="345.25" r="0.28"/><circle cx="39.22" cy="321.71" r="0.28"/><circle cx="52.31" cy="349.96" r="0.28"/><circle cx="51" cy="328.47" r="0.28"/><circle cx="61.38" cy="314.82" r="0.28"/><circle cx="58.32" cy="324.29" r="0.28"/><circle cx="39.75" cy="317.59" r="0.28"/><circle cx="44.02" cy="344.83" r="0.28"/><circle cx="40.7" cy="335.68" r="0.28"/><circle cx="52.61" cy="327.52" r="0.28"/><circle cx="50.24" cy="315.45" r="0.28"/><circle cx="37.55" cy="321.03" r="0.28"/><circle cx="53.69" cy="329.68" r="0.28"/><circle cx="44.17" cy="335.84" r="0.28"/><circle cx="47.78" cy="324.69" r="0.28"/><circle cx="56.65" cy="340.26" r="0.28"/><circle cx="42.35" cy="335.4" r="0.28"/><circle cx="49.66" cy="347.13" r="0.28"/><circle cx="54.97" cy="324.23" r="0.28"/><circle cx="61.48" cy="317.6" r="0.28"/><circle cx="46.87" cy="342.53" r="0.28"/><circle cx="39.95" cy="332.07" r="0.28"/><circle cx="37.02" cy="339.06" r="0.28"/><circle cx="55.88" cy="335.35" r="0.28"/><circle cx="58.76" cy="325.24" r="0.28"/><circle cx="54.08" cy="336.18" r="0.28"/><circle cx="51.08" cy="330.79" r="0.28"/><circle cx="57.84" cy="349.84" r="0.28"/><circle cx="48.33" cy="338.9" r="0.28"/><circle cx="37.58" cy="340.36" r="0.28"/><circle cx="52.83" cy="351.73" r="0.28"/><circle cx="57.37" cy="324.1" r="0.28"/><circle cx="46.03" cy="339.08" r="0.28"/><circle cx="36.59" cy="331.01" r="0.28"/><circle cx="40.37" cy="317.57" r="0.28"/><circle cx="37.53" cy="342.96" r="0.28"/><circle cx="39.36" cy="322.66" r="0.28"/><circle cx="46.16" cy="346.99" r="0.28"/><circle cx="38.1" cy="330.52" r="0.28"/><circle cx="50.29" cy="347.45" r="0.28"/><circle cx="57.3" cy="346.7" r="0.28"/><circle cx="43.24" cy="329.2" r="0.28"/><circle cx="45.33" cy="347.48" r="0.28"/><circle cx="60.9" cy="318.89" r="0.28"/><circle cx="40.58" cy="322.05" r="0.28"/><circle cx="42.07" cy="331.91" r="0.28"/><circle cx="51.32" cy="323.25" r="0.28"/><circle cx="36.11" cy="329.34" r="0.28"/><circle cx="45.6" cy="335.09" r="0.28"/><circle cx="60.78" cy="339.93" r="0.28"/><circle cx="49.4" cy="337.09" r="0.28"/><circle cx="53.58" cy="315.11" r="0.28"/><circle cx="59.39" cy="343.42" r="0.28"/><circle cx="58.74" cy="344.12" r="0.28"/><circle cx="46.2" cy="328.56" r="0.28"/><circle cx="38.69" cy="337.74" r="0.28"/><circle cx="37.62" cy="315.63" r="0.28"/><circle cx="41.43" cy="319.33" r="0.28"/><circle cx="44.84" cy="315.05" r="0.28"/><circle cx="36.01" cy="318.9" r="0.28"/><circle cx="38.64" cy="327.18" r="0.28"/><circle cx="36.66" cy="347.1" r="0.28"/><circle cx="51.97" cy="318.79" r="0.28"/><circle cx="42.56" cy="326.55" r="0.28"/><circle cx="45.47" cy="317.79" r="0.28"/><circle cx="58.07" cy="351.73" r="0.28"/><circle cx="48.12" cy="331.87" r="0.28"/><circle cx="38.23" cy="316.99" r="0.28"/><circle cx="44.91" cy="323.33" r="0.28"/><circle cx="57.55" cy="319.3" r="0.28"/><circle cx="36.6" cy="350.09" r="0.28"/><circle cx="49.73" cy="318.72" r="0.28"/><circle cx="50.12" cy="314.05" r="0.28"/><circle cx="49.73" cy="351.16" r="0.28"/><circle cx="58.45" cy="340.15" r="0.28"/><circle cx="42.79" cy="327.3" r="0.28"/><circle cx="40.34" cy="343.11" r="0.28"/><circle cx="49.85" cy="343.38" r="0.28"/><circle cx="44.57" cy="321.7" r="0.28"/><circle cx="57.1" cy="351.41" r="0.28"/><circle cx="58.17" cy="344.44" r="0.28"/><circle cx="57.28" cy="341.86" r="0.28"/><circle cx="41.9" cy="333.19" r="0.28"/><circle cx="45.24" cy="314.13" r="0.28"/><circle cx="36.73" cy="323.9" r="0.28"/><circle cx="42.74" cy="340.01" r="0.28"/><circle cx="60.87" cy="330.44" r="0.28"/><circle cx="60.36" cy="351.53" r="0.28"/><circle cx="60.83" cy="327.22" r="0.28"/><circle cx="41.73" cy="321.85" r="0.28"/><circle cx="41.11" cy="320.97" r="0.28"/><circle cx="52.23" cy="348.11" r="0.28"/><circle cx="57.85" cy="331.7" r="0.28"/><circle cx="52.98" cy="344.19" r="0.28"/><circle cx="38.2" cy="338.76" r="0.28"/><circle cx="59.65" cy="343.51" r="0.28"/><circle cx="55.5" cy="331.64" r="0.28"/><circle cx="40.64" cy="343.78" r="0.28"/><circle cx="44.65" cy="344.23" r="0.28"/><circle cx="61.26" cy="328.44" r="0.28"/><circle cx="46.44" cy="349.93" r="0.28"/><circle cx="54.84" cy="319.63" r="0.28"/><circle cx="39.3" cy="318.89" r="0.28"/><circle cx="59.53" cy="344.45" r="0.28"/><circle cx="39.8" cy="345.23" r="0.28"/><circle cx="61.49" cy="338.63" r="0.28"/><circle cx="45.11" cy="334.4" r="0.28"/><circle cx="39.41" cy="313.56" r="0.28"/><circle cx="61.24" cy="338.34" r="0.28"/><circle cx="49.69" cy="349.41" r="0.28"/><circle cx="47.28" cy="347" r="0.28"/><circle cx="57.48" cy="321.23" r="0.28"/><circle cx="42.55" cy="324.43" r="0.28"/><circle cx="42.25" cy="335.87" r="0.28"/><circle cx="42.74" cy="329.34" r="0.28"/><circle cx="39.41" cy="348.49" r="0.28"/><circle cx="45.2" cy="330.87" r="0.28"/><circle cx="51.17" cy="348.27" r="0.28"/><circle cx="46.94" cy="348.79" r="0.28"/><circle cx="49.04" cy="333.74" r="0.28"/><circle cx="49.61" cy="313.73" r="0.28"/><circle cx="47.44" cy="320.14" r="0.28"/><circle cx="36.1" cy="344.17" r="0.28"/><circle cx="40.48" cy="331.47" r="0.28"/><circle cx="54.86" cy="334.7" r="0.28"/><circle cx="44.48" cy="333.22" r="0.28"/><circle cx="50.44" cy="343.59" r="0.28"/><circle cx="38.76" cy="334.85" r="0.28"/><circle cx="42.46" cy="323.8" r="0.28"/><circle cx="56.08" cy="332.8" r="0.28"/><circle cx="50.6" cy="342.64" r="0.28"/><circle cx="59.72" cy="330.29" r="0.28"/><circle cx="51.93" cy="332.72" r="0.28"/><circle cx="49.32" cy="340.02" r="0.28"/><circle cx="47.76" cy="333.8" r="0.28"/><circle cx="48.43" cy="349.72" r="0.28"/><circle cx="54.18" cy="347.18" r="0.28"/><circle cx="60.5" cy="323.12" r="0.28"/><circle cx="50.55" cy="349.79" r="0.28"/><circle cx="57.84" cy="318.35" r="0.28"/><circle cx="39.16" cy="330.24" r="0.28"/><circle cx="37.89" cy="322.38" r="0.28"/><circle cx="37.9" cy="339.11" r="0.28"/><circle cx="56.38" cy="347.98" r="0.28"/><circle cx="40.02" cy="340.93" r="0.28"/><circle cx="53.17" cy="318.58" r="0.28"/><circle cx="58.95" cy="350.73" r="0.28"/><circle cx="41.71" cy="350.15" r="0.28"/><circle cx="46.35" cy="332" r="0.28"/><circle cx="61.74" cy="345.47" r="0.28"/><circle cx="40.2" cy="329.83" r="0.28"/><circle cx="49.41" cy="326.23" r="0.28"/><circle cx="41.09" cy="325.42" r="0.28"/><circle cx="54.78" cy="313.76" r="0.28"/><circle cx="50.41" cy="330.18" r="0.28"/><circle cx="36.47" cy="325.93" r="0.28"/><circle cx="52.22" cy="332.98" r="0.28"/><circle cx="37.67" cy="351.42" r="0.28"/><circle cx="56.5" cy="350.9" r="0.28"/><circle cx="38.72" cy="323.36" r="0.28"/><circle cx="37.03" cy="343.38" r="0.28"/><circle cx="43.03" cy="318.05" r="0.28"/><circle cx="46.98" cy="348.55" r="0.28"/><circle cx="57.29" cy="323.09" r="0.28"/><circle cx="39.88" cy="348.85" r="0.28"/><circle cx="50.84" cy="340.32" r="0.28"/><circle cx="38.33" cy="315.24" r="0.28"/><circle cx="53.89" cy="329.59" r="0.28"/><circle cx="37.88" cy="349.6" r="0.28"/><circle cx="52.5" cy="344.26" r="0.28"/><circle cx="38.18" cy="346.39" r="0.28"/><circle cx="37.73" cy="346.65" r="0.28"/><circle cx="47.8" cy="326.23" r="0.28"/><circle cx="50.38" cy="349.14" r="0.28"/><circle cx="42.96" cy="318.04" r="0.28"/><circle cx="49.7" cy="322.3" r="0.28"/><circle cx="38.85" cy="319.3" r="0.28"/><circle cx="37.31" cy="320.87" r="0.28"/><circle cx="44.11" cy="324.9" r="0.28"/><circle cx="55.75" cy="324.31" r="0.28"/><circle cx="49" cy="319.94" r="0.28"/><circle cx="45.02" cy="313.71" r="0.28"/><circle cx="42.51" cy="313.6" r="0.28"/><circle cx="55.06" cy="334.49" r="0.28"/><circle cx="40.93" cy="331.52" r="0.28"/><circle cx="60.3" cy="317.14" r="0.28"/><circle cx="57.29" cy="329.85" r="0.28"/><circle cx="48.87" cy="345.55" r="0.28"/><circle cx="46.22" cy="332.76" r="0.28"/><circle cx="53.88" cy="351.32" r="0.28"/><circle cx="44.91" cy="345.46" r="0.28"/><circle cx="54.37" cy="337.8" r="0.28"/><circle cx="46.52" cy="326.55" r="0.28"/><circle cx="37.41" cy="318.06" r="0.28"/><circle cx="37.84" cy="341.89" r="0.28"/><circle cx="42.65" cy="319.37" r="0.28"/><circle cx="38.2" cy="345.81" r="0.28"/><circle cx="58.63" cy="339.15" r="0.28"/><circle cx="43.33" cy="322.45" r="0.28"/><circle cx="43.62" cy="330.92" r="0.28"/><circle cx="40.1" cy="330.39" r="0.28"/><circle cx="42.84" cy="350.51" r="0.28"/><circle cx="61.29" cy="334.34" r="0.28"/><circle cx="42.36" cy="350.66" r="0.28"/><circle cx="44.05" cy="326.91" r="0.28"/><circle cx="36.03" cy="327.88" r="0.28"/><circle cx="48.34" cy="332.61" r="0.28"/><circle cx="41.23" cy="332.68" r="0.28"/><circle cx="36.13" cy="323.3" r="0.28"/><circle cx="38.33" cy="328.58" r="0.28"/><circle cx="37.08" cy="313.88" r="0.28"/><circle cx="43.91" cy="322.08" r="0.28"/><circle cx="51.23" cy="333.64" r="0.28"/><circle cx="55.51" cy="338.64" r="0.28"/><circle cx="54.62" cy="347.28" r="0.28"/><circle cx="46.13" cy="325.72" r="0.28"/><circle cx="61.6" cy="318.83" r="0.28"/><circle cx="54.83" cy="338.09" r="0.28"/><circle cx="37.14" cy="345.58" r="0.28"/><circle cx="59.19" cy="337.47" r="0.28"/><circle cx="55.08" cy="344.68" r="0.28"/><circle cx="39.62" cy="333.43" r="0.28"/><circle cx="49.11" cy="345.56" r="0.28"/><circle cx="56.92" cy="345.23" r="0.28"/><circle cx="51.19" cy="347.82" r="0.28"/><circle cx="53.76" cy="340.04" r="0.28"/><circle cx="41.98" cy="314.22" r="0.28"/><circle cx="39.46" cy="327.07" r="0.28"/><circle cx="38.73" cy="345.6" r="0.28"/><circle cx="50.52" cy="337.48" r="0.28"/><circle cx="52.28" cy="339.55" r="0.28"/><circle cx="48.72" cy="313.13" r="0.28"/><circle cx="56.74" cy="342.18" r="0.28"/><circle cx="49.08" cy="333.87" r="0.28"/><circle cx="53.14" cy="315.58" r="0.28"/><circle cx="55.16" cy="322.84" r="0.28"/><circle cx="37.94" cy="323.36" r="0.28"/><circle cx="54.96" cy="321" r="0.28"/><circle cx="55.24" cy="351.05" r="0.28"/><circle cx="48.84" cy="327.92" r="0.28"/><circle cx="48.45" cy="339.66" r="0.28"/><circle cx="55.94" cy="337.06" r="0.28"/><circle cx="52.71" cy="316.02" r="0.28"/><circle cx="39.83" cy="322.9" r="0.28"/></g>
<path d="M28.5 330.5C28.92 329.72 30.75 329.47 31.5 329.8C32.25 330.13 33 331.63 33 332.5C33 333.37 32.17 334.67 31.5 335C30.83 335.33 29.5 335.25 29 334.5C28.5 333.75 28.08 331.28 28.5 330.5Z" fill="#f0a818" opacity="0.9" />
<path d="M27.2 334.5C27.7 333.7 29.07 333.03 29.8 333.2C30.53 333.37 31.27 334.37 31.6 335.5C31.93 336.63 31.9 338.5 31.8 340C31.7 341.5 31.5 343.58 31 344.5C30.5 345.42 29.47 345.75 28.8 345.5C28.13 345.25 27.33 344.25 27 343C26.67 341.75 26.77 339.42 26.8 338C26.83 336.58 26.7 335.3 27.2 334.5Z" fill="#1a1ab0" opacity="0.85" />
<g fill="#1a1ab0"><circle cx="29.06" cy="339.68" r="0.4"/><circle cx="32.45" cy="338.22" r="0.4"/><circle cx="29.46" cy="340.1" r="0.4"/><circle cx="27.13" cy="338.93" r="0.4"/><circle cx="30.34" cy="343.29" r="0.4"/><circle cx="26.48" cy="335.7" r="0.4"/><circle cx="26.45" cy="343.55" r="0.4"/><circle cx="30.79" cy="331.65" r="0.4"/><circle cx="32.87" cy="345.95" r="0.4"/><circle cx="30.51" cy="340.54" r="0.4"/><circle cx="26.93" cy="331.23" r="0.4"/><circle cx="29.6" cy="331.92" r="0.4"/><circle cx="27.17" cy="334.75" r="0.4"/><circle cx="26.02" cy="338.19" r="0.4"/><circle cx="28.97" cy="344.06" r="0.4"/><circle cx="29.54" cy="340.92" r="0.4"/><circle cx="29.4" cy="341.27" r="0.4"/><circle cx="29.09" cy="335.31" r="0.4"/><circle cx="32.98" cy="346.43" r="0.4"/><circle cx="31.85" cy="341.97" r="0.4"/><circle cx="28.07" cy="334.56" r="0.4"/><circle cx="27.88" cy="332.09" r="0.4"/><circle cx="31.32" cy="337.21" r="0.4"/><circle cx="31.9" cy="336.99" r="0.4"/><circle cx="32.7" cy="344.13" r="0.4"/><circle cx="25.8" cy="334.25" r="0.4"/><circle cx="32.35" cy="338.28" r="0.4"/><circle cx="32.86" cy="337.16" r="0.4"/><circle cx="26.33" cy="340.76" r="0.4"/><circle cx="31.41" cy="335.18" r="0.4"/><circle cx="26.43" cy="336.16" r="0.4"/><circle cx="32.74" cy="342.75" r="0.4"/><circle cx="26.65" cy="334.82" r="0.4"/><circle cx="26.53" cy="331.93" r="0.4"/><circle cx="31.54" cy="333.75" r="0.4"/><circle cx="29.83" cy="337.94" r="0.4"/><circle cx="27.17" cy="342.34" r="0.4"/><circle cx="26.74" cy="340.98" r="0.4"/><circle cx="26.64" cy="337.52" r="0.4"/><circle cx="27.33" cy="335.18" r="0.4"/><circle cx="32.79" cy="343.45" r="0.4"/><circle cx="27.99" cy="344.72" r="0.4"/><circle cx="27.32" cy="337.11" r="0.4"/><circle cx="31.95" cy="340.95" r="0.4"/><circle cx="26.52" cy="346.33" r="0.4"/></g>
<g fill="#f0a818"><circle cx="30.08" cy="333.12" r="0.4"/><circle cx="31.33" cy="330.28" r="0.4"/><circle cx="27.07" cy="331.56" r="0.4"/><circle cx="28.78" cy="333.96" r="0.4"/><circle cx="31.49" cy="332.81" r="0.4"/><circle cx="30.63" cy="333.14" r="0.4"/><circle cx="27.94" cy="331.92" r="0.4"/><circle cx="28.05" cy="334.48" r="0.4"/><circle cx="27.38" cy="334" r="0.4"/><circle cx="27.48" cy="333.28" r="0.4"/><circle cx="29.19" cy="331.73" r="0.4"/><circle cx="32.48" cy="329.6" r="0.4"/><circle cx="27.4" cy="334.53" r="0.4"/><circle cx="30.31" cy="330" r="0.4"/><circle cx="33.42" cy="334.71" r="0.4"/><circle cx="27.73" cy="331.83" r="0.4"/></g>
<text x="18" y="314.6" font-size="5" font-weight="bold" fill="#111">non-SD</text>
<text x="17" y="357" font-size="4.3" fill="#222" stroke="#222" stroke-width="0.15" stroke-opacity="0.55">N=3</text>
<line x1="16" y1="362.5" x2="16" y2="410" stroke="#cfcfcf" stroke-width="0.7"/>
<path d="M46.2 366.5C47.28 365.77 50.18 367.5 52 368.3C53.82 369.1 55.47 369.43 57.1 371.3C58.73 373.17 61.13 376.33 61.8 379.5C62.47 382.67 61.88 387.13 61.1 390.3C60.32 393.47 58.9 396.23 57.1 398.5C55.3 400.77 53.02 402.88 50.3 403.9C47.58 404.92 43.42 405.05 40.8 404.6C38.18 404.15 35.52 402.9 34.6 401.2C33.68 399.5 34.27 396.67 35.3 394.4C36.33 392.13 39.22 389.87 40.8 387.6C42.38 385.33 44.02 383.28 44.8 380.8C45.58 378.32 45.27 375.08 45.5 372.7C45.73 370.32 45.12 367.23 46.2 366.5Z" fill="#f7f7f7" stroke="#e2e2e2" stroke-width="0.45" />
<g clip-path="url(#c23)" fill="#e2e2e2"><circle cx="46.96" cy="380.56" r="0.28"/><circle cx="37.88" cy="399.8" r="0.28"/><circle cx="34.18" cy="385.61" r="0.28"/><circle cx="59.15" cy="369.15" r="0.28"/><circle cx="49.52" cy="390.05" r="0.28"/><circle cx="35.15" cy="380.78" r="0.28"/><circle cx="53.7" cy="383.63" r="0.28"/><circle cx="54.3" cy="372.13" r="0.28"/><circle cx="40.66" cy="370.33" r="0.28"/><circle cx="48.18" cy="402.03" r="0.28"/><circle cx="50.53" cy="396.19" r="0.28"/><circle cx="44.74" cy="395.1" r="0.28"/><circle cx="36.85" cy="377.36" r="0.28"/><circle cx="52.88" cy="394.3" r="0.28"/><circle cx="45.81" cy="369.42" r="0.28"/><circle cx="41.47" cy="374.19" r="0.28"/><circle cx="41.87" cy="397.57" r="0.28"/><circle cx="39.59" cy="400.57" r="0.28"/><circle cx="58.62" cy="368.14" r="0.28"/><circle cx="44.61" cy="385.18" r="0.28"/><circle cx="34.66" cy="382.56" r="0.28"/><circle cx="59.38" cy="370.37" r="0.28"/><circle cx="50.71" cy="370.73" r="0.28"/><circle cx="50.2" cy="400.92" r="0.28"/><circle cx="39.69" cy="366.32" r="0.28"/><circle cx="36.34" cy="387.05" r="0.28"/><circle cx="34.49" cy="369.31" r="0.28"/><circle cx="47.91" cy="401.92" r="0.28"/><circle cx="45.76" cy="381.53" r="0.28"/><circle cx="51.88" cy="369.64" r="0.28"/><circle cx="50.23" cy="372.73" r="0.28"/><circle cx="51.05" cy="403.37" r="0.28"/><circle cx="35.52" cy="387.65" r="0.28"/><circle cx="50.98" cy="371.82" r="0.28"/><circle cx="41.51" cy="404.8" r="0.28"/><circle cx="61.94" cy="370.73" r="0.28"/><circle cx="53.75" cy="403.09" r="0.28"/><circle cx="40.63" cy="389.83" r="0.28"/><circle cx="35.2" cy="380.27" r="0.28"/><circle cx="52.88" cy="389.02" r="0.28"/><circle cx="55.69" cy="369.38" r="0.28"/><circle cx="43.72" cy="399.7" r="0.28"/><circle cx="50.36" cy="383.6" r="0.28"/><circle cx="45.26" cy="404.46" r="0.28"/><circle cx="50.08" cy="366.72" r="0.28"/><circle cx="56.38" cy="378.82" r="0.28"/><circle cx="46.14" cy="374.32" r="0.28"/><circle cx="46.43" cy="378.66" r="0.28"/><circle cx="36.49" cy="390.55" r="0.28"/><circle cx="36.89" cy="396.58" r="0.28"/><circle cx="34.71" cy="396.45" r="0.28"/><circle cx="56.61" cy="385.4" r="0.28"/><circle cx="53.86" cy="375.68" r="0.28"/><circle cx="54.65" cy="382.58" r="0.28"/><circle cx="40.47" cy="403.6" r="0.28"/><circle cx="45.23" cy="380.55" r="0.28"/><circle cx="58.08" cy="380.41" r="0.28"/><circle cx="52.69" cy="372.67" r="0.28"/><circle cx="57.61" cy="376.1" r="0.28"/><circle cx="35.41" cy="404.04" r="0.28"/><circle cx="38.84" cy="402.91" r="0.28"/><circle cx="61.61" cy="389.66" r="0.28"/><circle cx="34.33" cy="368.38" r="0.28"/><circle cx="39.84" cy="381.17" r="0.28"/><circle cx="51.12" cy="403.69" r="0.28"/><circle cx="43.93" cy="371.49" r="0.28"/><circle cx="49.73" cy="371.35" r="0.28"/><circle cx="36.42" cy="387.68" r="0.28"/><circle cx="53.49" cy="368.56" r="0.28"/><circle cx="46.64" cy="393.45" r="0.28"/><circle cx="55.4" cy="380.94" r="0.28"/><circle cx="58.84" cy="372.59" r="0.28"/><circle cx="54.03" cy="396.1" r="0.28"/><circle cx="58.65" cy="385.28" r="0.28"/><circle cx="36.78" cy="367.89" r="0.28"/><circle cx="48.81" cy="372.76" r="0.28"/><circle cx="51.63" cy="369.29" r="0.28"/><circle cx="55.84" cy="374.67" r="0.28"/><circle cx="34.36" cy="372.86" r="0.28"/><circle cx="46.79" cy="387.81" r="0.28"/><circle cx="44.87" cy="372.75" r="0.28"/><circle cx="47.5" cy="402.91" r="0.28"/><circle cx="48.99" cy="402.71" r="0.28"/><circle cx="34.81" cy="404.73" r="0.28"/><circle cx="58.89" cy="387.23" r="0.28"/><circle cx="48.66" cy="386.95" r="0.28"/><circle cx="59.47" cy="368.56" r="0.28"/><circle cx="52" cy="387.14" r="0.28"/><circle cx="42.41" cy="394.27" r="0.28"/><circle cx="54.18" cy="370.03" r="0.28"/><circle cx="53.59" cy="383.69" r="0.28"/><circle cx="47.73" cy="390.83" r="0.28"/><circle cx="35.48" cy="389.51" r="0.28"/><circle cx="44.45" cy="400.27" r="0.28"/><circle cx="40.47" cy="398.1" r="0.28"/><circle cx="54.43" cy="390.37" r="0.28"/><circle cx="58.52" cy="367.4" r="0.28"/><circle cx="50.71" cy="389.92" r="0.28"/><circle cx="52.99" cy="381.86" r="0.28"/><circle cx="35.93" cy="373.37" r="0.28"/><circle cx="51.03" cy="373.07" r="0.28"/><circle cx="35.82" cy="379.84" r="0.28"/><circle cx="47.17" cy="386.89" r="0.28"/><circle cx="34.73" cy="396.25" r="0.28"/><circle cx="43.35" cy="396.53" r="0.28"/><circle cx="34.24" cy="403.21" r="0.28"/><circle cx="50.53" cy="404.08" r="0.28"/><circle cx="61.62" cy="398.48" r="0.28"/><circle cx="36.97" cy="379.6" r="0.28"/><circle cx="40.48" cy="396.42" r="0.28"/><circle cx="39.38" cy="374.63" r="0.28"/><circle cx="37.1" cy="370.68" r="0.28"/><circle cx="60.27" cy="404.07" r="0.28"/><circle cx="44.43" cy="394.9" r="0.28"/><circle cx="47.09" cy="386.36" r="0.28"/><circle cx="44.35" cy="390.75" r="0.28"/><circle cx="40.61" cy="376" r="0.28"/><circle cx="48.5" cy="373.7" r="0.28"/><circle cx="46.3" cy="402.81" r="0.28"/><circle cx="34.62" cy="370.03" r="0.28"/><circle cx="56.4" cy="368.25" r="0.28"/><circle cx="41.03" cy="399.21" r="0.28"/><circle cx="50.95" cy="374.61" r="0.28"/><circle cx="35.64" cy="376.73" r="0.28"/><circle cx="42.4" cy="397.21" r="0.28"/><circle cx="61.32" cy="396.67" r="0.28"/><circle cx="59.25" cy="402.3" r="0.28"/><circle cx="58.54" cy="401.88" r="0.28"/><circle cx="61.09" cy="369.68" r="0.28"/><circle cx="42.89" cy="375.64" r="0.28"/><circle cx="50.92" cy="385.18" r="0.28"/><circle cx="43.71" cy="398.65" r="0.28"/><circle cx="45.17" cy="374.15" r="0.28"/><circle cx="41.74" cy="384.01" r="0.28"/><circle cx="51.09" cy="388.17" r="0.28"/><circle cx="46.32" cy="373.27" r="0.28"/><circle cx="45.26" cy="378.68" r="0.28"/><circle cx="38.78" cy="387.21" r="0.28"/><circle cx="39.28" cy="393.75" r="0.28"/><circle cx="52.45" cy="371.37" r="0.28"/><circle cx="51.51" cy="379.18" r="0.28"/><circle cx="46.52" cy="389.66" r="0.28"/><circle cx="55.32" cy="400.46" r="0.28"/><circle cx="54.54" cy="374.24" r="0.28"/><circle cx="49.17" cy="379.08" r="0.28"/><circle cx="34.54" cy="387.55" r="0.28"/><circle cx="47.18" cy="399.81" r="0.28"/><circle cx="43.06" cy="398.51" r="0.28"/><circle cx="48.4" cy="369.86" r="0.28"/><circle cx="54.07" cy="377.1" r="0.28"/><circle cx="48.94" cy="368.79" r="0.28"/><circle cx="34.3" cy="401.92" r="0.28"/><circle cx="35.18" cy="371.82" r="0.28"/><circle cx="38.57" cy="369.75" r="0.28"/><circle cx="57.07" cy="404.81" r="0.28"/><circle cx="52.18" cy="381.42" r="0.28"/><circle cx="58.88" cy="385.74" r="0.28"/><circle cx="37.78" cy="392.92" r="0.28"/><circle cx="44.05" cy="376.53" r="0.28"/><circle cx="42.97" cy="381.02" r="0.28"/><circle cx="39.11" cy="389.89" r="0.28"/><circle cx="58.32" cy="388.26" r="0.28"/><circle cx="34.26" cy="392.68" r="0.28"/><circle cx="34.56" cy="384.67" r="0.28"/><circle cx="58.24" cy="392.41" r="0.28"/><circle cx="59.43" cy="395.43" r="0.28"/><circle cx="41.64" cy="371.6" r="0.28"/><circle cx="46.64" cy="392.51" r="0.28"/><circle cx="40.5" cy="378.91" r="0.28"/><circle cx="54.95" cy="379.56" r="0.28"/><circle cx="50.83" cy="387.27" r="0.28"/><circle cx="60.01" cy="367.02" r="0.28"/><circle cx="39.22" cy="396.36" r="0.28"/><circle cx="52.73" cy="369.77" r="0.28"/><circle cx="37.77" cy="374.22" r="0.28"/><circle cx="49.21" cy="401.19" r="0.28"/><circle cx="40.06" cy="373.91" r="0.28"/><circle cx="53.2" cy="382.5" r="0.28"/><circle cx="57.71" cy="404.96" r="0.28"/><circle cx="60.21" cy="393.91" r="0.28"/><circle cx="47.89" cy="368.38" r="0.28"/><circle cx="56.63" cy="381.54" r="0.28"/><circle cx="46.98" cy="390.65" r="0.28"/><circle cx="60.99" cy="387.68" r="0.28"/><circle cx="59.7" cy="403.6" r="0.28"/><circle cx="36.38" cy="379.83" r="0.28"/><circle cx="58.88" cy="395.93" r="0.28"/><circle cx="61.14" cy="373.27" r="0.28"/><circle cx="48.87" cy="402.38" r="0.28"/><circle cx="49.11" cy="392.15" r="0.28"/><circle cx="61.3" cy="372.76" r="0.28"/><circle cx="35.58" cy="399.3" r="0.28"/><circle cx="50.27" cy="373.81" r="0.28"/><circle cx="57.3" cy="377.06" r="0.28"/><circle cx="37.63" cy="377.61" r="0.28"/><circle cx="35.01" cy="381.83" r="0.28"/><circle cx="55.83" cy="383.71" r="0.28"/><circle cx="61.01" cy="367.63" r="0.28"/><circle cx="38.85" cy="371.61" r="0.28"/><circle cx="50.08" cy="373.79" r="0.28"/><circle cx="52.68" cy="386.4" r="0.28"/><circle cx="50.26" cy="398.95" r="0.28"/><circle cx="56.12" cy="401.97" r="0.28"/><circle cx="38.26" cy="380.79" r="0.28"/><circle cx="60.89" cy="381.48" r="0.28"/><circle cx="42" cy="384.79" r="0.28"/><circle cx="39.06" cy="399.08" r="0.28"/><circle cx="51.81" cy="369.69" r="0.28"/><circle cx="61" cy="386.3" r="0.28"/><circle cx="41.1" cy="389.89" r="0.28"/><circle cx="60.59" cy="379.53" r="0.28"/><circle cx="34.39" cy="373.71" r="0.28"/><circle cx="35.64" cy="386.62" r="0.28"/><circle cx="42.72" cy="399.21" r="0.28"/><circle cx="39.77" cy="366.59" r="0.28"/><circle cx="47.01" cy="370.81" r="0.28"/><circle cx="42.69" cy="374.79" r="0.28"/><circle cx="38.99" cy="390.81" r="0.28"/><circle cx="60.21" cy="380.43" r="0.28"/><circle cx="51.88" cy="378.6" r="0.28"/><circle cx="59.62" cy="387.56" r="0.28"/><circle cx="34.82" cy="394.93" r="0.28"/><circle cx="39.88" cy="367.83" r="0.28"/><circle cx="34.54" cy="398.77" r="0.28"/><circle cx="53.88" cy="379.96" r="0.28"/><circle cx="49.61" cy="393.51" r="0.28"/><circle cx="36.11" cy="393.53" r="0.28"/><circle cx="53.85" cy="402.75" r="0.28"/><circle cx="35.66" cy="388.32" r="0.28"/><circle cx="48.23" cy="399" r="0.28"/><circle cx="44.19" cy="391.83" r="0.28"/><circle cx="59.12" cy="379.6" r="0.28"/><circle cx="48.43" cy="400.85" r="0.28"/><circle cx="34.96" cy="403.99" r="0.28"/><circle cx="42.76" cy="383.84" r="0.28"/><circle cx="42.05" cy="397.11" r="0.28"/><circle cx="48.91" cy="395.16" r="0.28"/><circle cx="36.91" cy="400.34" r="0.28"/><circle cx="56.98" cy="392.53" r="0.28"/><circle cx="40.24" cy="376.13" r="0.28"/><circle cx="46.66" cy="368.54" r="0.28"/><circle cx="60.7" cy="381.91" r="0.28"/><circle cx="60.69" cy="373.13" r="0.28"/><circle cx="52.15" cy="397.15" r="0.28"/><circle cx="52.05" cy="382.5" r="0.28"/><circle cx="34.54" cy="382.98" r="0.28"/><circle cx="44.92" cy="402.85" r="0.28"/><circle cx="61.26" cy="403.32" r="0.28"/><circle cx="61.44" cy="372.59" r="0.28"/><circle cx="34.83" cy="377.39" r="0.28"/></g>
<path d="M27.9 376.7L31 380L34 386.5L30 390L24 388L22.5 383Z" fill="#f0a818" />
<path d="M20.6 383.5L25.8 382.5L26.2 395.8L22 396.5L19.6 392Z" fill="#d07012" />
<path d="M24.8 381.2L31 380.5L33.5 388L33.3 394L32 398.6L26 397.2L24.6 390Z" fill="#1212b4" />
<text x="28.4" y="376.8" font-size="4.6" font-weight="bold" fill="#f0a818">12</text>
<text x="34.4" y="382.4" font-size="4.6" font-weight="bold" fill="#1212b4">13</text>
<text x="16.8" y="397.6" font-size="4.4" font-weight="bold" fill="#d07012">14</text>
<text x="17.7" y="366.6" font-size="5" font-weight="bold" fill="#111">SD</text>
<text x="17" y="409" font-size="4.3" fill="#222" stroke="#222" stroke-width="0.15" stroke-opacity="0.55">N=7</text>
<path d="M10.6 374.7L7.5 381.5L13.7 381.5Z" fill="#000" />
<line x1="10.6" y1="381" x2="10.6" y2="390.6" stroke="#000" stroke-width="0.7"/>
<text x="13.3" y="401.2" font-size="7" text-anchor="middle" transform="rotate(-90 13.3 401.2)" textLength="20.4" lengthAdjust="spacingAndGlyphs" stroke="#000" stroke-width="0.22" stroke-opacity="0.55">UMAP2</text>
<text x="17" y="417.5" font-size="7" textLength="21.7" lengthAdjust="spacingAndGlyphs" stroke="#000" stroke-width="0.22" stroke-opacity="0.55">UMAP1</text>
<line x1="38.9" y1="415.8" x2="47.5" y2="415.8" stroke="#000" stroke-width="0.7"/>
<path d="M53.4 415.8L46.6 412.9L46.6 418.7Z" fill="#000" />
<rect x="73.2" y="310.2" width="10.19" height="10.3" fill="#c6dcec" />
<rect x="83.39" y="310.2" width="10.19" height="10.3" fill="#d73027" />
<rect x="93.58" y="310.2" width="10.19" height="10.3" fill="#4575b4" />
<rect x="103.78" y="310.2" width="10.19" height="10.3" fill="#4575b4" />
<rect x="113.97" y="310.2" width="10.19" height="10.3" fill="#4575b4" />
<rect x="124.16" y="310.2" width="10.19" height="10.3" fill="#91bfdb" />
<rect x="134.35" y="310.2" width="10.19" height="10.3" fill="#fbfdc4" />
<rect x="144.54" y="310.2" width="10.19" height="10.3" fill="#74a9cf" />
<rect x="154.73" y="310.2" width="10.19" height="10.3" fill="#d6eaf3" />
<rect x="164.93" y="310.2" width="10.19" height="10.3" fill="#d6eaf3" />
<rect x="175.12" y="310.2" width="10.19" height="10.3" fill="#5b8cc4" />
<rect x="185.31" y="310.2" width="10.19" height="10.3" fill="#4f83c0" />
<rect x="73.2" y="320.5" width="10.19" height="10.3" fill="#abd0e6" />
<rect x="83.39" y="320.5" width="10.19" height="10.3" fill="#e6f5e0" />
<rect x="93.58" y="320.5" width="10.19" height="10.3" fill="#fdbf71" />
<rect x="103.78" y="320.5" width="10.19" height="10.3" fill="#fed98b" />
<rect x="113.97" y="320.5" width="10.19" height="10.3" fill="#fc8d59" />
<rect x="124.16" y="320.5" width="10.19" height="10.3" fill="#d73027" />
<rect x="134.35" y="320.5" width="10.19" height="10.3" fill="#e34a33" />
<rect x="144.54" y="320.5" width="10.19" height="10.3" fill="#edf6dc" />
<rect x="154.73" y="320.5" width="10.19" height="10.3" fill="#92c0dd" />
<rect x="164.93" y="320.5" width="10.19" height="10.3" fill="#92c0dd" />
<rect x="175.12" y="320.5" width="10.19" height="10.3" fill="#fefcbc" />
<rect x="185.31" y="320.5" width="10.19" height="10.3" fill="#ea5f3c" />
<rect x="73.2" y="330.8" width="10.19" height="10.3" fill="#d73027" />
<rect x="83.39" y="330.8" width="10.19" height="10.3" fill="#74a9cf" />
<rect x="93.58" y="330.8" width="10.19" height="10.3" fill="#fdae61" />
<rect x="103.78" y="330.8" width="10.19" height="10.3" fill="#fc8d59" />
<rect x="113.97" y="330.8" width="10.19" height="10.3" fill="#fee090" />
<rect x="124.16" y="330.8" width="10.19" height="10.3" fill="#e0f3f8" />
<rect x="134.35" y="330.8" width="10.19" height="10.3" fill="#6399c9" />
<rect x="144.54" y="330.8" width="10.19" height="10.3" fill="#dc3b2c" />
<rect x="154.73" y="330.8" width="10.19" height="10.3" fill="#d7302a" />
<rect x="164.93" y="330.8" width="10.19" height="10.3" fill="#d7302a" />
<rect x="175.12" y="330.8" width="10.19" height="10.3" fill="#e44d34" />
<rect x="185.31" y="330.8" width="10.19" height="10.3" fill="#feeea0" />
<line x1="73.2" y1="320.5" x2="195.5" y2="320.5" stroke="#3a3a3a" stroke-width="0.35"/>
<line x1="73.2" y1="330.8" x2="195.5" y2="330.8" stroke="#3a3a3a" stroke-width="0.35"/>
<line x1="83.39" y1="310.2" x2="83.39" y2="341.1" stroke="#3a3a3a" stroke-width="0.35"/>
<line x1="93.58" y1="310.2" x2="93.58" y2="341.1" stroke="#3a3a3a" stroke-width="0.35"/>
<line x1="103.78" y1="310.2" x2="103.78" y2="341.1" stroke="#3a3a3a" stroke-width="0.35"/>
<line x1="113.97" y1="310.2" x2="113.97" y2="341.1" stroke="#3a3a3a" stroke-width="0.35"/>
<line x1="124.16" y1="310.2" x2="124.16" y2="341.1" stroke="#3a3a3a" stroke-width="0.35"/>
<line x1="134.35" y1="310.2" x2="134.35" y2="341.1" stroke="#3a3a3a" stroke-width="0.35"/>
<line x1="144.54" y1="310.2" x2="144.54" y2="341.1" stroke="#3a3a3a" stroke-width="0.35"/>
<line x1="154.73" y1="310.2" x2="154.73" y2="341.1" stroke="#3a3a3a" stroke-width="0.35"/>
<line x1="164.93" y1="310.2" x2="164.93" y2="341.1" stroke="#3a3a3a" stroke-width="0.35"/>
<line x1="175.12" y1="310.2" x2="175.12" y2="341.1" stroke="#3a3a3a" stroke-width="0.35"/>
<line x1="185.31" y1="310.2" x2="185.31" y2="341.1" stroke="#3a3a3a" stroke-width="0.35"/>
<rect x="73.2" y="310.2" width="122.3" height="30.9" fill="none" stroke="#555" stroke-width="0.5" />
<text x="79.84" y="342.8" font-size="4.3" text-anchor="end" fill="#222" transform="rotate(-90 79.84 342.8)" stroke="#222" stroke-width="0.15" stroke-opacity="0.55">CD5</text>
<text x="90.04" y="342.8" font-size="4.3" text-anchor="end" fill="#222" transform="rotate(-90 90.04 342.8)" stroke="#222" stroke-width="0.15" stroke-opacity="0.55">Ki-67</text>
<text x="100.23" y="342.8" font-size="4.3" text-anchor="end" fill="#222" transform="rotate(-90 100.23 342.8)" stroke="#222" stroke-width="0.15" stroke-opacity="0.55">PD-1</text>
<text x="110.42" y="342.8" font-size="4.3" text-anchor="end" fill="#222" transform="rotate(-90 110.42 342.8)" stroke="#222" stroke-width="0.15" stroke-opacity="0.55">CD25</text>
<text x="120.61" y="342.8" font-size="4.3" text-anchor="end" fill="#222" transform="rotate(-90 120.61 342.8)" stroke="#222" stroke-width="0.15" stroke-opacity="0.55">TIM-3</text>
<text x="130.8" y="342.8" font-size="4.3" text-anchor="end" fill="#222" transform="rotate(-90 130.8 342.8)" stroke="#222" stroke-width="0.15" stroke-opacity="0.55">CD66</text>
<text x="140.99" y="342.8" font-size="4.3" text-anchor="end" fill="#222" transform="rotate(-90 140.99 342.8)" stroke="#222" stroke-width="0.15" stroke-opacity="0.55">CD16</text>
<text x="151.19" y="342.8" font-size="4.3" text-anchor="end" fill="#222" transform="rotate(-90 151.19 342.8)" stroke="#222" stroke-width="0.15" stroke-opacity="0.55">LILRB1</text>
<text x="161.38" y="342.8" font-size="4.3" text-anchor="end" fill="#222" transform="rotate(-90 161.38 342.8)" stroke="#222" stroke-width="0.15" stroke-opacity="0.55">FOXP3</text>
<text x="171.57" y="342.8" font-size="4.3" text-anchor="end" fill="#222" transform="rotate(-90 171.57 342.8)" stroke="#222" stroke-width="0.15" stroke-opacity="0.55">CTLA-4</text>
<text x="181.76" y="342.8" font-size="4.3" text-anchor="end" fill="#222" transform="rotate(-90 181.76 342.8)" stroke="#222" stroke-width="0.15" stroke-opacity="0.55">LAG-3</text>
<text x="191.95" y="342.8" font-size="4.3" text-anchor="end" fill="#222" transform="rotate(-90 191.95 342.8)" stroke="#222" stroke-width="0.15" stroke-opacity="0.55">TIGIT</text>
<text x="201.5" y="315.35" font-size="3.8" text-anchor="middle" fill="#222" transform="rotate(-90 201.5 315.35)" stroke="#222" stroke-width="0.13" stroke-opacity="0.55">12</text>
<text x="201.5" y="325.65" font-size="3.8" text-anchor="middle" fill="#222" transform="rotate(-90 201.5 325.65)" stroke="#222" stroke-width="0.13" stroke-opacity="0.55">13</text>
<text x="201.5" y="335.95" font-size="3.8" text-anchor="middle" fill="#222" transform="rotate(-90 201.5 335.95)" stroke="#222" stroke-width="0.13" stroke-opacity="0.55">14</text>
<rect x="207.4" y="310.9" width="3" height="40.1" fill="url(#g24)" />
<text x="212" y="314.8" font-size="3.6" fill="#333" stroke="#333" stroke-width="0.13" stroke-opacity="0.55">1</text>
<text x="212" y="322.8" font-size="3.6" fill="#333" stroke="#333" stroke-width="0.13" stroke-opacity="0.55">0.5</text>
<text x="212" y="331.8" font-size="3.6" fill="#333" stroke="#333" stroke-width="0.13" stroke-opacity="0.55">0</text>
<text x="212" y="341.8" font-size="3.6" fill="#333" stroke="#333" stroke-width="0.13" stroke-opacity="0.55">-0.5</text>
<text x="212" y="350.3" font-size="3.6" fill="#333" stroke="#333" stroke-width="0.13" stroke-opacity="0.55">-1</text>
<text x="206.4" y="330.95" font-size="3.7" text-anchor="middle" fill="#333" transform="rotate(-90 206.4 330.95)" stroke="#333" stroke-width="0.13" stroke-opacity="0.55">Column Z-score</text>
<rect x="77.5" y="364.2" width="38" height="37.2" fill="#fff" />
<line x1="77.5" y1="381.6" x2="115.5" y2="381.6" stroke="#ebebeb" stroke-width="0.35"/>
<line x1="77.5" y1="394.05" x2="115.5" y2="394.05" stroke="#ebebeb" stroke-width="0.35"/>
<line x1="77.5" y1="375.4" x2="115.5" y2="375.4" stroke="#ebebeb" stroke-width="0.6"/>
<line x1="77.5" y1="387.8" x2="115.5" y2="387.8" stroke="#ebebeb" stroke-width="0.6"/>
<line x1="77.5" y1="400.3" x2="115.5" y2="400.3" stroke="#ebebeb" stroke-width="0.6"/>
<line x1="87.7" y1="364.2" x2="87.7" y2="401.4" stroke="#ebebeb" stroke-width="0.6"/>
<line x1="105.3" y1="364.2" x2="105.3" y2="401.4" stroke="#ebebeb" stroke-width="0.6"/>
<rect x="77.5" y="364.2" width="38" height="37.2" fill="none" stroke="#666" stroke-width="0.6" />
<line x1="76.2" y1="375.4" x2="77.5" y2="375.4" stroke="#333" stroke-width="0.4"/>
<text x="75.7" y="376.59" font-size="3.3" text-anchor="end" fill="#333" stroke="#333" stroke-width="0.12" stroke-opacity="0.55">2</text>
<line x1="76.2" y1="387.8" x2="77.5" y2="387.8" stroke="#333" stroke-width="0.4"/>
<text x="75.7" y="388.99" font-size="3.3" text-anchor="end" fill="#333" stroke="#333" stroke-width="0.12" stroke-opacity="0.55">1</text>
<line x1="76.2" y1="400.3" x2="77.5" y2="400.3" stroke="#333" stroke-width="0.4"/>
<text x="75.7" y="401.49" font-size="3.3" text-anchor="end" fill="#333" stroke="#333" stroke-width="0.12" stroke-opacity="0.55">0</text>
<text x="72.2" y="382.8" font-size="4.4" text-anchor="middle" fill="#222" transform="rotate(-90 72.2 382.8)" stroke="#222" stroke-width="0.15" stroke-opacity="0.55">Cluster 12 (%)</text>
<line x1="87.7" y1="401.4" x2="87.7" y2="402.4" stroke="#333" stroke-width="0.4"/>
<text x="87.7" y="405.6" font-size="3.6" text-anchor="middle" fill="#333" stroke="#333" stroke-width="0.13" stroke-opacity="0.55">non-SD</text>
<line x1="105.3" y1="401.4" x2="105.3" y2="402.4" stroke="#333" stroke-width="0.4"/>
<text x="105.3" y="405.6" font-size="3.6" text-anchor="middle" fill="#333" stroke="#333" stroke-width="0.13" stroke-opacity="0.55">SD</text>
<path d="M82.5 399.5 Q82.5 398.35 84.5 398.35 L92.9 399 L92.9 400 Q84.5 400.65 82.5 399.5 Z" fill="#1f48a6" />
<circle cx="103.3" cy="386.64" r="1.2" fill="#f7a6a6" fill-opacity="0.6"/>
<circle cx="106.8" cy="390.56" r="1.2" fill="#f7a6a6" fill-opacity="0.6"/>
<circle cx="104.3" cy="394.49" r="1.2" fill="#f7a6a6" fill-opacity="0.6"/>
<circle cx="107.8" cy="397.63" r="1.2" fill="#f7a6a6" fill-opacity="0.6"/>
<circle cx="105.3" cy="399.2" r="1.2" fill="#f7a6a6" fill-opacity="0.6"/>
<rect x="99.8" y="383.5" width="11" height="12.8" fill="none" stroke="#f01e1e" stroke-width="0.95" />
<line x1="99.8" y1="390" x2="110.8" y2="390" stroke="#f01e1e" stroke-width="1.33"/>
<line x1="105.3" y1="366" x2="105.3" y2="383.5" stroke="#f01e1e" stroke-width="0.95"/>
<line x1="105.3" y1="396.3" x2="105.3" y2="399.2" stroke="#f01e1e" stroke-width="0.95"/>
<line x1="99.8" y1="366" x2="110.8" y2="366" stroke="#f01e1e" stroke-width="0.95"/>
<line x1="99.8" y1="399.2" x2="110.8" y2="399.2" stroke="#f01e1e" stroke-width="0.95"/>
<text x="95.5" y="378.1" font-size="8" font-weight="bold" text-anchor="middle" fill="#111">*</text>
<rect x="127.4" y="364.2" width="36.4" height="37.2" fill="#fff" />
<line x1="127.4" y1="370.7" x2="163.8" y2="370.7" stroke="#ebebeb" stroke-width="0.35"/>
<line x1="127.4" y1="382.4" x2="163.8" y2="382.4" stroke="#ebebeb" stroke-width="0.35"/>
<line x1="127.4" y1="394.4" x2="163.8" y2="394.4" stroke="#ebebeb" stroke-width="0.35"/>
<line x1="127.4" y1="364.9" x2="163.8" y2="364.9" stroke="#ebebeb" stroke-width="0.6"/>
<line x1="127.4" y1="376.5" x2="163.8" y2="376.5" stroke="#ebebeb" stroke-width="0.6"/>
<line x1="127.4" y1="388.3" x2="163.8" y2="388.3" stroke="#ebebeb" stroke-width="0.6"/>
<line x1="127.4" y1="400.5" x2="163.8" y2="400.5" stroke="#ebebeb" stroke-width="0.6"/>
<line x1="137.5" y1="364.2" x2="137.5" y2="401.4" stroke="#ebebeb" stroke-width="0.6"/>
<line x1="153.9" y1="364.2" x2="153.9" y2="401.4" stroke="#ebebeb" stroke-width="0.6"/>
<rect x="127.4" y="364.2" width="36.4" height="37.2" fill="none" stroke="#666" stroke-width="0.6" />
<line x1="126.1" y1="364.9" x2="127.4" y2="364.9" stroke="#333" stroke-width="0.4"/>
<text x="125.6" y="366.09" font-size="3.3" text-anchor="end" fill="#333" stroke="#333" stroke-width="0.12" stroke-opacity="0.55">15</text>
<line x1="126.1" y1="376.5" x2="127.4" y2="376.5" stroke="#333" stroke-width="0.4"/>
<text x="125.6" y="377.69" font-size="3.3" text-anchor="end" fill="#333" stroke="#333" stroke-width="0.12" stroke-opacity="0.55">10</text>
<line x1="126.1" y1="388.3" x2="127.4" y2="388.3" stroke="#333" stroke-width="0.4"/>
<text x="125.6" y="389.49" font-size="3.3" text-anchor="end" fill="#333" stroke="#333" stroke-width="0.12" stroke-opacity="0.55">5</text>
<line x1="126.1" y1="400.5" x2="127.4" y2="400.5" stroke="#333" stroke-width="0.4"/>
<text x="125.6" y="401.69" font-size="3.3" text-anchor="end" fill="#333" stroke="#333" stroke-width="0.12" stroke-opacity="0.55">0</text>
<text x="121.3" y="382.8" font-size="4.4" text-anchor="middle" fill="#222" transform="rotate(-90 121.3 382.8)" stroke="#222" stroke-width="0.15" stroke-opacity="0.55">Cluster 13 (%)</text>
<line x1="137.5" y1="401.4" x2="137.5" y2="402.4" stroke="#333" stroke-width="0.4"/>
<text x="137.5" y="405.6" font-size="3.6" text-anchor="middle" fill="#333" stroke="#333" stroke-width="0.13" stroke-opacity="0.55">non-SD</text>
<line x1="153.9" y1="401.4" x2="153.9" y2="402.4" stroke="#333" stroke-width="0.4"/>
<text x="153.9" y="405.6" font-size="3.6" text-anchor="middle" fill="#333" stroke="#333" stroke-width="0.13" stroke-opacity="0.55">SD</text>
<path d="M132.3 399.6 Q132.3 398.45 134.3 398.45 L142.7 399.1 L142.7 400.1 Q134.3 400.75 132.3 399.6 Z" fill="#1f48a6" />
<circle cx="151.9" cy="380.56" r="1.2" fill="#f7a6a6" fill-opacity="0.6"/>
<circle cx="155.4" cy="386.01" r="1.2" fill="#f7a6a6" fill-opacity="0.6"/>
<circle cx="152.9" cy="391.46" r="1.2" fill="#f7a6a6" fill-opacity="0.6"/>
<circle cx="156.4" cy="395.82" r="1.2" fill="#f7a6a6" fill-opacity="0.6"/>
<circle cx="153.9" cy="398" r="1.2" fill="#f7a6a6" fill-opacity="0.6"/>
<rect x="148.8" y="376.2" width="10.2" height="18.2" fill="none" stroke="#f01e1e" stroke-width="0.95" />
<line x1="148.8" y1="387.1" x2="159" y2="387.1" stroke="#f01e1e" stroke-width="1.33"/>
<line x1="153.9" y1="366" x2="153.9" y2="376.2" stroke="#f01e1e" stroke-width="0.95"/>
<line x1="153.9" y1="394.4" x2="153.9" y2="398" stroke="#f01e1e" stroke-width="0.95"/>
<line x1="148.8" y1="366" x2="159" y2="366" stroke="#f01e1e" stroke-width="0.95"/>
<line x1="148.8" y1="398" x2="159" y2="398" stroke="#f01e1e" stroke-width="0.95"/>
<text x="145.1" y="378.3" font-size="8" font-weight="bold" text-anchor="middle" fill="#111">*</text>
<rect x="174.6" y="364.2" width="38.1" height="37.2" fill="#fff" />
<line x1="174.6" y1="379.8" x2="212.7" y2="379.8" stroke="#ebebeb" stroke-width="0.35"/>
<line x1="174.6" y1="393.35" x2="212.7" y2="393.35" stroke="#ebebeb" stroke-width="0.35"/>
<line x1="174.6" y1="373.2" x2="212.7" y2="373.2" stroke="#ebebeb" stroke-width="0.6"/>
<line x1="174.6" y1="386.4" x2="212.7" y2="386.4" stroke="#ebebeb" stroke-width="0.6"/>
<line x1="174.6" y1="400.3" x2="212.7" y2="400.3" stroke="#ebebeb" stroke-width="0.6"/>
<line x1="185.3" y1="364.2" x2="185.3" y2="401.4" stroke="#ebebeb" stroke-width="0.6"/>
<line x1="202.5" y1="364.2" x2="202.5" y2="401.4" stroke="#ebebeb" stroke-width="0.6"/>
<rect x="174.6" y="364.2" width="38.1" height="37.2" fill="none" stroke="#666" stroke-width="0.6" />
<line x1="173.3" y1="373.2" x2="174.6" y2="373.2" stroke="#333" stroke-width="0.4"/>
<text x="172.8" y="374.39" font-size="3.3" text-anchor="end" fill="#333" stroke="#333" stroke-width="0.12" stroke-opacity="0.55">2</text>
<line x1="173.3" y1="386.4" x2="174.6" y2="386.4" stroke="#333" stroke-width="0.4"/>
<text x="172.8" y="387.59" font-size="3.3" text-anchor="end" fill="#333" stroke="#333" stroke-width="0.12" stroke-opacity="0.55">1</text>
<line x1="173.3" y1="400.3" x2="174.6" y2="400.3" stroke="#333" stroke-width="0.4"/>
<text x="172.8" y="401.49" font-size="3.3" text-anchor="end" fill="#333" stroke="#333" stroke-width="0.12" stroke-opacity="0.55">0</text>
<text x="170" y="382.8" font-size="4.4" text-anchor="middle" fill="#222" transform="rotate(-90 170 382.8)" stroke="#222" stroke-width="0.15" stroke-opacity="0.55">Cluster 14 (%)</text>
<line x1="185.3" y1="401.4" x2="185.3" y2="402.4" stroke="#333" stroke-width="0.4"/>
<text x="185.3" y="405.6" font-size="3.6" text-anchor="middle" fill="#333" stroke="#333" stroke-width="0.13" stroke-opacity="0.55">non-SD</text>
<line x1="202.5" y1="401.4" x2="202.5" y2="402.4" stroke="#333" stroke-width="0.4"/>
<text x="202.5" y="405.6" font-size="3.6" text-anchor="middle" fill="#333" stroke="#333" stroke-width="0.13" stroke-opacity="0.55">SD</text>
<path d="M180.1 399.8 Q180.1 398.65 182.1 398.65 L190.5 399.3 L190.5 400.3 Q182.1 400.95 180.1 399.8 Z" fill="#1f48a6" />
<circle cx="200.5" cy="387.26" r="1.2" fill="#f7a6a6" fill-opacity="0.6"/>
<circle cx="204" cy="391.08" r="1.2" fill="#f7a6a6" fill-opacity="0.6"/>
<circle cx="201.5" cy="394.91" r="1.2" fill="#f7a6a6" fill-opacity="0.6"/>
<circle cx="205" cy="397.97" r="1.2" fill="#f7a6a6" fill-opacity="0.6"/>
<circle cx="202.5" cy="399.5" r="1.2" fill="#f7a6a6" fill-opacity="0.6"/>
<rect x="197.4" y="384.2" width="10.2" height="12" fill="none" stroke="#f01e1e" stroke-width="0.95" />
<line x1="197.4" y1="395" x2="207.6" y2="395" stroke="#f01e1e" stroke-width="1.33"/>
<line x1="202.5" y1="366" x2="202.5" y2="384.2" stroke="#f01e1e" stroke-width="0.95"/>
<line x1="202.5" y1="396.2" x2="202.5" y2="399.5" stroke="#f01e1e" stroke-width="0.95"/>
<line x1="197.4" y1="366" x2="207.6" y2="366" stroke="#f01e1e" stroke-width="0.95"/>
<line x1="197.4" y1="399.5" x2="207.6" y2="399.5" stroke="#f01e1e" stroke-width="0.95"/>
<text x="193.3" y="380.5" font-size="8" font-weight="bold" text-anchor="middle" fill="#111">*</text>
<rect x="12.2" y="423.4" width="37.2" height="41.3" fill="#fff" stroke="#9a9a9a" stroke-width="0.6" />
<path d="M29.9 428.4C31.1 427.35 34.52 426.87 36.5 427.3C38.48 427.73 40.37 429.28 41.8 431C43.23 432.72 44.45 435.4 45.1 437.6C45.75 439.8 45.93 441.8 45.7 444.2C45.47 446.6 44.57 449.82 43.7 452C42.83 454.18 41.48 455.77 40.5 457.3C39.52 458.83 39.33 460.5 37.8 461.2C36.27 461.9 33.48 461.6 31.3 461.5C29.12 461.4 25.85 461.3 24.7 460.6C23.55 459.9 24.18 458.5 24.4 457.3C24.62 456.1 25.4 455.15 26 453.4C26.6 451.65 27.57 449 28 446.8C28.43 444.6 28.38 442.4 28.6 440.2C28.82 438 29.08 435.57 29.3 433.6C29.52 431.63 28.7 429.45 29.9 428.4Z" fill="url(#g25)" />
<g clip-path="url(#c27)"><g filter="url(#bl)"><ellipse cx="27.2" cy="458.4" rx="4" ry="4" fill="#ff6a00" fill-opacity="1"/><ellipse cx="36.2" cy="437.4" rx="3" ry="6" fill="#2aa860" fill-opacity="0.8"/></g></g>
<path d="M14.2 448.1C14.1 446 14.63 443.47 15.5 441.5C16.37 439.53 18.08 437.38 19.4 436.3C20.72 435.22 22.18 434.78 23.4 435C24.62 435.22 25.83 436.52 26.7 437.6C27.57 438.68 28.38 439.75 28.6 441.5C28.82 443.25 28.43 446.12 28 448.1C27.57 450.08 26.77 452.3 26 453.4C25.23 454.5 24.5 454.37 23.4 454.7C22.3 455.03 20.62 455.5 19.4 455.4C18.18 455.3 16.97 455.32 16.1 454.1C15.23 452.88 14.3 450.2 14.2 448.1Z" fill="url(#g26)" />
<ellipse cx="21.6" cy="444.8" rx="7.6" ry="11.8" fill="none" stroke="#222" stroke-width="0.45" stroke-dasharray="1.1 0.6" transform="rotate(-12 21.6 444.8)"/>
<text x="13.6" y="428.4" font-size="4.8" font-weight="bold" fill="#111">PD-1</text>
<rect x="51" y="423.4" width="37.4" height="41.3" fill="#fff" stroke="#9a9a9a" stroke-width="0.6" />
<path d="M68.7 428.4C69.9 427.35 73.32 426.87 75.3 427.3C77.28 427.73 79.17 429.28 80.6 431C82.03 432.72 83.25 435.4 83.9 437.6C84.55 439.8 84.73 441.8 84.5 444.2C84.27 446.6 83.37 449.82 82.5 452C81.63 454.18 80.28 455.77 79.3 457.3C78.32 458.83 78.13 460.5 76.6 461.2C75.07 461.9 72.28 461.6 70.1 461.5C67.92 461.4 64.65 461.3 63.5 460.6C62.35 459.9 62.98 458.5 63.2 457.3C63.42 456.1 64.2 455.15 64.8 453.4C65.4 451.65 66.37 449 66.8 446.8C67.23 444.6 67.18 442.4 67.4 440.2C67.62 438 67.88 435.57 68.1 433.6C68.32 431.63 67.5 429.45 68.7 428.4Z" fill="url(#g29)" />
<g clip-path="url(#c31)"><g filter="url(#bl)"><ellipse cx="82" cy="433.4" rx="2.5" ry="6" fill="#2050c0" fill-opacity="0.9"/></g></g>
<path d="M53 448.1C52.9 446 53.43 443.47 54.3 441.5C55.17 439.53 56.88 437.38 58.2 436.3C59.52 435.22 60.98 434.78 62.2 435C63.42 435.22 64.63 436.52 65.5 437.6C66.37 438.68 67.18 439.75 67.4 441.5C67.62 443.25 67.23 446.12 66.8 448.1C66.37 450.08 65.57 452.3 64.8 453.4C64.03 454.5 63.3 454.37 62.2 454.7C61.1 455.03 59.42 455.5 58.2 455.4C56.98 455.3 55.77 455.32 54.9 454.1C54.03 452.88 53.1 450.2 53 448.1Z" fill="url(#g30)" />
<ellipse cx="60.4" cy="444.8" rx="7.6" ry="11.8" fill="none" stroke="#222" stroke-width="0.45" stroke-dasharray="1.1 0.6" transform="rotate(-12 60.4 444.8)"/>
<text x="52.4" y="428.4" font-size="4.8" font-weight="bold" fill="#111">TIM-3</text>
<rect x="90.1" y="423.4" width="36.8" height="41.3" fill="#fff" stroke="#9a9a9a" stroke-width="0.6" />
<path d="M107.8 428.4C109 427.35 112.42 426.87 114.4 427.3C116.38 427.73 118.27 429.28 119.7 431C121.13 432.72 122.35 435.4 123 437.6C123.65 439.8 123.83 441.8 123.6 444.2C123.37 446.6 122.47 449.82 121.6 452C120.73 454.18 119.38 455.77 118.4 457.3C117.42 458.83 117.23 460.5 115.7 461.2C114.17 461.9 111.38 461.6 109.2 461.5C107.02 461.4 103.75 461.3 102.6 460.6C101.45 459.9 102.08 458.5 102.3 457.3C102.52 456.1 103.3 455.15 103.9 453.4C104.5 451.65 105.47 449 105.9 446.8C106.33 444.6 106.28 442.4 106.5 440.2C106.72 438 106.98 435.57 107.2 433.6C107.42 431.63 106.6 429.45 107.8 428.4Z" fill="url(#g33)" />
<path d="M92.1 448.1C92 446 92.53 443.47 93.4 441.5C94.27 439.53 95.98 437.38 97.3 436.3C98.62 435.22 100.08 434.78 101.3 435C102.52 435.22 103.73 436.52 104.6 437.6C105.47 438.68 106.28 439.75 106.5 441.5C106.72 443.25 106.33 446.12 105.9 448.1C105.47 450.08 104.67 452.3 103.9 453.4C103.13 454.5 102.4 454.37 101.3 454.7C100.2 455.03 98.52 455.5 97.3 455.4C96.08 455.3 94.87 455.32 94 454.1C93.13 452.88 92.2 450.2 92.1 448.1Z" fill="url(#g34)" />
<ellipse cx="99.5" cy="444.8" rx="7.6" ry="11.8" fill="none" stroke="#222" stroke-width="0.45" stroke-dasharray="1.1 0.6" transform="rotate(-12 99.5 444.8)"/>
<text x="91.5" y="428.4" font-size="4.8" font-weight="bold" fill="#111">LAG-3</text>
<rect x="128.9" y="423.4" width="36.8" height="41.3" fill="#fff" stroke="#9a9a9a" stroke-width="0.6" />
<path d="M146.6 428.4C147.8 427.35 151.22 426.87 153.2 427.3C155.18 427.73 157.07 429.28 158.5 431C159.93 432.72 161.15 435.4 161.8 437.6C162.45 439.8 162.63 441.8 162.4 444.2C162.17 446.6 161.27 449.82 160.4 452C159.53 454.18 158.18 455.77 157.2 457.3C156.22 458.83 156.03 460.5 154.5 461.2C152.97 461.9 150.18 461.6 148 461.5C145.82 461.4 142.55 461.3 141.4 460.6C140.25 459.9 140.88 458.5 141.1 457.3C141.32 456.1 142.1 455.15 142.7 453.4C143.3 451.65 144.27 449 144.7 446.8C145.13 444.6 145.08 442.4 145.3 440.2C145.52 438 145.78 435.57 146 433.6C146.22 431.63 145.4 429.45 146.6 428.4Z" fill="url(#g37)" />
<path d="M130.9 448.1C130.8 446 131.33 443.47 132.2 441.5C133.07 439.53 134.78 437.38 136.1 436.3C137.42 435.22 138.88 434.78 140.1 435C141.32 435.22 142.53 436.52 143.4 437.6C144.27 438.68 145.08 439.75 145.3 441.5C145.52 443.25 145.13 446.12 144.7 448.1C144.27 450.08 143.47 452.3 142.7 453.4C141.93 454.5 141.2 454.37 140.1 454.7C139 455.03 137.32 455.5 136.1 455.4C134.88 455.3 133.67 455.32 132.8 454.1C131.93 452.88 131 450.2 130.9 448.1Z" fill="url(#g38)" />
<ellipse cx="138.3" cy="444.8" rx="7.6" ry="11.8" fill="none" stroke="#222" stroke-width="0.45" stroke-dasharray="1.1 0.6" transform="rotate(-12 138.3 444.8)"/>
<text x="130.3" y="428.4" font-size="4.8" font-weight="bold" fill="#111">TIGIT</text>
<rect x="167.8" y="423.4" width="36.8" height="41.3" fill="#fff" stroke="#9a9a9a" stroke-width="0.6" />
<path d="M185.5 428.4C186.7 427.35 190.12 426.87 192.1 427.3C194.08 427.73 195.97 429.28 197.4 431C198.83 432.72 200.05 435.4 200.7 437.6C201.35 439.8 201.53 441.8 201.3 444.2C201.07 446.6 200.17 449.82 199.3 452C198.43 454.18 197.08 455.77 196.1 457.3C195.12 458.83 194.93 460.5 193.4 461.2C191.87 461.9 189.08 461.6 186.9 461.5C184.72 461.4 181.45 461.3 180.3 460.6C179.15 459.9 179.78 458.5 180 457.3C180.22 456.1 181 455.15 181.6 453.4C182.2 451.65 183.17 449 183.6 446.8C184.03 444.6 183.98 442.4 184.2 440.2C184.42 438 184.68 435.57 184.9 433.6C185.12 431.63 184.3 429.45 185.5 428.4Z" fill="url(#g41)" />
<g clip-path="url(#c43)"><g filter="url(#bl)"><ellipse cx="191.8" cy="435.4" rx="2" ry="8" fill="#2a70b0" fill-opacity="0.8"/><ellipse cx="196.8" cy="443.4" rx="1.5" ry="8" fill="#2a70b0" fill-opacity="0.7"/></g></g>
<path d="M169.8 448.1C169.7 446 170.23 443.47 171.1 441.5C171.97 439.53 173.68 437.38 175 436.3C176.32 435.22 177.78 434.78 179 435C180.22 435.22 181.43 436.52 182.3 437.6C183.17 438.68 183.98 439.75 184.2 441.5C184.42 443.25 184.03 446.12 183.6 448.1C183.17 450.08 182.37 452.3 181.6 453.4C180.83 454.5 180.1 454.37 179 454.7C177.9 455.03 176.22 455.5 175 455.4C173.78 455.3 172.57 455.32 171.7 454.1C170.83 452.88 169.9 450.2 169.8 448.1Z" fill="url(#g42)" />
<ellipse cx="177.2" cy="444.8" rx="7.6" ry="11.8" fill="none" stroke="#222" stroke-width="0.45" stroke-dasharray="1.1 0.6" transform="rotate(-12 177.2 444.8)"/>
<text x="169.2" y="428.4" font-size="4.8" font-weight="bold" fill="#111">CTLA-4</text>
<rect x="209.7" y="424.2" width="2.4" height="38.8" fill="url(#g45)" />
<text x="207.8" y="444" font-size="2.4" text-anchor="middle" fill="#444" transform="rotate(-90 207.8 444)" stroke="#444" stroke-width="0.08" stroke-opacity="0.55">Expression levels</text>
<text x="228.6" y="171" font-size="12.5" font-weight="bold">h</text>
<text x="239.4" y="207.2" font-size="7.6" text-anchor="middle" fill="#111" transform="rotate(-90 239.4 207.2)" stroke="#111" stroke-width="0.22" stroke-opacity="0.55">CD4<tspan baseline-shift="2.74" font-size="4.71">+</tspan>PD-1<tspan baseline-shift="2.74" font-size="4.71">+</tspan> cells</text>
<text x="237.2" y="277" font-size="7.6" text-anchor="middle" fill="#111" transform="rotate(-90 237.2 277)" stroke="#111" stroke-width="0.22" stroke-opacity="0.55">CD8<tspan baseline-shift="2.74" font-size="4.71">+</tspan>PD-1<tspan baseline-shift="2.74" font-size="4.71">+</tspan> cells</text>
<rect x="253.3" y="184.3" width="46.2" height="50.5" fill="#fff" />
<line x1="253.3" y1="191.75" x2="299.5" y2="191.75" stroke="#ebebeb" stroke-width="0.35"/>
<line x1="253.3" y1="203.55" x2="299.5" y2="203.55" stroke="#ebebeb" stroke-width="0.35"/>
<line x1="253.3" y1="215.3" x2="299.5" y2="215.3" stroke="#ebebeb" stroke-width="0.35"/>
<line x1="253.3" y1="226.9" x2="299.5" y2="226.9" stroke="#ebebeb" stroke-width="0.35"/>
<line x1="253.3" y1="185.9" x2="299.5" y2="185.9" stroke="#ebebeb" stroke-width="0.6"/>
<line x1="253.3" y1="197.6" x2="299.5" y2="197.6" stroke="#ebebeb" stroke-width="0.6"/>
<line x1="253.3" y1="209.5" x2="299.5" y2="209.5" stroke="#ebebeb" stroke-width="0.6"/>
<line x1="253.3" y1="221.1" x2="299.5" y2="221.1" stroke="#ebebeb" stroke-width="0.6"/>
<line x1="253.3" y1="232.7" x2="299.5" y2="232.7" stroke="#ebebeb" stroke-width="0.6"/>
<line x1="266" y1="184.3" x2="266" y2="234.8" stroke="#ebebeb" stroke-width="0.6"/>
<line x1="287.8" y1="184.3" x2="287.8" y2="234.8" stroke="#ebebeb" stroke-width="0.6"/>
<rect x="253.3" y="184.3" width="46.2" height="50.5" fill="none" stroke="#555" stroke-width="0.6" />
<line x1="252" y1="185.9" x2="253.3" y2="185.9" stroke="#333" stroke-width="0.4"/>
<text x="251.3" y="187.27" font-size="3.8" text-anchor="end" fill="#333" stroke="#333" stroke-width="0.13" stroke-opacity="0.55">7000</text>
<line x1="252" y1="197.6" x2="253.3" y2="197.6" stroke="#333" stroke-width="0.4"/>
<text x="251.3" y="198.97" font-size="3.8" text-anchor="end" fill="#333" stroke="#333" stroke-width="0.13" stroke-opacity="0.55">6000</text>
<line x1="252" y1="209.5" x2="253.3" y2="209.5" stroke="#333" stroke-width="0.4"/>
<text x="251.3" y="210.87" font-size="3.8" text-anchor="end" fill="#333" stroke="#333" stroke-width="0.13" stroke-opacity="0.55">5000</text>
<line x1="252" y1="221.1" x2="253.3" y2="221.1" stroke="#333" stroke-width="0.4"/>
<text x="251.3" y="222.47" font-size="3.8" text-anchor="end" fill="#333" stroke="#333" stroke-width="0.13" stroke-opacity="0.55">4000</text>
<line x1="252" y1="232.7" x2="253.3" y2="232.7" stroke="#333" stroke-width="0.4"/>
<text x="251.3" y="234.07" font-size="3.8" text-anchor="end" fill="#333" stroke="#333" stroke-width="0.13" stroke-opacity="0.55">3000</text>
<rect x="260.1" y="208.6" width="11.8" height="12.5" fill="none" stroke="#9a9a9a" stroke-width="0.7" />
<line x1="260.1" y1="211.4" x2="271.9" y2="211.4" stroke="#222" stroke-width="0.9"/>
<line x1="266" y1="204.9" x2="266" y2="232.3" stroke="#222" stroke-width="0.9"/>
<line x1="260.1" y1="204.9" x2="271.9" y2="204.9" stroke="#222" stroke-width="0.9"/>
<line x1="260.1" y1="232.3" x2="271.9" y2="232.3" stroke="#222" stroke-width="0.9"/>
<rect x="282.35" y="217.8" width="10.9" height="5.8" fill="none" stroke="#9a9a9a" stroke-width="0.7" />
<line x1="282.35" y1="223" x2="293.25" y2="223" stroke="#222" stroke-width="0.9"/>
<line x1="287.8" y1="217.8" x2="287.8" y2="223.6" stroke="#222" stroke-width="0.9"/>
<line x1="282.35" y1="217.8" x2="293.25" y2="217.8" stroke="#222" stroke-width="0.9"/>
<line x1="282.35" y1="223.6" x2="293.25" y2="223.6" stroke="#222" stroke-width="0.9"/>
<circle cx="263.5" cy="204.7" r="1.75" fill="#5fc0a0" fill-opacity="0.9"/>
<circle cx="259.6" cy="208.6" r="1.75" fill="#5fc0a0" fill-opacity="0.9"/>
<circle cx="261.5" cy="221.4" r="1.75" fill="#5fc0a0" fill-opacity="0.9"/>
<circle cx="263.5" cy="222.3" r="1.75" fill="#5fc0a0" fill-opacity="0.9"/>
<circle cx="262.7" cy="232.3" r="1.75" fill="#5fc0a0" fill-opacity="0.9"/>
<circle cx="284.9" cy="223.6" r="1.75" fill="#5fc0a0" fill-opacity="0.9"/>
<circle cx="268.8" cy="186.8" r="1.75" fill="#f08c48" fill-opacity="0.9"/>
<circle cx="270.2" cy="208.2" r="1.75" fill="#f08c48" fill-opacity="0.9"/>
<circle cx="271" cy="211.9" r="1.75" fill="#f08c48" fill-opacity="0.9"/>
<circle cx="269.9" cy="218.3" r="1.75" fill="#f08c48" fill-opacity="0.9"/>
<circle cx="291.6" cy="204" r="1.75" fill="#f08c48" fill-opacity="0.9"/>
<circle cx="290.3" cy="222.3" r="1.75" fill="#f08c48" fill-opacity="0.9"/>
<circle cx="292.8" cy="224.1" r="1.75" fill="#f08c48" fill-opacity="0.9"/>
<text x="270.9" y="177.3" font-size="10.2" font-weight="bold" text-anchor="middle">HK1</text>
<line x1="266" y1="234.8" x2="266" y2="235.9" stroke="#333" stroke-width="0.4"/>
<text x="266" y="240.4" font-size="4.7" text-anchor="middle" fill="#222" stroke="#222" stroke-width="0.16" stroke-opacity="0.55">non-SD</text>
<line x1="287.8" y1="234.8" x2="287.8" y2="235.9" stroke="#333" stroke-width="0.4"/>
<text x="287.8" y="240.4" font-size="4.7" text-anchor="middle" fill="#222" stroke="#222" stroke-width="0.16" stroke-opacity="0.55">SD</text>
<rect x="314.7" y="184.7" width="41.9" height="50.3" fill="#fff" />
<line x1="314.7" y1="193.8" x2="356.6" y2="193.8" stroke="#ebebeb" stroke-width="0.35"/>
<line x1="314.7" y1="207.25" x2="356.6" y2="207.25" stroke="#ebebeb" stroke-width="0.35"/>
<line x1="314.7" y1="220.7" x2="356.6" y2="220.7" stroke="#ebebeb" stroke-width="0.35"/>
<line x1="314.7" y1="187.1" x2="356.6" y2="187.1" stroke="#ebebeb" stroke-width="0.6"/>
<line x1="314.7" y1="200.5" x2="356.6" y2="200.5" stroke="#ebebeb" stroke-width="0.6"/>
<line x1="314.7" y1="214" x2="356.6" y2="214" stroke="#ebebeb" stroke-width="0.6"/>
<line x1="314.7" y1="227.4" x2="356.6" y2="227.4" stroke="#ebebeb" stroke-width="0.6"/>
<line x1="326.8" y1="184.7" x2="326.8" y2="235" stroke="#ebebeb" stroke-width="0.6"/>
<line x1="348.2" y1="184.7" x2="348.2" y2="235" stroke="#ebebeb" stroke-width="0.6"/>
<rect x="314.7" y="184.7" width="41.9" height="50.3" fill="none" stroke="#555" stroke-width="0.6" />
<line x1="313.4" y1="187.1" x2="314.7" y2="187.1" stroke="#333" stroke-width="0.4"/>
<text x="312.7" y="188.47" font-size="3.8" text-anchor="end" fill="#333" stroke="#333" stroke-width="0.13" stroke-opacity="0.55">7000</text>
<line x1="313.4" y1="200.5" x2="314.7" y2="200.5" stroke="#333" stroke-width="0.4"/>
<text x="312.7" y="201.87" font-size="3.8" text-anchor="end" fill="#333" stroke="#333" stroke-width="0.13" stroke-opacity="0.55">6000</text>
<line x1="313.4" y1="214" x2="314.7" y2="214" stroke="#333" stroke-width="0.4"/>
<text x="312.7" y="215.37" font-size="3.8" text-anchor="end" fill="#333" stroke="#333" stroke-width="0.13" stroke-opacity="0.55">5000</text>
<line x1="313.4" y1="227.4" x2="314.7" y2="227.4" stroke="#333" stroke-width="0.4"/>
<text x="312.7" y="228.77" font-size="3.8" text-anchor="end" fill="#333" stroke="#333" stroke-width="0.13" stroke-opacity="0.55">4000</text>
<rect x="321.4" y="203.2" width="10.8" height="16.7" fill="none" stroke="#9a9a9a" stroke-width="0.7" />
<line x1="321.4" y1="214.4" x2="332.2" y2="214.4" stroke="#222" stroke-width="0.9"/>
<line x1="326.8" y1="187.1" x2="326.8" y2="233.3" stroke="#222" stroke-width="0.9"/>
<line x1="321.4" y1="187.1" x2="332.2" y2="187.1" stroke="#222" stroke-width="0.9"/>
<line x1="321.4" y1="233.3" x2="332.2" y2="233.3" stroke="#222" stroke-width="0.9"/>
<rect x="342.7" y="207.2" width="10" height="8" fill="none" stroke="#9a9a9a" stroke-width="0.7" />
<line x1="342.7" y1="211" x2="352.7" y2="211" stroke="#222" stroke-width="0.9"/>
<line x1="347.7" y1="199.3" x2="347.7" y2="215.2" stroke="#222" stroke-width="0.9"/>
<line x1="342.7" y1="199.3" x2="352.7" y2="199.3" stroke="#222" stroke-width="0.9"/>
<line x1="342.7" y1="215.2" x2="352.7" y2="215.2" stroke="#222" stroke-width="0.9"/>
<circle cx="323.5" cy="210.2" r="1.75" fill="#5fc0a0" fill-opacity="0.9"/>
<circle cx="320.9" cy="214" r="1.75" fill="#5fc0a0" fill-opacity="0.9"/>
<circle cx="320.4" cy="220.2" r="1.75" fill="#5fc0a0" fill-opacity="0.9"/>
<circle cx="321.4" cy="229.4" r="1.75" fill="#5fc0a0" fill-opacity="0.9"/>
<circle cx="322.6" cy="231.6" r="1.75" fill="#5fc0a0" fill-opacity="0.9"/>
<circle cx="323.1" cy="233.3" r="1.75" fill="#5fc0a0" fill-opacity="0.9"/>
<circle cx="344.4" cy="213.5" r="1.75" fill="#5fc0a0" fill-opacity="0.9"/>
<circle cx="330.1" cy="187.3" r="1.75" fill="#f08c48" fill-opacity="0.9"/>
<circle cx="329.3" cy="195.6" r="1.75" fill="#f08c48" fill-opacity="0.9"/>
<circle cx="333.2" cy="198.1" r="1.75" fill="#f08c48" fill-opacity="0.9"/>
<circle cx="333.2" cy="208.2" r="1.75" fill="#f08c48" fill-opacity="0.9"/>
<circle cx="330.1" cy="217.7" r="1.75" fill="#f08c48" fill-opacity="0.9"/>
<circle cx="331" cy="220.2" r="1.75" fill="#f08c48" fill-opacity="0.9"/>
<circle cx="353.6" cy="199.6" r="1.75" fill="#f08c48" fill-opacity="0.9"/>
<circle cx="352.2" cy="209.4" r="1.75" fill="#f08c48" fill-opacity="0.9"/>
<circle cx="351.1" cy="214.9" r="1.75" fill="#f08c48" fill-opacity="0.9"/>
<text x="335.8" y="175.6" font-size="10.2" font-weight="bold" text-anchor="middle">GLUT1</text>
<text x="337.3" y="183.3" font-size="4.6" font-weight="bold" text-anchor="middle" textLength="50.6" lengthAdjust="spacingAndGlyphs">HW vs OW/OB p=0.0496</text>
<line x1="326.8" y1="235" x2="326.8" y2="236.1" stroke="#333" stroke-width="0.4"/>
<text x="326.8" y="240.4" font-size="4.7" text-anchor="middle" fill="#222" stroke="#222" stroke-width="0.16" stroke-opacity="0.55">non-SD</text>
<line x1="348.2" y1="235" x2="348.2" y2="236.1" stroke="#333" stroke-width="0.4"/>
<text x="348.2" y="240.4" font-size="4.7" text-anchor="middle" fill="#222" stroke="#222" stroke-width="0.16" stroke-opacity="0.55">SD</text>
<rect x="377.1" y="186.3" width="44.9" height="49.8" fill="#fff" />
<line x1="377.1" y1="194.15" x2="422" y2="194.15" stroke="#ebebeb" stroke-width="0.35"/>
<line x1="377.1" y1="203.6" x2="422" y2="203.6" stroke="#ebebeb" stroke-width="0.35"/>
<line x1="377.1" y1="212.8" x2="422" y2="212.8" stroke="#ebebeb" stroke-width="0.35"/>
<line x1="377.1" y1="222" x2="422" y2="222" stroke="#ebebeb" stroke-width="0.35"/>
<line x1="377.1" y1="231.2" x2="422" y2="231.2" stroke="#ebebeb" stroke-width="0.35"/>
<line x1="377.1" y1="189.3" x2="422" y2="189.3" stroke="#ebebeb" stroke-width="0.6"/>
<line x1="377.1" y1="199" x2="422" y2="199" stroke="#ebebeb" stroke-width="0.6"/>
<line x1="377.1" y1="208.2" x2="422" y2="208.2" stroke="#ebebeb" stroke-width="0.6"/>
<line x1="377.1" y1="217.4" x2="422" y2="217.4" stroke="#ebebeb" stroke-width="0.6"/>
<line x1="377.1" y1="226.6" x2="422" y2="226.6" stroke="#ebebeb" stroke-width="0.6"/>
<line x1="377.1" y1="235.8" x2="422" y2="235.8" stroke="#ebebeb" stroke-width="0.6"/>
<line x1="389.3" y1="186.3" x2="389.3" y2="236.1" stroke="#ebebeb" stroke-width="0.6"/>
<line x1="408.6" y1="186.3" x2="408.6" y2="236.1" stroke="#ebebeb" stroke-width="0.6"/>
<rect x="377.1" y="186.3" width="44.9" height="49.8" fill="none" stroke="#555" stroke-width="0.6" />
<line x1="375.8" y1="189.3" x2="377.1" y2="189.3" stroke="#333" stroke-width="0.4"/>
<text x="375.1" y="190.69" font-size="3.85" text-anchor="end" fill="#333" stroke="#333" stroke-width="0.13" stroke-opacity="0.55">16000</text>
<line x1="375.8" y1="199" x2="377.1" y2="199" stroke="#333" stroke-width="0.4"/>
<text x="375.1" y="200.39" font-size="3.85" text-anchor="end" fill="#333" stroke="#333" stroke-width="0.13" stroke-opacity="0.55">14000</text>
<line x1="375.8" y1="208.2" x2="377.1" y2="208.2" stroke="#333" stroke-width="0.4"/>
<text x="375.1" y="209.59" font-size="3.85" text-anchor="end" fill="#333" stroke="#333" stroke-width="0.13" stroke-opacity="0.55">12000</text>
<line x1="375.8" y1="217.4" x2="377.1" y2="217.4" stroke="#333" stroke-width="0.4"/>
<text x="375.1" y="218.79" font-size="3.85" text-anchor="end" fill="#333" stroke="#333" stroke-width="0.13" stroke-opacity="0.55">10000</text>
<line x1="375.8" y1="226.6" x2="377.1" y2="226.6" stroke="#333" stroke-width="0.4"/>
<text x="375.1" y="227.99" font-size="3.85" text-anchor="end" fill="#333" stroke="#333" stroke-width="0.13" stroke-opacity="0.55">8000</text>
<line x1="375.8" y1="235.8" x2="377.1" y2="235.8" stroke="#333" stroke-width="0.4"/>
<text x="375.1" y="237.19" font-size="3.85" text-anchor="end" fill="#333" stroke="#333" stroke-width="0.13" stroke-opacity="0.55">6000</text>
<rect x="384.3" y="211.5" width="10" height="12.9" fill="none" stroke="#9a9a9a" stroke-width="0.7" />
<line x1="384.3" y1="221.4" x2="394.3" y2="221.4" stroke="#222" stroke-width="0.9"/>
<line x1="389.3" y1="203.2" x2="389.3" y2="233.6" stroke="#222" stroke-width="0.9"/>
<line x1="384.3" y1="203.2" x2="394.3" y2="203.2" stroke="#222" stroke-width="0.9"/>
<line x1="384.3" y1="233.6" x2="394.3" y2="233.6" stroke="#222" stroke-width="0.9"/>
<rect x="403.55" y="207.7" width="10.9" height="17.6" fill="none" stroke="#9a9a9a" stroke-width="0.7" />
<line x1="403.55" y1="219" x2="414.45" y2="219" stroke="#222" stroke-width="0.9"/>
<line x1="409" y1="188.4" x2="409" y2="228.3" stroke="#222" stroke-width="0.9"/>
<line x1="403.55" y1="188.4" x2="414.45" y2="188.4" stroke="#222" stroke-width="0.9"/>
<line x1="403.55" y1="228.3" x2="414.45" y2="228.3" stroke="#222" stroke-width="0.9"/>
<circle cx="386" cy="204.3" r="1.75" fill="#5fc0a0" fill-opacity="0.9"/>
<circle cx="386" cy="222.7" r="1.75" fill="#5fc0a0" fill-opacity="0.9"/>
<circle cx="381.8" cy="224.4" r="1.75" fill="#5fc0a0" fill-opacity="0.9"/>
<circle cx="384.8" cy="229.9" r="1.75" fill="#5fc0a0" fill-opacity="0.9"/>
<circle cx="386" cy="223.9" r="1.75" fill="#5fc0a0" fill-opacity="0.9"/>
<circle cx="404.9" cy="223.6" r="1.75" fill="#5fc0a0" fill-opacity="0.9"/>
<circle cx="392.2" cy="203.8" r="1.75" fill="#f08c48" fill-opacity="0.9"/>
<circle cx="391.8" cy="204.8" r="1.75" fill="#f08c48" fill-opacity="0.9"/>
<circle cx="392.2" cy="221.9" r="1.75" fill="#f08c48" fill-opacity="0.9"/>
<circle cx="394.8" cy="218.9" r="1.75" fill="#f08c48" fill-opacity="0.9"/>
<circle cx="394.3" cy="218.2" r="1.75" fill="#f08c48" fill-opacity="0.9"/>
<circle cx="392.7" cy="233.6" r="1.75" fill="#f08c48" fill-opacity="0.9"/>
<circle cx="411.9" cy="188.4" r="1.75" fill="#f08c48" fill-opacity="0.9"/>
<circle cx="412.2" cy="214.4" r="1.75" fill="#f08c48" fill-opacity="0.9"/>
<circle cx="412.2" cy="228.3" r="1.75" fill="#f08c48" fill-opacity="0.9"/>
<text x="396.8" y="176" font-size="10.2" font-weight="bold" text-anchor="middle">ATP5A</text>
<line x1="389.3" y1="236.1" x2="389.3" y2="237.2" stroke="#333" stroke-width="0.4"/>
<text x="389.3" y="240.5" font-size="4.7" text-anchor="middle" fill="#222" stroke="#222" stroke-width="0.16" stroke-opacity="0.55">non-SD</text>
<line x1="408.6" y1="236.1" x2="408.6" y2="237.2" stroke="#333" stroke-width="0.4"/>
<text x="408.6" y="240.5" font-size="4.7" text-anchor="middle" fill="#222" stroke="#222" stroke-width="0.16" stroke-opacity="0.55">SD</text>
<text x="361.9" y="210.4" font-size="4.65" text-anchor="middle" fill="#111" transform="rotate(-90 361.9 210.4)" stroke="#111" stroke-width="0.16" stroke-opacity="0.55">CD4+ PD-1+ ATP5A MFI</text>
<rect x="435.1" y="186.8" width="45.2" height="49.3" fill="#fff" />
<line x1="435.1" y1="208.25" x2="480.3" y2="208.25" stroke="#ebebeb" stroke-width="0.35"/>
<line x1="435.1" y1="223.8" x2="480.3" y2="223.8" stroke="#ebebeb" stroke-width="0.35"/>
<line x1="435.1" y1="200.5" x2="480.3" y2="200.5" stroke="#ebebeb" stroke-width="0.6"/>
<line x1="435.1" y1="216" x2="480.3" y2="216" stroke="#ebebeb" stroke-width="0.6"/>
<line x1="435.1" y1="231.6" x2="480.3" y2="231.6" stroke="#ebebeb" stroke-width="0.6"/>
<line x1="447.2" y1="186.8" x2="447.2" y2="236.1" stroke="#ebebeb" stroke-width="0.6"/>
<line x1="468.9" y1="186.8" x2="468.9" y2="236.1" stroke="#ebebeb" stroke-width="0.6"/>
<rect x="435.1" y="186.8" width="45.2" height="49.3" fill="none" stroke="#555" stroke-width="0.6" />
<line x1="433.8" y1="200.5" x2="435.1" y2="200.5" stroke="#333" stroke-width="0.4"/>
<text x="433.1" y="201.87" font-size="3.8" text-anchor="end" fill="#333" stroke="#333" stroke-width="0.13" stroke-opacity="0.55">1000</text>
<line x1="433.8" y1="216" x2="435.1" y2="216" stroke="#333" stroke-width="0.4"/>
<text x="433.1" y="217.37" font-size="3.8" text-anchor="end" fill="#333" stroke="#333" stroke-width="0.13" stroke-opacity="0.55">800</text>
<line x1="433.8" y1="231.6" x2="435.1" y2="231.6" stroke="#333" stroke-width="0.4"/>
<text x="433.1" y="232.97" font-size="3.8" text-anchor="end" fill="#333" stroke="#333" stroke-width="0.13" stroke-opacity="0.55">600</text>
<rect x="442.1" y="208.5" width="10.6" height="11.7" fill="none" stroke="#9a9a9a" stroke-width="0.7" />
<line x1="442.1" y1="218.2" x2="452.7" y2="218.2" stroke="#222" stroke-width="0.9"/>
<line x1="447.4" y1="200.5" x2="447.4" y2="234" stroke="#222" stroke-width="0.9"/>
<line x1="442.1" y1="200.5" x2="452.7" y2="200.5" stroke="#222" stroke-width="0.9"/>
<line x1="442.1" y1="234" x2="452.7" y2="234" stroke="#222" stroke-width="0.9"/>
<rect x="463.15" y="209.9" width="10.1" height="10.3" fill="none" stroke="#9a9a9a" stroke-width="0.7" />
<line x1="463.15" y1="216" x2="473.25" y2="216" stroke="#222" stroke-width="0.9"/>
<line x1="468.2" y1="209.9" x2="468.2" y2="230.3" stroke="#222" stroke-width="0.9"/>
<line x1="463.15" y1="209.9" x2="473.25" y2="209.9" stroke="#222" stroke-width="0.9"/>
<line x1="463.15" y1="230.3" x2="473.25" y2="230.3" stroke="#222" stroke-width="0.9"/>
<circle cx="441" cy="204.3" r="1.75" fill="#5fc0a0" fill-opacity="0.9"/>
<circle cx="443.5" cy="217.4" r="1.75" fill="#5fc0a0" fill-opacity="0.9"/>
<circle cx="444.3" cy="219.4" r="1.75" fill="#5fc0a0" fill-opacity="0.9"/>
<circle cx="443.1" cy="227.3" r="1.75" fill="#5fc0a0" fill-opacity="0.9"/>
<circle cx="442.1" cy="234" r="1.75" fill="#5fc0a0" fill-opacity="0.9"/>
<circle cx="463.9" cy="230.3" r="1.75" fill="#5fc0a0" fill-opacity="0.9"/>
<circle cx="453.8" cy="188.4" r="1.75" fill="#f08c48" fill-opacity="0.9"/>
<circle cx="451.5" cy="200.5" r="1.75" fill="#f08c48" fill-opacity="0.9"/>
<circle cx="451" cy="212.7" r="1.75" fill="#f08c48" fill-opacity="0.9"/>
<circle cx="452.2" cy="214.4" r="1.75" fill="#f08c48" fill-opacity="0.9"/>
<circle cx="453.5" cy="218.9" r="1.75" fill="#f08c48" fill-opacity="0.9"/>
<circle cx="452.7" cy="221.1" r="1.75" fill="#f08c48" fill-opacity="0.9"/>
<circle cx="473.6" cy="189.8" r="1.75" fill="#f08c48" fill-opacity="0.9"/>
<circle cx="474.4" cy="216" r="1.75" fill="#f08c48" fill-opacity="0.9"/>
<circle cx="471.9" cy="216" r="1.75" fill="#f08c48" fill-opacity="0.9"/>
<text x="460.8" y="175.4" font-size="10.2" font-weight="bold" text-anchor="middle">CPT1A</text>
<text x="457.5" y="183.5" font-size="4.6" font-weight="bold" text-anchor="middle" textLength="49.2" lengthAdjust="spacingAndGlyphs">HW vs OW/OB p=0.036</text>
<line x1="447.2" y1="236.1" x2="447.2" y2="237.2" stroke="#333" stroke-width="0.4"/>
<text x="447.2" y="240.5" font-size="4.7" text-anchor="middle" fill="#222" stroke="#222" stroke-width="0.16" stroke-opacity="0.55">non-SD</text>
<line x1="468.9" y1="236.1" x2="468.9" y2="237.2" stroke="#333" stroke-width="0.4"/>
<text x="468.9" y="240.5" font-size="4.7" text-anchor="middle" fill="#222" stroke="#222" stroke-width="0.16" stroke-opacity="0.55">SD</text>
<rect x="253.5" y="250.4" width="46" height="49.7" fill="#fff" />
<line x1="253.5" y1="267.15" x2="299.5" y2="267.15" stroke="#ebebeb" stroke-width="0.35"/>
<line x1="253.5" y1="281.3" x2="299.5" y2="281.3" stroke="#ebebeb" stroke-width="0.35"/>
<line x1="253.5" y1="260.1" x2="299.5" y2="260.1" stroke="#ebebeb" stroke-width="0.6"/>
<line x1="253.5" y1="274.2" x2="299.5" y2="274.2" stroke="#ebebeb" stroke-width="0.6"/>
<line x1="253.5" y1="288.4" x2="299.5" y2="288.4" stroke="#ebebeb" stroke-width="0.6"/>
<line x1="266.4" y1="250.4" x2="266.4" y2="300.1" stroke="#ebebeb" stroke-width="0.6"/>
<line x1="287.3" y1="250.4" x2="287.3" y2="300.1" stroke="#ebebeb" stroke-width="0.6"/>
<rect x="253.5" y="250.4" width="46" height="49.7" fill="none" stroke="#555" stroke-width="0.6" />
<line x1="252.2" y1="260.1" x2="253.5" y2="260.1" stroke="#333" stroke-width="0.4"/>
<text x="251.5" y="261.47" font-size="3.8" text-anchor="end" fill="#333" stroke="#333" stroke-width="0.13" stroke-opacity="0.55">8000</text>
<line x1="252.2" y1="274.2" x2="253.5" y2="274.2" stroke="#333" stroke-width="0.4"/>
<text x="251.5" y="275.57" font-size="3.8" text-anchor="end" fill="#333" stroke="#333" stroke-width="0.13" stroke-opacity="0.55">6000</text>
<line x1="252.2" y1="288.4" x2="253.5" y2="288.4" stroke="#333" stroke-width="0.4"/>
<text x="251.5" y="289.77" font-size="3.8" text-anchor="end" fill="#333" stroke="#333" stroke-width="0.13" stroke-opacity="0.55">4000</text>
<rect x="260.6" y="269.2" width="11" height="20.4" fill="none" stroke="#9a9a9a" stroke-width="0.7" />
<line x1="260.6" y1="283.2" x2="271.6" y2="283.2" stroke="#222" stroke-width="0.9"/>
<line x1="266.1" y1="252.3" x2="266.1" y2="298.3" stroke="#222" stroke-width="0.9"/>
<line x1="260.6" y1="252.3" x2="271.6" y2="252.3" stroke="#222" stroke-width="0.9"/>
<line x1="260.6" y1="298.3" x2="271.6" y2="298.3" stroke="#222" stroke-width="0.9"/>
<rect x="281.8" y="279.7" width="11" height="9.5" fill="none" stroke="#9a9a9a" stroke-width="0.7" />
<line x1="281.8" y1="284.5" x2="292.8" y2="284.5" stroke="#222" stroke-width="0.9"/>
<line x1="287.3" y1="276.3" x2="287.3" y2="289.2" stroke="#222" stroke-width="0.9"/>
<line x1="281.8" y1="276.3" x2="292.8" y2="276.3" stroke="#222" stroke-width="0.9"/>
<line x1="281.8" y1="289.2" x2="292.8" y2="289.2" stroke="#222" stroke-width="0.9"/>
<circle cx="259.5" cy="262.5" r="1.75" fill="#5fc0a0" fill-opacity="0.9"/>
<circle cx="263" cy="278.2" r="1.75" fill="#5fc0a0" fill-opacity="0.9"/>
<circle cx="260.1" cy="285.2" r="1.75" fill="#5fc0a0" fill-opacity="0.9"/>
<circle cx="260.8" cy="297.8" r="1.75" fill="#5fc0a0" fill-opacity="0.9"/>
<circle cx="284.5" cy="289.6" r="1.75" fill="#5fc0a0" fill-opacity="0.9"/>
<circle cx="271.1" cy="252.6" r="1.75" fill="#f08c48" fill-opacity="0.9"/>
<circle cx="268.9" cy="263.6" r="1.75" fill="#f08c48" fill-opacity="0.9"/>
<circle cx="272.4" cy="275.5" r="1.75" fill="#f08c48" fill-opacity="0.9"/>
<circle cx="272.7" cy="282.9" r="1.75" fill="#f08c48" fill-opacity="0.9"/>
<circle cx="270" cy="285.2" r="1.75" fill="#f08c48" fill-opacity="0.9"/>
<circle cx="269.7" cy="293.9" r="1.75" fill="#f08c48" fill-opacity="0.9"/>
<circle cx="290" cy="276.1" r="1.75" fill="#f08c48" fill-opacity="0.9"/>
<circle cx="292" cy="280.5" r="1.75" fill="#f08c48" fill-opacity="0.9"/>
<circle cx="292.8" cy="288.7" r="1.75" fill="#f08c48" fill-opacity="0.9"/>
<line x1="266.4" y1="300.1" x2="266.4" y2="301.2" stroke="#333" stroke-width="0.4"/>
<text x="266.4" y="306.2" font-size="4.7" text-anchor="middle" fill="#222" stroke="#222" stroke-width="0.16" stroke-opacity="0.55">non-SD</text>
<line x1="287.3" y1="300.1" x2="287.3" y2="301.2" stroke="#333" stroke-width="0.4"/>
<text x="287.3" y="306.2" font-size="4.7" text-anchor="middle" fill="#222" stroke="#222" stroke-width="0.16" stroke-opacity="0.55">SD</text>
<rect x="316.3" y="250.7" width="44.2" height="49.9" fill="#fff" />
<line x1="316.3" y1="274.9" x2="360.5" y2="274.9" stroke="#ebebeb" stroke-width="0.35"/>
<line x1="316.3" y1="292" x2="360.5" y2="292" stroke="#ebebeb" stroke-width="0.35"/>
<line x1="316.3" y1="266.4" x2="360.5" y2="266.4" stroke="#ebebeb" stroke-width="0.6"/>
<line x1="316.3" y1="283.4" x2="360.5" y2="283.4" stroke="#ebebeb" stroke-width="0.6"/>
<line x1="316.3" y1="300.6" x2="360.5" y2="300.6" stroke="#ebebeb" stroke-width="0.6"/>
<line x1="328.8" y1="250.7" x2="328.8" y2="300.6" stroke="#ebebeb" stroke-width="0.6"/>
<line x1="348.5" y1="250.7" x2="348.5" y2="300.6" stroke="#ebebeb" stroke-width="0.6"/>
<rect x="316.3" y="250.7" width="44.2" height="49.9" fill="none" stroke="#555" stroke-width="0.6" />
<line x1="315" y1="266.4" x2="316.3" y2="266.4" stroke="#333" stroke-width="0.4"/>
<text x="314.3" y="267.77" font-size="3.8" text-anchor="end" fill="#333" stroke="#333" stroke-width="0.13" stroke-opacity="0.55">10000</text>
<line x1="315" y1="283.4" x2="316.3" y2="283.4" stroke="#333" stroke-width="0.4"/>
<text x="314.3" y="284.77" font-size="3.8" text-anchor="end" fill="#333" stroke="#333" stroke-width="0.13" stroke-opacity="0.55">7500</text>
<line x1="315" y1="300.6" x2="316.3" y2="300.6" stroke="#333" stroke-width="0.4"/>
<text x="314.3" y="301.97" font-size="3.8" text-anchor="end" fill="#333" stroke="#333" stroke-width="0.13" stroke-opacity="0.55">5000</text>
<rect x="323.3" y="276.3" width="10.2" height="10.2" fill="none" stroke="#9a9a9a" stroke-width="0.7" />
<line x1="323.3" y1="281.3" x2="333.5" y2="281.3" stroke="#222" stroke-width="0.9"/>
<line x1="328.4" y1="274.2" x2="328.4" y2="298.6" stroke="#222" stroke-width="0.9"/>
<line x1="323.3" y1="274.2" x2="333.5" y2="274.2" stroke="#222" stroke-width="0.9"/>
<line x1="323.3" y1="298.6" x2="333.5" y2="298.6" stroke="#222" stroke-width="0.9"/>
<rect x="343.25" y="272.4" width="10.3" height="13.6" fill="none" stroke="#9a9a9a" stroke-width="0.7" />
<line x1="343.25" y1="279.4" x2="353.55" y2="279.4" stroke="#222" stroke-width="0.9"/>
<line x1="348.4" y1="271.4" x2="348.4" y2="287.6" stroke="#222" stroke-width="0.9"/>
<line x1="343.25" y1="271.4" x2="353.55" y2="271.4" stroke="#222" stroke-width="0.9"/>
<line x1="343.25" y1="287.6" x2="353.55" y2="287.6" stroke="#222" stroke-width="0.9"/>
<circle cx="322.2" cy="281.3" r="1.75" fill="#5fc0a0" fill-opacity="0.9"/>
<circle cx="322.9" cy="282.9" r="1.75" fill="#5fc0a0" fill-opacity="0.9"/>
<circle cx="323.3" cy="290" r="1.75" fill="#5fc0a0" fill-opacity="0.9"/>
<circle cx="324.9" cy="294.3" r="1.75" fill="#5fc0a0" fill-opacity="0.9"/>
<circle cx="322.6" cy="298.6" r="1.75" fill="#5fc0a0" fill-opacity="0.9"/>
<circle cx="344.9" cy="274.2" r="1.75" fill="#5fc0a0" fill-opacity="0.9"/>
<circle cx="333.5" cy="253.5" r="1.75" fill="#f08c48" fill-opacity="0.9"/>
<circle cx="332.8" cy="274.2" r="1.75" fill="#f08c48" fill-opacity="0.9"/>
<circle cx="333.2" cy="277.7" r="1.75" fill="#f08c48" fill-opacity="0.9"/>
<circle cx="333.9" cy="281.3" r="1.75" fill="#f08c48" fill-opacity="0.9"/>
<circle cx="332" cy="282.1" r="1.75" fill="#f08c48" fill-opacity="0.9"/>
<circle cx="354.4" cy="272.2" r="1.75" fill="#f08c48" fill-opacity="0.9"/>
<circle cx="353.6" cy="284.9" r="1.75" fill="#f08c48" fill-opacity="0.9"/>
<circle cx="354.3" cy="287.6" r="1.75" fill="#f08c48" fill-opacity="0.9"/>
<text x="337.8" y="248.9" font-size="4.6" font-weight="bold" text-anchor="middle" textLength="49.2" lengthAdjust="spacingAndGlyphs">HW vs OW/OB p=0.059</text>
<line x1="328.8" y1="300.6" x2="328.8" y2="301.7" stroke="#333" stroke-width="0.4"/>
<text x="328.8" y="306.2" font-size="4.7" text-anchor="middle" fill="#222" stroke="#222" stroke-width="0.16" stroke-opacity="0.55">non-SD</text>
<line x1="348.5" y1="300.6" x2="348.5" y2="301.7" stroke="#333" stroke-width="0.4"/>
<text x="348.5" y="306.2" font-size="4.7" text-anchor="middle" fill="#222" stroke="#222" stroke-width="0.16" stroke-opacity="0.55">SD</text>
<rect x="377.5" y="250.7" width="43.2" height="50.2" fill="#fff" />
<line x1="377.5" y1="268.35" x2="420.7" y2="268.35" stroke="#ebebeb" stroke-width="0.35"/>
<line x1="377.5" y1="283.65" x2="420.7" y2="283.65" stroke="#ebebeb" stroke-width="0.35"/>
<line x1="377.5" y1="260.6" x2="420.7" y2="260.6" stroke="#ebebeb" stroke-width="0.6"/>
<line x1="377.5" y1="276.1" x2="420.7" y2="276.1" stroke="#ebebeb" stroke-width="0.6"/>
<line x1="377.5" y1="291.2" x2="420.7" y2="291.2" stroke="#ebebeb" stroke-width="0.6"/>
<line x1="389.3" y1="250.7" x2="389.3" y2="300.9" stroke="#ebebeb" stroke-width="0.6"/>
<line x1="408.6" y1="250.7" x2="408.6" y2="300.9" stroke="#ebebeb" stroke-width="0.6"/>
<rect x="377.5" y="250.7" width="43.2" height="50.2" fill="none" stroke="#555" stroke-width="0.6" />
<line x1="376.2" y1="260.6" x2="377.5" y2="260.6" stroke="#333" stroke-width="0.4"/>
<text x="375.5" y="261.99" font-size="3.85" text-anchor="end" fill="#333" stroke="#333" stroke-width="0.13" stroke-opacity="0.55">20000</text>
<line x1="376.2" y1="276.1" x2="377.5" y2="276.1" stroke="#333" stroke-width="0.4"/>
<text x="375.5" y="277.49" font-size="3.85" text-anchor="end" fill="#333" stroke="#333" stroke-width="0.13" stroke-opacity="0.55">15000</text>
<line x1="376.2" y1="291.2" x2="377.5" y2="291.2" stroke="#333" stroke-width="0.4"/>
<text x="375.5" y="292.59" font-size="3.85" text-anchor="end" fill="#333" stroke="#333" stroke-width="0.13" stroke-opacity="0.55">10000</text>
<rect x="384.6" y="273.1" width="10.2" height="21.2" fill="none" stroke="#9a9a9a" stroke-width="0.7" />
<line x1="384.6" y1="285.2" x2="394.8" y2="285.2" stroke="#222" stroke-width="0.9"/>
<line x1="389.7" y1="253.1" x2="389.7" y2="298.6" stroke="#222" stroke-width="0.9"/>
<line x1="384.6" y1="253.1" x2="394.8" y2="253.1" stroke="#222" stroke-width="0.9"/>
<line x1="384.6" y1="298.6" x2="394.8" y2="298.6" stroke="#222" stroke-width="0.9"/>
<rect x="403.5" y="276" width="11" height="11" fill="none" stroke="#9a9a9a" stroke-width="0.7" />
<line x1="403.5" y1="282" x2="414.5" y2="282" stroke="#222" stroke-width="0.9"/>
<line x1="409" y1="270" x2="409" y2="293" stroke="#222" stroke-width="0.9"/>
<line x1="403.5" y1="270" x2="414.5" y2="270" stroke="#222" stroke-width="0.9"/>
<line x1="403.5" y1="293" x2="414.5" y2="293" stroke="#222" stroke-width="0.9"/>
<circle cx="385.4" cy="264" r="1.75" fill="#5fc0a0" fill-opacity="0.9"/>
<circle cx="383.3" cy="285.2" r="1.75" fill="#5fc0a0" fill-opacity="0.9"/>
<circle cx="385" cy="291.2" r="1.75" fill="#5fc0a0" fill-opacity="0.9"/>
<circle cx="386.6" cy="295.4" r="1.75" fill="#5fc0a0" fill-opacity="0.9"/>
<circle cx="387.2" cy="297" r="1.75" fill="#5fc0a0" fill-opacity="0.9"/>
<circle cx="405.8" cy="285.5" r="1.75" fill="#5fc0a0" fill-opacity="0.9"/>
<circle cx="392.4" cy="253.1" r="1.75" fill="#f08c48" fill-opacity="0.9"/>
<circle cx="393.2" cy="271.4" r="1.75" fill="#f08c48" fill-opacity="0.9"/>
<circle cx="391.6" cy="276.1" r="1.75" fill="#f08c48" fill-opacity="0.9"/>
<circle cx="391.9" cy="279.3" r="1.75" fill="#f08c48" fill-opacity="0.9"/>
<circle cx="394" cy="292.8" r="1.75" fill="#f08c48" fill-opacity="0.9"/>
<circle cx="394" cy="298.6" r="1.75" fill="#f08c48" fill-opacity="0.9"/>
<circle cx="414.7" cy="268.3" r="1.75" fill="#f08c48" fill-opacity="0.9"/>
<circle cx="414.7" cy="277.4" r="1.75" fill="#f08c48" fill-opacity="0.9"/>
<circle cx="411.3" cy="292.8" r="1.75" fill="#f08c48" fill-opacity="0.9"/>
<line x1="389.3" y1="300.9" x2="389.3" y2="302" stroke="#333" stroke-width="0.4"/>
<text x="389.3" y="306.2" font-size="4.7" text-anchor="middle" fill="#222" stroke="#222" stroke-width="0.16" stroke-opacity="0.55">non-SD</text>
<line x1="408.6" y1="300.9" x2="408.6" y2="302" stroke="#333" stroke-width="0.4"/>
<text x="408.6" y="306.2" font-size="4.7" text-anchor="middle" fill="#222" stroke="#222" stroke-width="0.16" stroke-opacity="0.55">SD</text>
<rect x="434.8" y="250.7" width="45.9" height="50.2" fill="#fff" />
<line x1="434.8" y1="256.45" x2="480.7" y2="256.45" stroke="#ebebeb" stroke-width="0.35"/>
<line x1="434.8" y1="266.4" x2="480.7" y2="266.4" stroke="#ebebeb" stroke-width="0.35"/>
<line x1="434.8" y1="276.35" x2="480.7" y2="276.35" stroke="#ebebeb" stroke-width="0.35"/>
<line x1="434.8" y1="286.4" x2="480.7" y2="286.4" stroke="#ebebeb" stroke-width="0.35"/>
<line x1="434.8" y1="251.5" x2="480.7" y2="251.5" stroke="#ebebeb" stroke-width="0.6"/>
<line x1="434.8" y1="261.4" x2="480.7" y2="261.4" stroke="#ebebeb" stroke-width="0.6"/>
<line x1="434.8" y1="271.4" x2="480.7" y2="271.4" stroke="#ebebeb" stroke-width="0.6"/>
<line x1="434.8" y1="281.3" x2="480.7" y2="281.3" stroke="#ebebeb" stroke-width="0.6"/>
<line x1="434.8" y1="291.5" x2="480.7" y2="291.5" stroke="#ebebeb" stroke-width="0.6"/>
<line x1="447.4" y1="250.7" x2="447.4" y2="300.9" stroke="#ebebeb" stroke-width="0.6"/>
<line x1="468.6" y1="250.7" x2="468.6" y2="300.9" stroke="#ebebeb" stroke-width="0.6"/>
<rect x="434.8" y="250.7" width="45.9" height="50.2" fill="none" stroke="#555" stroke-width="0.6" />
<line x1="433.5" y1="251.5" x2="434.8" y2="251.5" stroke="#333" stroke-width="0.4"/>
<text x="432.8" y="252.87" font-size="3.8" text-anchor="end" fill="#333" stroke="#333" stroke-width="0.13" stroke-opacity="0.55">1600</text>
<line x1="433.5" y1="261.4" x2="434.8" y2="261.4" stroke="#333" stroke-width="0.4"/>
<text x="432.8" y="262.77" font-size="3.8" text-anchor="end" fill="#333" stroke="#333" stroke-width="0.13" stroke-opacity="0.55">1400</text>
<line x1="433.5" y1="271.4" x2="434.8" y2="271.4" stroke="#333" stroke-width="0.4"/>
<text x="432.8" y="272.77" font-size="3.8" text-anchor="end" fill="#333" stroke="#333" stroke-width="0.13" stroke-opacity="0.55">1200</text>
<line x1="433.5" y1="281.3" x2="434.8" y2="281.3" stroke="#333" stroke-width="0.4"/>
<text x="432.8" y="282.67" font-size="3.8" text-anchor="end" fill="#333" stroke="#333" stroke-width="0.13" stroke-opacity="0.55">1000</text>
<line x1="433.5" y1="291.5" x2="434.8" y2="291.5" stroke="#333" stroke-width="0.4"/>
<text x="432.8" y="292.87" font-size="3.8" text-anchor="end" fill="#333" stroke="#333" stroke-width="0.13" stroke-opacity="0.55">800</text>
<rect x="442.4" y="269.5" width="10" height="17.6" fill="none" stroke="#9a9a9a" stroke-width="0.7" />
<line x1="442.4" y1="281.3" x2="452.4" y2="281.3" stroke="#222" stroke-width="0.9"/>
<line x1="447.4" y1="253.5" x2="447.4" y2="299" stroke="#222" stroke-width="0.9"/>
<line x1="442.4" y1="253.5" x2="452.4" y2="253.5" stroke="#222" stroke-width="0.9"/>
<line x1="442.4" y1="299" x2="452.4" y2="299" stroke="#222" stroke-width="0.9"/>
<rect x="462.8" y="276.6" width="11" height="3.9" fill="none" stroke="#9a9a9a" stroke-width="0.7" />
<line x1="462.8" y1="279.4" x2="473.8" y2="279.4" stroke="#222" stroke-width="0.9"/>
<line x1="468.3" y1="276.6" x2="468.3" y2="284.5" stroke="#222" stroke-width="0.9"/>
<line x1="462.8" y1="276.6" x2="473.8" y2="276.6" stroke="#222" stroke-width="0.9"/>
<line x1="462.8" y1="284.5" x2="473.8" y2="284.5" stroke="#222" stroke-width="0.9"/>
<circle cx="444.2" cy="266.1" r="1.75" fill="#5fc0a0" fill-opacity="0.9"/>
<circle cx="442.4" cy="284.9" r="1.75" fill="#5fc0a0" fill-opacity="0.9"/>
<circle cx="440.8" cy="286.8" r="1.75" fill="#5fc0a0" fill-opacity="0.9"/>
<circle cx="443.5" cy="291.8" r="1.75" fill="#5fc0a0" fill-opacity="0.9"/>
<circle cx="441.1" cy="298.6" r="1.75" fill="#5fc0a0" fill-opacity="0.9"/>
<circle cx="464.3" cy="284.5" r="1.75" fill="#5fc0a0" fill-opacity="0.9"/>
<circle cx="453.4" cy="253.5" r="1.75" fill="#f08c48" fill-opacity="0.9"/>
<circle cx="452.4" cy="262.5" r="1.75" fill="#f08c48" fill-opacity="0.9"/>
<circle cx="450.5" cy="273.5" r="1.75" fill="#f08c48" fill-opacity="0.9"/>
<circle cx="449.7" cy="274.2" r="1.75" fill="#f08c48" fill-opacity="0.9"/>
<circle cx="451.8" cy="281.8" r="1.75" fill="#f08c48" fill-opacity="0.9"/>
<circle cx="449.7" cy="288.4" r="1.75" fill="#f08c48" fill-opacity="0.9"/>
<circle cx="474.4" cy="270.3" r="1.75" fill="#f08c48" fill-opacity="0.9"/>
<circle cx="472.8" cy="279.7" r="1.75" fill="#f08c48" fill-opacity="0.9"/>
<circle cx="472.2" cy="279.4" r="1.75" fill="#f08c48" fill-opacity="0.9"/>
<text x="458.5" y="249.2" font-size="4.6" font-weight="bold" text-anchor="middle" textLength="50.6" lengthAdjust="spacingAndGlyphs">HW vs OW/OB p=0.0496</text>
<line x1="447.4" y1="300.9" x2="447.4" y2="302" stroke="#333" stroke-width="0.4"/>
<text x="447.4" y="306.2" font-size="4.7" text-anchor="middle" fill="#222" stroke="#222" stroke-width="0.16" stroke-opacity="0.55">non-SD</text>
<line x1="468.6" y1="300.9" x2="468.6" y2="302" stroke="#333" stroke-width="0.4"/>
<text x="468.6" y="306.2" font-size="4.7" text-anchor="middle" fill="#222" stroke="#222" stroke-width="0.16" stroke-opacity="0.55">SD</text>
<path d="M492.9 194.65 A3.95 4.85 0 0 1 500.8 194.65 A3.95 4.85 0 0 1 492.9 194.65 Z" fill="#a8dcc8" />
<rect x="489.8" y="189.8" width="14.1" height="9.7" fill="none" stroke="#1b9e77" stroke-width="1" />
<line x1="489.8" y1="194.65" x2="503.9" y2="194.65" stroke="#1b9e77" stroke-width="1.6"/>
<line x1="496.85" y1="187.8" x2="496.85" y2="189.8" stroke="#1b9e77" stroke-width="1"/>
<line x1="496.85" y1="199.5" x2="496.85" y2="201.6" stroke="#1b9e77" stroke-width="1"/>
<text x="507.6" y="197.8" font-size="9.8" fill="#222">HW</text>
<path d="M492.9 215.8 A3.95 5 0 0 1 500.8 215.8 A3.95 5 0 0 1 492.9 215.8 Z" fill="#f4c09a" />
<rect x="489.8" y="210.8" width="14.1" height="10" fill="none" stroke="#d95f02" stroke-width="1" />
<line x1="489.8" y1="215.8" x2="503.9" y2="215.8" stroke="#d95f02" stroke-width="1.6"/>
<line x1="496.85" y1="209.1" x2="496.85" y2="210.8" stroke="#d95f02" stroke-width="1"/>
<line x1="496.85" y1="220.8" x2="496.85" y2="222.7" stroke="#d95f02" stroke-width="1"/>
<text x="507.6" y="219.7" font-size="9.8" fill="#222">OW/OB</text>
<text x="231.6" y="331.2" font-size="12.5" font-weight="bold">i</text>
<text x="233.8" y="362" font-size="4.6" text-anchor="middle" fill="#222" transform="rotate(-90 233.8 362)" stroke="#222" stroke-width="0.16" stroke-opacity="0.55">CD4<tspan baseline-shift="1.66" font-size="2.85">+</tspan> CD38<tspan baseline-shift="1.66" font-size="2.85">+</tspan>HLA-DR<tspan baseline-shift="1.66" font-size="2.85">+</tspan></text>
<text x="233.8" y="427" font-size="4.6" text-anchor="middle" fill="#222" transform="rotate(-90 233.8 427)" stroke="#222" stroke-width="0.16" stroke-opacity="0.55">CD8<tspan baseline-shift="1.66" font-size="2.85">+</tspan> CD38<tspan baseline-shift="1.66" font-size="2.85">+</tspan>HLA-DR<tspan baseline-shift="1.66" font-size="2.85">+</tspan></text>
<text x="270.9" y="331.3" font-size="10.2" font-weight="bold" text-anchor="middle">HK1</text>
<text x="335.7" y="331.3" font-size="10.2" font-weight="bold" text-anchor="middle">GLUT1</text>
<text x="397" y="331.3" font-size="10.2" font-weight="bold" text-anchor="middle">ATP5A</text>
<text x="460.9" y="331.3" font-size="10.2" font-weight="bold" text-anchor="middle">CPT1A</text>
<rect x="245.3" y="339.4" width="51.2" height="45.2" fill="#fff" />
<line x1="245.3" y1="350.2" x2="296.5" y2="350.2" stroke="#ebebeb" stroke-width="0.35"/>
<line x1="245.3" y1="358.05" x2="296.5" y2="358.05" stroke="#ebebeb" stroke-width="0.35"/>
<line x1="245.3" y1="365.75" x2="296.5" y2="365.75" stroke="#ebebeb" stroke-width="0.35"/>
<line x1="245.3" y1="373.6" x2="296.5" y2="373.6" stroke="#ebebeb" stroke-width="0.35"/>
<line x1="245.3" y1="346.3" x2="296.5" y2="346.3" stroke="#ebebeb" stroke-width="0.6"/>
<line x1="245.3" y1="354.1" x2="296.5" y2="354.1" stroke="#ebebeb" stroke-width="0.6"/>
<line x1="245.3" y1="362" x2="296.5" y2="362" stroke="#ebebeb" stroke-width="0.6"/>
<line x1="245.3" y1="369.5" x2="296.5" y2="369.5" stroke="#ebebeb" stroke-width="0.6"/>
<line x1="245.3" y1="377.7" x2="296.5" y2="377.7" stroke="#ebebeb" stroke-width="0.6"/>
<line x1="259.6" y1="339.4" x2="259.6" y2="384.6" stroke="#ebebeb" stroke-width="0.6"/>
<line x1="282.5" y1="339.4" x2="282.5" y2="384.6" stroke="#ebebeb" stroke-width="0.6"/>
<rect x="245.3" y="339.4" width="51.2" height="45.2" fill="none" stroke="#555" stroke-width="0.6" />
<line x1="244" y1="346.3" x2="245.3" y2="346.3" stroke="#333" stroke-width="0.4"/>
<text x="243.3" y="347.63" font-size="3.7" text-anchor="end" fill="#333" stroke="#333" stroke-width="0.13" stroke-opacity="0.55">8000</text>
<line x1="244" y1="354.1" x2="245.3" y2="354.1" stroke="#333" stroke-width="0.4"/>
<text x="243.3" y="355.43" font-size="3.7" text-anchor="end" fill="#333" stroke="#333" stroke-width="0.13" stroke-opacity="0.55">7000</text>
<line x1="244" y1="362" x2="245.3" y2="362" stroke="#333" stroke-width="0.4"/>
<text x="243.3" y="363.33" font-size="3.7" text-anchor="end" fill="#333" stroke="#333" stroke-width="0.13" stroke-opacity="0.55">6000</text>
<line x1="244" y1="369.5" x2="245.3" y2="369.5" stroke="#333" stroke-width="0.4"/>
<text x="243.3" y="370.83" font-size="3.7" text-anchor="end" fill="#333" stroke="#333" stroke-width="0.13" stroke-opacity="0.55">5000</text>
<line x1="244" y1="377.7" x2="245.3" y2="377.7" stroke="#333" stroke-width="0.4"/>
<text x="243.3" y="379.03" font-size="3.7" text-anchor="end" fill="#333" stroke="#333" stroke-width="0.13" stroke-opacity="0.55">4000</text>
<circle cx="257.73" cy="350.88" r="1.05" fill="#3a62c0" fill-opacity="0.55"/>
<circle cx="254.87" cy="368.73" r="1.05" fill="#3a62c0" fill-opacity="0.55"/>
<circle cx="255.81" cy="361.12" r="1.05" fill="#3a62c0" fill-opacity="0.55"/>
<circle cx="257.44" cy="365.55" r="1.05" fill="#3a62c0" fill-opacity="0.55"/>
<circle cx="253.77" cy="349.74" r="1.05" fill="#3a62c0" fill-opacity="0.55"/>
<circle cx="255.73" cy="370.77" r="1.05" fill="#3a62c0" fill-opacity="0.55"/>
<rect x="252.6" y="355.7" width="6.9" height="20.8" fill="none" stroke="#1f48a6" stroke-width="0.75" />
<line x1="252.6" y1="361.4" x2="259.5" y2="361.4" stroke="#1f48a6" stroke-width="1"/>
<line x1="256.05" y1="341" x2="256.05" y2="355.7" stroke="#1f48a6" stroke-width="0.9"/>
<line x1="256.05" y1="376.5" x2="256.05" y2="381.5" stroke="#1f48a6" stroke-width="0.9"/>
<line x1="252.6" y1="341" x2="259.5" y2="341" stroke="#1f48a6" stroke-width="0.9"/>
<line x1="252.6" y1="381.5" x2="259.5" y2="381.5" stroke="#1f48a6" stroke-width="0.9"/>
<circle cx="261.05" cy="375.74" r="1.05" fill="#f04848" fill-opacity="0.55"/>
<circle cx="264.23" cy="371.28" r="1.05" fill="#f04848" fill-opacity="0.55"/>
<circle cx="265.21" cy="368.23" r="1.05" fill="#f04848" fill-opacity="0.55"/>
<circle cx="261.18" cy="377.7" r="1.05" fill="#f04848" fill-opacity="0.55"/>
<circle cx="263.43" cy="365.37" r="1.05" fill="#f04848" fill-opacity="0.55"/>
<circle cx="262.73" cy="378.23" r="1.05" fill="#f04848" fill-opacity="0.55"/>
<rect x="260.1" y="371.4" width="6.3" height="5.7" fill="none" stroke="#f01e1e" stroke-width="0.75" />
<line x1="260.1" y1="373.9" x2="266.4" y2="373.9" stroke="#f01e1e" stroke-width="1"/>
<line x1="263.25" y1="362" x2="263.25" y2="371.4" stroke="#f01e1e" stroke-width="0.9"/>
<line x1="263.25" y1="377.1" x2="263.25" y2="382.1" stroke="#f01e1e" stroke-width="0.9"/>
<line x1="260.1" y1="362" x2="266.4" y2="362" stroke="#f01e1e" stroke-width="0.9"/>
<line x1="260.1" y1="382.1" x2="266.4" y2="382.1" stroke="#f01e1e" stroke-width="0.9"/>
<circle cx="278.93" cy="365.8" r="1.05" fill="#3a62c0" fill-opacity="0.55"/>
<circle cx="278.1" cy="362.49" r="1.05" fill="#3a62c0" fill-opacity="0.55"/>
<circle cx="279.23" cy="369.7" r="1.05" fill="#3a62c0" fill-opacity="0.55"/>
<circle cx="278.14" cy="366.09" r="1.05" fill="#3a62c0" fill-opacity="0.55"/>
<circle cx="279.08" cy="365.84" r="1.05" fill="#3a62c0" fill-opacity="0.55"/>
<circle cx="277.27" cy="367.09" r="1.05" fill="#3a62c0" fill-opacity="0.55"/>
<rect x="276.3" y="370.8" width="5.9" height="6.9" fill="none" stroke="#1f48a6" stroke-width="0.75" />
<line x1="276.3" y1="373.9" x2="282.2" y2="373.9" stroke="#1f48a6" stroke-width="1"/>
<line x1="279.25" y1="358.2" x2="279.25" y2="370.8" stroke="#1f48a6" stroke-width="0.9"/>
<line x1="279.25" y1="377.7" x2="279.25" y2="383.4" stroke="#1f48a6" stroke-width="0.9"/>
<line x1="276.3" y1="358.2" x2="282.2" y2="358.2" stroke="#1f48a6" stroke-width="0.9"/>
<line x1="276.3" y1="383.4" x2="282.2" y2="383.4" stroke="#1f48a6" stroke-width="0.9"/>
<circle cx="286.42" cy="379.34" r="1.05" fill="#f04848" fill-opacity="0.55"/>
<circle cx="284.63" cy="379" r="1.05" fill="#f04848" fill-opacity="0.55"/>
<circle cx="287.89" cy="379.61" r="1.05" fill="#f04848" fill-opacity="0.55"/>
<circle cx="285.34" cy="378.09" r="1.05" fill="#f04848" fill-opacity="0.55"/>
<circle cx="287.17" cy="379.14" r="1.05" fill="#f04848" fill-opacity="0.55"/>
<circle cx="285.77" cy="379.51" r="1.05" fill="#f04848" fill-opacity="0.55"/>
<rect x="282.7" y="377.5" width="6.9" height="2.5" fill="none" stroke="#f01e1e" stroke-width="0.75" />
<line x1="282.7" y1="378.8" x2="289.6" y2="378.8" stroke="#f01e1e" stroke-width="1"/>
<line x1="286.15" y1="377.5" x2="286.15" y2="377.5" stroke="#f01e1e" stroke-width="0.9"/>
<line x1="286.15" y1="380" x2="286.15" y2="380" stroke="#f01e1e" stroke-width="0.9"/>
<line x1="282.7" y1="377.5" x2="289.6" y2="377.5" stroke="#f01e1e" stroke-width="0.9"/>
<line x1="282.7" y1="380" x2="289.6" y2="380" stroke="#f01e1e" stroke-width="0.9"/>
<path d="M257.6 345L279 345L279 352.6" fill="none" stroke="#777" stroke-width="0.45" />
<text x="268.3" y="346.9" font-size="6.6" font-weight="bold" text-anchor="middle" fill="#222">**</text>
<line x1="259.6" y1="384.6" x2="259.6" y2="385.7" stroke="#333" stroke-width="0.4"/>
<text x="259.6" y="388.9" font-size="4.8" text-anchor="middle" fill="#222" stroke="#222" stroke-width="0.17" stroke-opacity="0.55">PD-1<tspan dy="-1.8" font-size="3">+</tspan></text>
<line x1="282.5" y1="384.6" x2="282.5" y2="385.7" stroke="#333" stroke-width="0.4"/>
<text x="282.5" y="388.9" font-size="4.8" text-anchor="middle" fill="#222" stroke="#222" stroke-width="0.17" stroke-opacity="0.55">PD-1<tspan dy="-1.8" font-size="3">-</tspan></text>
<rect x="311.2" y="339.2" width="48.7" height="45.2" fill="#fff" />
<line x1="311.2" y1="345.75" x2="359.9" y2="345.75" stroke="#ebebeb" stroke-width="0.35"/>
<line x1="311.2" y1="356.35" x2="359.9" y2="356.35" stroke="#ebebeb" stroke-width="0.35"/>
<line x1="311.2" y1="366.95" x2="359.9" y2="366.95" stroke="#ebebeb" stroke-width="0.35"/>
<line x1="311.2" y1="377.55" x2="359.9" y2="377.55" stroke="#ebebeb" stroke-width="0.35"/>
<line x1="311.2" y1="340.4" x2="359.9" y2="340.4" stroke="#ebebeb" stroke-width="0.6"/>
<line x1="311.2" y1="351.1" x2="359.9" y2="351.1" stroke="#ebebeb" stroke-width="0.6"/>
<line x1="311.2" y1="361.6" x2="359.9" y2="361.6" stroke="#ebebeb" stroke-width="0.6"/>
<line x1="311.2" y1="372.3" x2="359.9" y2="372.3" stroke="#ebebeb" stroke-width="0.6"/>
<line x1="311.2" y1="382.8" x2="359.9" y2="382.8" stroke="#ebebeb" stroke-width="0.6"/>
<line x1="324.5" y1="339.2" x2="324.5" y2="384.4" stroke="#ebebeb" stroke-width="0.6"/>
<line x1="346.5" y1="339.2" x2="346.5" y2="384.4" stroke="#ebebeb" stroke-width="0.6"/>
<rect x="311.2" y="339.2" width="48.7" height="45.2" fill="none" stroke="#555" stroke-width="0.6" />
<line x1="309.9" y1="340.4" x2="311.2" y2="340.4" stroke="#333" stroke-width="0.4"/>
<text x="309.2" y="341.59" font-size="3.3" text-anchor="end" fill="#333" stroke="#333" stroke-width="0.12" stroke-opacity="0.55">11000</text>
<line x1="309.9" y1="351.1" x2="311.2" y2="351.1" stroke="#333" stroke-width="0.4"/>
<text x="309.2" y="352.29" font-size="3.3" text-anchor="end" fill="#333" stroke="#333" stroke-width="0.12" stroke-opacity="0.55">9000</text>
<line x1="309.9" y1="361.6" x2="311.2" y2="361.6" stroke="#333" stroke-width="0.4"/>
<text x="309.2" y="362.79" font-size="3.3" text-anchor="end" fill="#333" stroke="#333" stroke-width="0.12" stroke-opacity="0.55">7000</text>
<line x1="309.9" y1="372.3" x2="311.2" y2="372.3" stroke="#333" stroke-width="0.4"/>
<text x="309.2" y="373.49" font-size="3.3" text-anchor="end" fill="#333" stroke="#333" stroke-width="0.12" stroke-opacity="0.55">5000</text>
<line x1="309.9" y1="382.8" x2="311.2" y2="382.8" stroke="#333" stroke-width="0.4"/>
<text x="309.2" y="383.99" font-size="3.3" text-anchor="end" fill="#333" stroke="#333" stroke-width="0.12" stroke-opacity="0.55">3000</text>
<circle cx="323.27" cy="368.23" r="1.05" fill="#3a62c0" fill-opacity="0.55"/>
<circle cx="319.28" cy="347.46" r="1.05" fill="#3a62c0" fill-opacity="0.55"/>
<circle cx="322.29" cy="365.45" r="1.05" fill="#3a62c0" fill-opacity="0.55"/>
<circle cx="320.31" cy="361.62" r="1.05" fill="#3a62c0" fill-opacity="0.55"/>
<circle cx="321.69" cy="360.15" r="1.05" fill="#3a62c0" fill-opacity="0.55"/>
<circle cx="319.62" cy="359.58" r="1.05" fill="#3a62c0" fill-opacity="0.55"/>
<rect x="317.9" y="353.8" width="6.6" height="14.1" fill="none" stroke="#1f48a6" stroke-width="0.75" />
<line x1="317.9" y1="358" x2="324.5" y2="358" stroke="#1f48a6" stroke-width="1"/>
<line x1="321.2" y1="341.2" x2="321.2" y2="353.8" stroke="#1f48a6" stroke-width="0.9"/>
<line x1="321.2" y1="367.9" x2="321.2" y2="374.2" stroke="#1f48a6" stroke-width="0.9"/>
<line x1="317.9" y1="341.2" x2="324.5" y2="341.2" stroke="#1f48a6" stroke-width="0.9"/>
<line x1="317.9" y1="374.2" x2="324.5" y2="374.2" stroke="#1f48a6" stroke-width="0.9"/>
<circle cx="327.41" cy="363.63" r="1.05" fill="#f04848" fill-opacity="0.55"/>
<circle cx="329.89" cy="364.33" r="1.05" fill="#f04848" fill-opacity="0.55"/>
<circle cx="328.03" cy="364.87" r="1.05" fill="#f04848" fill-opacity="0.55"/>
<circle cx="326.89" cy="363.67" r="1.05" fill="#f04848" fill-opacity="0.55"/>
<circle cx="325.9" cy="362.7" r="1.05" fill="#f04848" fill-opacity="0.55"/>
<circle cx="327.1" cy="363.72" r="1.05" fill="#f04848" fill-opacity="0.55"/>
<rect x="324.9" y="362.1" width="5.9" height="3.4" fill="none" stroke="#f01e1e" stroke-width="0.75" />
<line x1="324.9" y1="363.5" x2="330.8" y2="363.5" stroke="#f01e1e" stroke-width="1"/>
<line x1="327.85" y1="362.1" x2="327.85" y2="362.1" stroke="#f01e1e" stroke-width="0.9"/>
<line x1="327.85" y1="365.5" x2="327.85" y2="365.5" stroke="#f01e1e" stroke-width="0.9"/>
<line x1="324.9" y1="362.1" x2="330.8" y2="362.1" stroke="#f01e1e" stroke-width="0.9"/>
<line x1="324.9" y1="365.5" x2="330.8" y2="365.5" stroke="#f01e1e" stroke-width="0.9"/>
<circle cx="344.78" cy="362.83" r="1.05" fill="#3a62c0" fill-opacity="0.55"/>
<circle cx="343.32" cy="366.32" r="1.05" fill="#3a62c0" fill-opacity="0.55"/>
<circle cx="340.95" cy="359.38" r="1.05" fill="#3a62c0" fill-opacity="0.55"/>
<circle cx="341.45" cy="361.51" r="1.05" fill="#3a62c0" fill-opacity="0.55"/>
<circle cx="345.25" cy="365.94" r="1.05" fill="#3a62c0" fill-opacity="0.55"/>
<circle cx="341.65" cy="369.88" r="1.05" fill="#3a62c0" fill-opacity="0.55"/>
<rect x="339.9" y="365.2" width="6.3" height="15.2" fill="none" stroke="#1f48a6" stroke-width="0.75" />
<line x1="339.9" y1="377.8" x2="346.2" y2="377.8" stroke="#1f48a6" stroke-width="1"/>
<line x1="343.05" y1="348.6" x2="343.05" y2="365.2" stroke="#1f48a6" stroke-width="0.9"/>
<line x1="343.05" y1="380.4" x2="343.05" y2="382.8" stroke="#1f48a6" stroke-width="0.9"/>
<line x1="339.9" y1="348.6" x2="346.2" y2="348.6" stroke="#1f48a6" stroke-width="0.9"/>
<line x1="339.9" y1="382.8" x2="346.2" y2="382.8" stroke="#1f48a6" stroke-width="0.9"/>
<circle cx="350.96" cy="374.4" r="1.05" fill="#f04848" fill-opacity="0.55"/>
<circle cx="351.44" cy="372.97" r="1.05" fill="#f04848" fill-opacity="0.55"/>
<circle cx="350.93" cy="373.22" r="1.05" fill="#f04848" fill-opacity="0.55"/>
<circle cx="351.77" cy="369.53" r="1.05" fill="#f04848" fill-opacity="0.55"/>
<circle cx="348.16" cy="375.02" r="1.05" fill="#f04848" fill-opacity="0.55"/>
<circle cx="350.6" cy="373.14" r="1.05" fill="#f04848" fill-opacity="0.55"/>
<rect x="346.5" y="370.2" width="6.3" height="7.1" fill="none" stroke="#f01e1e" stroke-width="0.75" />
<line x1="346.5" y1="373.4" x2="352.8" y2="373.4" stroke="#f01e1e" stroke-width="1"/>
<line x1="349.65" y1="364.4" x2="349.65" y2="370.2" stroke="#f01e1e" stroke-width="0.9"/>
<line x1="349.65" y1="377.3" x2="349.65" y2="377.3" stroke="#f01e1e" stroke-width="0.9"/>
<line x1="346.5" y1="364.4" x2="352.8" y2="364.4" stroke="#f01e1e" stroke-width="0.9"/>
<line x1="346.5" y1="377.3" x2="352.8" y2="377.3" stroke="#f01e1e" stroke-width="0.9"/>
<path d="M323 343.2L343.7 343.2L343.7 345.8" fill="none" stroke="#777" stroke-width="0.45" />
<text x="333.35" y="345.1" font-size="6.6" font-weight="bold" text-anchor="middle" fill="#222">**</text>
<line x1="324.5" y1="384.4" x2="324.5" y2="385.5" stroke="#333" stroke-width="0.4"/>
<text x="324.5" y="388.9" font-size="4.8" text-anchor="middle" fill="#222" stroke="#222" stroke-width="0.17" stroke-opacity="0.55">PD-1<tspan dy="-1.8" font-size="3">+</tspan></text>
<line x1="346.5" y1="384.4" x2="346.5" y2="385.5" stroke="#333" stroke-width="0.4"/>
<text x="346.5" y="388.9" font-size="4.8" text-anchor="middle" fill="#222" stroke="#222" stroke-width="0.17" stroke-opacity="0.55">PD-1<tspan dy="-1.8" font-size="3">-</tspan></text>
<rect x="374.5" y="339.3" width="48.5" height="44.9" fill="#fff" />
<line x1="374.5" y1="348.85" x2="423" y2="348.85" stroke="#ebebeb" stroke-width="0.35"/>
<line x1="374.5" y1="359.7" x2="423" y2="359.7" stroke="#ebebeb" stroke-width="0.35"/>
<line x1="374.5" y1="370.45" x2="423" y2="370.45" stroke="#ebebeb" stroke-width="0.35"/>
<line x1="374.5" y1="343.5" x2="423" y2="343.5" stroke="#ebebeb" stroke-width="0.6"/>
<line x1="374.5" y1="354.2" x2="423" y2="354.2" stroke="#ebebeb" stroke-width="0.6"/>
<line x1="374.5" y1="365.2" x2="423" y2="365.2" stroke="#ebebeb" stroke-width="0.6"/>
<line x1="374.5" y1="375.7" x2="423" y2="375.7" stroke="#ebebeb" stroke-width="0.6"/>
<line x1="387.9" y1="339.3" x2="387.9" y2="384.2" stroke="#ebebeb" stroke-width="0.6"/>
<line x1="409.5" y1="339.3" x2="409.5" y2="384.2" stroke="#ebebeb" stroke-width="0.6"/>
<rect x="374.5" y="339.3" width="48.5" height="44.9" fill="none" stroke="#555" stroke-width="0.6" />
<line x1="373.2" y1="343.5" x2="374.5" y2="343.5" stroke="#333" stroke-width="0.4"/>
<text x="372.5" y="344.69" font-size="3.3" text-anchor="end" fill="#333" stroke="#333" stroke-width="0.12" stroke-opacity="0.55">18000</text>
<line x1="373.2" y1="354.2" x2="374.5" y2="354.2" stroke="#333" stroke-width="0.4"/>
<text x="372.5" y="355.39" font-size="3.3" text-anchor="end" fill="#333" stroke="#333" stroke-width="0.12" stroke-opacity="0.55">15000</text>
<line x1="373.2" y1="365.2" x2="374.5" y2="365.2" stroke="#333" stroke-width="0.4"/>
<text x="372.5" y="366.39" font-size="3.3" text-anchor="end" fill="#333" stroke="#333" stroke-width="0.12" stroke-opacity="0.55">12000</text>
<line x1="373.2" y1="375.7" x2="374.5" y2="375.7" stroke="#333" stroke-width="0.4"/>
<text x="372.5" y="376.89" font-size="3.3" text-anchor="end" fill="#333" stroke="#333" stroke-width="0.12" stroke-opacity="0.55">9000</text>
<circle cx="384.84" cy="353.46" r="1.05" fill="#3a62c0" fill-opacity="0.55"/>
<circle cx="385.09" cy="356.43" r="1.05" fill="#3a62c0" fill-opacity="0.55"/>
<circle cx="382.79" cy="362.17" r="1.05" fill="#3a62c0" fill-opacity="0.55"/>
<circle cx="386.09" cy="348.41" r="1.05" fill="#3a62c0" fill-opacity="0.55"/>
<circle cx="383.52" cy="353.94" r="1.05" fill="#3a62c0" fill-opacity="0.55"/>
<circle cx="384.52" cy="370.49" r="1.05" fill="#3a62c0" fill-opacity="0.55"/>
<rect x="381.6" y="353.4" width="6.1" height="14" fill="none" stroke="#1f48a6" stroke-width="0.75" />
<line x1="381.6" y1="362.6" x2="387.7" y2="362.6" stroke="#1f48a6" stroke-width="1"/>
<line x1="384.65" y1="343.3" x2="384.65" y2="353.4" stroke="#1f48a6" stroke-width="0.9"/>
<line x1="384.65" y1="367.4" x2="384.65" y2="375.4" stroke="#1f48a6" stroke-width="0.9"/>
<line x1="381.6" y1="343.3" x2="387.7" y2="343.3" stroke="#1f48a6" stroke-width="0.9"/>
<line x1="381.6" y1="375.4" x2="387.7" y2="375.4" stroke="#1f48a6" stroke-width="0.9"/>
<circle cx="391.09" cy="363.55" r="1.05" fill="#f04848" fill-opacity="0.55"/>
<circle cx="389.63" cy="359.3" r="1.05" fill="#f04848" fill-opacity="0.55"/>
<circle cx="392.85" cy="359.21" r="1.05" fill="#f04848" fill-opacity="0.55"/>
<circle cx="392.28" cy="356.8" r="1.05" fill="#f04848" fill-opacity="0.55"/>
<circle cx="389.25" cy="360" r="1.05" fill="#f04848" fill-opacity="0.55"/>
<circle cx="391.61" cy="361.87" r="1.05" fill="#f04848" fill-opacity="0.55"/>
<rect x="388" y="352.9" width="6.4" height="18.5" fill="none" stroke="#f01e1e" stroke-width="0.75" />
<line x1="388" y1="363" x2="394.4" y2="363" stroke="#f01e1e" stroke-width="1"/>
<line x1="391.2" y1="340.9" x2="391.2" y2="352.9" stroke="#f01e1e" stroke-width="0.9"/>
<line x1="391.2" y1="371.4" x2="391.2" y2="371.7" stroke="#f01e1e" stroke-width="0.9"/>
<line x1="388" y1="340.9" x2="394.4" y2="340.9" stroke="#f01e1e" stroke-width="0.9"/>
<line x1="388" y1="371.7" x2="394.4" y2="371.7" stroke="#f01e1e" stroke-width="0.9"/>
<circle cx="403.95" cy="369.53" r="1.05" fill="#3a62c0" fill-opacity="0.55"/>
<circle cx="405.83" cy="377.11" r="1.05" fill="#3a62c0" fill-opacity="0.55"/>
<circle cx="407.57" cy="375.14" r="1.05" fill="#3a62c0" fill-opacity="0.55"/>
<circle cx="407.75" cy="375.08" r="1.05" fill="#3a62c0" fill-opacity="0.55"/>
<circle cx="407.23" cy="370.79" r="1.05" fill="#3a62c0" fill-opacity="0.55"/>
<circle cx="407.81" cy="371.46" r="1.05" fill="#3a62c0" fill-opacity="0.55"/>
<rect x="402.9" y="372.2" width="6.1" height="5.3" fill="none" stroke="#1f48a6" stroke-width="0.75" />
<line x1="402.9" y1="375.4" x2="409" y2="375.4" stroke="#1f48a6" stroke-width="1"/>
<line x1="405.95" y1="362.6" x2="405.95" y2="372.2" stroke="#1f48a6" stroke-width="0.9"/>
<line x1="405.95" y1="377.5" x2="405.95" y2="381.8" stroke="#1f48a6" stroke-width="0.9"/>
<line x1="402.9" y1="362.6" x2="409" y2="362.6" stroke="#1f48a6" stroke-width="0.9"/>
<line x1="402.9" y1="381.8" x2="409" y2="381.8" stroke="#1f48a6" stroke-width="0.9"/>
<circle cx="411.22" cy="375.88" r="1.05" fill="#f04848" fill-opacity="0.55"/>
<circle cx="411.76" cy="368.76" r="1.05" fill="#f04848" fill-opacity="0.55"/>
<circle cx="412.76" cy="376.71" r="1.05" fill="#f04848" fill-opacity="0.55"/>
<circle cx="412.14" cy="373.46" r="1.05" fill="#f04848" fill-opacity="0.55"/>
<circle cx="412.53" cy="372.32" r="1.05" fill="#f04848" fill-opacity="0.55"/>
<circle cx="413.44" cy="370.82" r="1.05" fill="#f04848" fill-opacity="0.55"/>
<rect x="409.8" y="366.6" width="6.5" height="11.2" fill="none" stroke="#f01e1e" stroke-width="0.75" />
<line x1="409.8" y1="373" x2="416.3" y2="373" stroke="#f01e1e" stroke-width="1"/>
<line x1="413.05" y1="365.4" x2="413.05" y2="366.6" stroke="#f01e1e" stroke-width="0.9"/>
<line x1="413.05" y1="377.8" x2="413.05" y2="379.1" stroke="#f01e1e" stroke-width="0.9"/>
<line x1="409.8" y1="365.4" x2="416.3" y2="365.4" stroke="#f01e1e" stroke-width="0.9"/>
<line x1="409.8" y1="379.1" x2="416.3" y2="379.1" stroke="#f01e1e" stroke-width="0.9"/>
<path d="M387.7 345.4L407.7 345.4L407.7 354" fill="none" stroke="#777" stroke-width="0.45" />
<text x="397.7" y="347.3" font-size="6.6" font-weight="bold" text-anchor="middle" fill="#222">**</text>
<line x1="387.9" y1="384.2" x2="387.9" y2="385.3" stroke="#333" stroke-width="0.4"/>
<text x="387.9" y="388.9" font-size="4.8" text-anchor="middle" fill="#222" stroke="#222" stroke-width="0.17" stroke-opacity="0.55">PD-1<tspan dy="-1.8" font-size="3">+</tspan></text>
<line x1="409.5" y1="384.2" x2="409.5" y2="385.3" stroke="#333" stroke-width="0.4"/>
<text x="409.5" y="388.9" font-size="4.8" text-anchor="middle" fill="#222" stroke="#222" stroke-width="0.17" stroke-opacity="0.55">PD-1<tspan dy="-1.8" font-size="3">-</tspan></text>
<rect x="435.8" y="339.3" width="51" height="44.9" fill="#fff" />
<line x1="435.8" y1="356.15" x2="486.8" y2="356.15" stroke="#ebebeb" stroke-width="0.35"/>
<line x1="435.8" y1="369" x2="486.8" y2="369" stroke="#ebebeb" stroke-width="0.35"/>
<line x1="435.8" y1="349.7" x2="486.8" y2="349.7" stroke="#ebebeb" stroke-width="0.6"/>
<line x1="435.8" y1="362.6" x2="486.8" y2="362.6" stroke="#ebebeb" stroke-width="0.6"/>
<line x1="435.8" y1="375.4" x2="486.8" y2="375.4" stroke="#ebebeb" stroke-width="0.6"/>
<line x1="449.8" y1="339.3" x2="449.8" y2="384.2" stroke="#ebebeb" stroke-width="0.6"/>
<line x1="472.9" y1="339.3" x2="472.9" y2="384.2" stroke="#ebebeb" stroke-width="0.6"/>
<rect x="435.8" y="339.3" width="51" height="44.9" fill="none" stroke="#555" stroke-width="0.6" />
<line x1="434.5" y1="349.7" x2="435.8" y2="349.7" stroke="#333" stroke-width="0.4"/>
<text x="433.8" y="350.89" font-size="3.3" text-anchor="end" fill="#333" stroke="#333" stroke-width="0.12" stroke-opacity="0.55">1200</text>
<line x1="434.5" y1="362.6" x2="435.8" y2="362.6" stroke="#333" stroke-width="0.4"/>
<text x="433.8" y="363.79" font-size="3.3" text-anchor="end" fill="#333" stroke="#333" stroke-width="0.12" stroke-opacity="0.55">900</text>
<line x1="434.5" y1="375.4" x2="435.8" y2="375.4" stroke="#333" stroke-width="0.4"/>
<text x="433.8" y="376.59" font-size="3.3" text-anchor="end" fill="#333" stroke="#333" stroke-width="0.12" stroke-opacity="0.55">600</text>
<circle cx="444.52" cy="347.08" r="1.05" fill="#3a62c0" fill-opacity="0.55"/>
<circle cx="444.75" cy="349.27" r="1.05" fill="#3a62c0" fill-opacity="0.55"/>
<circle cx="445.86" cy="344.75" r="1.05" fill="#3a62c0" fill-opacity="0.55"/>
<circle cx="447.65" cy="356.43" r="1.05" fill="#3a62c0" fill-opacity="0.55"/>
<circle cx="445.05" cy="354.34" r="1.05" fill="#3a62c0" fill-opacity="0.55"/>
<circle cx="445.3" cy="351.2" r="1.05" fill="#3a62c0" fill-opacity="0.55"/>
<rect x="443.1" y="346.5" width="6.4" height="10.8" fill="none" stroke="#1f48a6" stroke-width="0.75" />
<line x1="443.1" y1="353.7" x2="449.5" y2="353.7" stroke="#1f48a6" stroke-width="1"/>
<line x1="446.3" y1="340.9" x2="446.3" y2="346.5" stroke="#1f48a6" stroke-width="0.9"/>
<line x1="446.3" y1="357.3" x2="446.3" y2="360.5" stroke="#1f48a6" stroke-width="0.9"/>
<line x1="443.1" y1="340.9" x2="449.5" y2="340.9" stroke="#1f48a6" stroke-width="0.9"/>
<line x1="443.1" y1="360.5" x2="449.5" y2="360.5" stroke="#1f48a6" stroke-width="0.9"/>
<circle cx="451.74" cy="349.69" r="1.05" fill="#f04848" fill-opacity="0.55"/>
<circle cx="455.42" cy="350.21" r="1.05" fill="#f04848" fill-opacity="0.55"/>
<circle cx="454.87" cy="357.83" r="1.05" fill="#f04848" fill-opacity="0.55"/>
<circle cx="452.13" cy="357.47" r="1.05" fill="#f04848" fill-opacity="0.55"/>
<circle cx="454.07" cy="351.39" r="1.05" fill="#f04848" fill-opacity="0.55"/>
<circle cx="455.09" cy="356.62" r="1.05" fill="#f04848" fill-opacity="0.55"/>
<rect x="450.3" y="348.9" width="6.4" height="8.8" fill="none" stroke="#f01e1e" stroke-width="0.75" />
<line x1="450.3" y1="353.7" x2="456.7" y2="353.7" stroke="#f01e1e" stroke-width="1"/>
<line x1="453.5" y1="344.9" x2="453.5" y2="348.9" stroke="#f01e1e" stroke-width="0.9"/>
<line x1="453.5" y1="357.7" x2="453.5" y2="362.6" stroke="#f01e1e" stroke-width="0.9"/>
<line x1="450.3" y1="344.9" x2="456.7" y2="344.9" stroke="#f01e1e" stroke-width="0.9"/>
<line x1="450.3" y1="362.6" x2="456.7" y2="362.6" stroke="#f01e1e" stroke-width="0.9"/>
<circle cx="467.69" cy="377.92" r="1.05" fill="#3a62c0" fill-opacity="0.55"/>
<circle cx="470.18" cy="374.08" r="1.05" fill="#3a62c0" fill-opacity="0.55"/>
<circle cx="468.07" cy="372.68" r="1.05" fill="#3a62c0" fill-opacity="0.55"/>
<circle cx="467.7" cy="372.23" r="1.05" fill="#3a62c0" fill-opacity="0.55"/>
<circle cx="471.01" cy="378.68" r="1.05" fill="#3a62c0" fill-opacity="0.55"/>
<circle cx="468.6" cy="373.27" r="1.05" fill="#3a62c0" fill-opacity="0.55"/>
<rect x="466.4" y="366.6" width="6.1" height="11.5" fill="none" stroke="#1f48a6" stroke-width="0.75" />
<line x1="466.4" y1="372.2" x2="472.5" y2="372.2" stroke="#1f48a6" stroke-width="1"/>
<line x1="469.45" y1="362.6" x2="469.45" y2="366.6" stroke="#1f48a6" stroke-width="0.9"/>
<line x1="469.45" y1="378.1" x2="469.45" y2="382.6" stroke="#1f48a6" stroke-width="0.9"/>
<line x1="466.4" y1="362.6" x2="472.5" y2="362.6" stroke="#1f48a6" stroke-width="0.9"/>
<line x1="466.4" y1="382.6" x2="472.5" y2="382.6" stroke="#1f48a6" stroke-width="0.9"/>
<circle cx="477.12" cy="376.92" r="1.05" fill="#f04848" fill-opacity="0.55"/>
<circle cx="478.36" cy="376.59" r="1.05" fill="#f04848" fill-opacity="0.55"/>
<circle cx="476.41" cy="371.95" r="1.05" fill="#f04848" fill-opacity="0.55"/>
<circle cx="476.49" cy="373.08" r="1.05" fill="#f04848" fill-opacity="0.55"/>
<circle cx="475.93" cy="367.65" r="1.05" fill="#f04848" fill-opacity="0.55"/>
<circle cx="474.75" cy="375.72" r="1.05" fill="#f04848" fill-opacity="0.55"/>
<rect x="473.6" y="366.9" width="6.4" height="9" fill="none" stroke="#f01e1e" stroke-width="0.75" />
<line x1="473.6" y1="371.5" x2="480" y2="371.5" stroke="#f01e1e" stroke-width="1"/>
<line x1="476.8" y1="363" x2="476.8" y2="366.9" stroke="#f01e1e" stroke-width="0.9"/>
<line x1="476.8" y1="375.9" x2="476.8" y2="380.7" stroke="#f01e1e" stroke-width="0.9"/>
<line x1="473.6" y1="363" x2="480" y2="363" stroke="#f01e1e" stroke-width="0.9"/>
<line x1="473.6" y1="380.7" x2="480" y2="380.7" stroke="#f01e1e" stroke-width="0.9"/>
<path d="M448.7 345.4L469.6 345.4L469.6 350" fill="none" stroke="#777" stroke-width="0.45" />
<text x="459.15" y="347.3" font-size="6.6" font-weight="bold" text-anchor="middle" fill="#222">**</text>
<line x1="449.8" y1="384.2" x2="449.8" y2="385.3" stroke="#333" stroke-width="0.4"/>
<text x="449.8" y="388.9" font-size="4.8" text-anchor="middle" fill="#222" stroke="#222" stroke-width="0.17" stroke-opacity="0.55">PD-1<tspan dy="-1.8" font-size="3">+</tspan></text>
<line x1="472.9" y1="384.2" x2="472.9" y2="385.3" stroke="#333" stroke-width="0.4"/>
<text x="472.9" y="388.9" font-size="4.8" text-anchor="middle" fill="#222" stroke="#222" stroke-width="0.17" stroke-opacity="0.55">PD-1<tspan dy="-1.8" font-size="3">-</tspan></text>
<rect x="247.6" y="404.2" width="49.4" height="45.2" fill="#fff" />
<line x1="247.6" y1="411.85" x2="297" y2="411.85" stroke="#ebebeb" stroke-width="0.35"/>
<line x1="247.6" y1="423.05" x2="297" y2="423.05" stroke="#ebebeb" stroke-width="0.35"/>
<line x1="247.6" y1="434.5" x2="297" y2="434.5" stroke="#ebebeb" stroke-width="0.35"/>
<line x1="247.6" y1="406.4" x2="297" y2="406.4" stroke="#ebebeb" stroke-width="0.6"/>
<line x1="247.6" y1="417.3" x2="297" y2="417.3" stroke="#ebebeb" stroke-width="0.6"/>
<line x1="247.6" y1="428.8" x2="297" y2="428.8" stroke="#ebebeb" stroke-width="0.6"/>
<line x1="247.6" y1="440.2" x2="297" y2="440.2" stroke="#ebebeb" stroke-width="0.6"/>
<line x1="261" y1="404.2" x2="261" y2="449.4" stroke="#ebebeb" stroke-width="0.6"/>
<line x1="283" y1="404.2" x2="283" y2="449.4" stroke="#ebebeb" stroke-width="0.6"/>
<rect x="247.6" y="404.2" width="49.4" height="45.2" fill="none" stroke="#555" stroke-width="0.6" />
<line x1="246.3" y1="406.4" x2="247.6" y2="406.4" stroke="#333" stroke-width="0.4"/>
<text x="245.6" y="407.59" font-size="3.3" text-anchor="end" fill="#333" stroke="#333" stroke-width="0.12" stroke-opacity="0.55">10000</text>
<line x1="246.3" y1="417.3" x2="247.6" y2="417.3" stroke="#333" stroke-width="0.4"/>
<text x="245.6" y="418.49" font-size="3.3" text-anchor="end" fill="#333" stroke="#333" stroke-width="0.12" stroke-opacity="0.55">8000</text>
<line x1="246.3" y1="428.8" x2="247.6" y2="428.8" stroke="#333" stroke-width="0.4"/>
<text x="245.6" y="429.99" font-size="3.3" text-anchor="end" fill="#333" stroke="#333" stroke-width="0.12" stroke-opacity="0.55">6000</text>
<line x1="246.3" y1="440.2" x2="247.6" y2="440.2" stroke="#333" stroke-width="0.4"/>
<text x="245.6" y="441.39" font-size="3.3" text-anchor="end" fill="#333" stroke="#333" stroke-width="0.12" stroke-opacity="0.55">4000</text>
<circle cx="258.52" cy="430.16" r="1.05" fill="#3a62c0" fill-opacity="0.55"/>
<circle cx="259.4" cy="435.15" r="1.05" fill="#3a62c0" fill-opacity="0.55"/>
<circle cx="259.31" cy="433.55" r="1.05" fill="#3a62c0" fill-opacity="0.55"/>
<circle cx="257.3" cy="412.95" r="1.05" fill="#3a62c0" fill-opacity="0.55"/>
<circle cx="258.11" cy="439.45" r="1.05" fill="#3a62c0" fill-opacity="0.55"/>
<circle cx="255.74" cy="438.22" r="1.05" fill="#3a62c0" fill-opacity="0.55"/>
<rect x="254.3" y="418.5" width="6.3" height="21.7" fill="none" stroke="#1f48a6" stroke-width="0.75" />
<line x1="254.3" y1="429.4" x2="260.6" y2="429.4" stroke="#1f48a6" stroke-width="1"/>
<line x1="257.45" y1="405.9" x2="257.45" y2="418.5" stroke="#1f48a6" stroke-width="0.9"/>
<line x1="257.45" y1="440.2" x2="257.45" y2="447.3" stroke="#1f48a6" stroke-width="0.9"/>
<line x1="254.3" y1="405.9" x2="260.6" y2="405.9" stroke="#1f48a6" stroke-width="0.9"/>
<line x1="254.3" y1="447.3" x2="260.6" y2="447.3" stroke="#1f48a6" stroke-width="0.9"/>
<circle cx="263.36" cy="434.2" r="1.05" fill="#f04848" fill-opacity="0.55"/>
<circle cx="264.83" cy="434.93" r="1.05" fill="#f04848" fill-opacity="0.55"/>
<circle cx="263.23" cy="429.73" r="1.05" fill="#f04848" fill-opacity="0.55"/>
<circle cx="266.37" cy="432.34" r="1.05" fill="#f04848" fill-opacity="0.55"/>
<circle cx="262.98" cy="437.1" r="1.05" fill="#f04848" fill-opacity="0.55"/>
<circle cx="262.88" cy="437.41" r="1.05" fill="#f04848" fill-opacity="0.55"/>
<rect x="261.3" y="429.4" width="6.4" height="10.8" fill="none" stroke="#f01e1e" stroke-width="0.75" />
<line x1="261.3" y1="434.4" x2="267.7" y2="434.4" stroke="#f01e1e" stroke-width="1"/>
<line x1="264.5" y1="427.5" x2="264.5" y2="429.4" stroke="#f01e1e" stroke-width="0.9"/>
<line x1="264.5" y1="440.2" x2="264.5" y2="441.5" stroke="#f01e1e" stroke-width="0.9"/>
<line x1="261.3" y1="427.5" x2="267.7" y2="427.5" stroke="#f01e1e" stroke-width="0.9"/>
<line x1="261.3" y1="441.5" x2="267.7" y2="441.5" stroke="#f01e1e" stroke-width="0.9"/>
<circle cx="277.9" cy="434.87" r="1.05" fill="#3a62c0" fill-opacity="0.55"/>
<circle cx="281.19" cy="422.46" r="1.05" fill="#3a62c0" fill-opacity="0.55"/>
<circle cx="278.3" cy="426.64" r="1.05" fill="#3a62c0" fill-opacity="0.55"/>
<circle cx="281.19" cy="442.23" r="1.05" fill="#3a62c0" fill-opacity="0.55"/>
<circle cx="281.59" cy="428.25" r="1.05" fill="#3a62c0" fill-opacity="0.55"/>
<circle cx="280.33" cy="433.29" r="1.05" fill="#3a62c0" fill-opacity="0.55"/>
<rect x="276.4" y="425.2" width="6.3" height="15.9" fill="none" stroke="#1f48a6" stroke-width="0.75" />
<line x1="276.4" y1="430.5" x2="282.7" y2="430.5" stroke="#1f48a6" stroke-width="1"/>
<line x1="279.55" y1="418.1" x2="279.55" y2="425.2" stroke="#1f48a6" stroke-width="0.9"/>
<line x1="279.55" y1="441.1" x2="279.55" y2="446.9" stroke="#1f48a6" stroke-width="0.9"/>
<line x1="276.4" y1="418.1" x2="282.7" y2="418.1" stroke="#1f48a6" stroke-width="0.9"/>
<line x1="276.4" y1="446.9" x2="282.7" y2="446.9" stroke="#1f48a6" stroke-width="0.9"/>
<circle cx="288.21" cy="436.73" r="1.05" fill="#f04848" fill-opacity="0.55"/>
<circle cx="288.32" cy="440.47" r="1.05" fill="#f04848" fill-opacity="0.55"/>
<circle cx="285.43" cy="442.03" r="1.05" fill="#f04848" fill-opacity="0.55"/>
<circle cx="284.85" cy="437.93" r="1.05" fill="#f04848" fill-opacity="0.55"/>
<circle cx="284.41" cy="436.27" r="1.05" fill="#f04848" fill-opacity="0.55"/>
<circle cx="286.75" cy="437.47" r="1.05" fill="#f04848" fill-opacity="0.55"/>
<rect x="283.2" y="434.9" width="6.2" height="8.7" fill="none" stroke="#f01e1e" stroke-width="0.75" />
<line x1="283.2" y1="438.6" x2="289.4" y2="438.6" stroke="#f01e1e" stroke-width="1"/>
<line x1="286.3" y1="433.5" x2="286.3" y2="434.9" stroke="#f01e1e" stroke-width="0.9"/>
<line x1="286.3" y1="443.6" x2="286.3" y2="444.5" stroke="#f01e1e" stroke-width="0.9"/>
<line x1="283.2" y1="433.5" x2="289.4" y2="433.5" stroke="#f01e1e" stroke-width="0.9"/>
<line x1="283.2" y1="444.5" x2="289.4" y2="444.5" stroke="#f01e1e" stroke-width="0.9"/>
<path d="M257.6 408.1L279.4 408.1L279.4 411.5" fill="none" stroke="#777" stroke-width="0.45" />
<text x="268.5" y="410" font-size="6.6" font-weight="bold" text-anchor="middle" fill="#222">*</text>
<line x1="261" y1="449.4" x2="261" y2="450.5" stroke="#333" stroke-width="0.4"/>
<text x="261" y="454.5" font-size="4.8" text-anchor="middle" fill="#222" stroke="#222" stroke-width="0.17" stroke-opacity="0.55">PD-1<tspan dy="-1.8" font-size="3">+</tspan></text>
<line x1="283" y1="449.4" x2="283" y2="450.5" stroke="#333" stroke-width="0.4"/>
<text x="283" y="454.5" font-size="4.8" text-anchor="middle" fill="#222" stroke="#222" stroke-width="0.17" stroke-opacity="0.55">PD-1<tspan dy="-1.8" font-size="3">-</tspan></text>
<rect x="311.1" y="404.1" width="48.6" height="45.3" fill="#fff" />
<line x1="311.1" y1="417.15" x2="359.7" y2="417.15" stroke="#ebebeb" stroke-width="0.35"/>
<line x1="311.1" y1="428.7" x2="359.7" y2="428.7" stroke="#ebebeb" stroke-width="0.35"/>
<line x1="311.1" y1="440.35" x2="359.7" y2="440.35" stroke="#ebebeb" stroke-width="0.35"/>
<line x1="311.1" y1="411.4" x2="359.7" y2="411.4" stroke="#ebebeb" stroke-width="0.6"/>
<line x1="311.1" y1="422.9" x2="359.7" y2="422.9" stroke="#ebebeb" stroke-width="0.6"/>
<line x1="311.1" y1="434.5" x2="359.7" y2="434.5" stroke="#ebebeb" stroke-width="0.6"/>
<line x1="311.1" y1="446.2" x2="359.7" y2="446.2" stroke="#ebebeb" stroke-width="0.6"/>
<line x1="324.7" y1="404.1" x2="324.7" y2="449.4" stroke="#ebebeb" stroke-width="0.6"/>
<line x1="346.8" y1="404.1" x2="346.8" y2="449.4" stroke="#ebebeb" stroke-width="0.6"/>
<rect x="311.1" y="404.1" width="48.6" height="45.3" fill="none" stroke="#555" stroke-width="0.6" />
<line x1="309.8" y1="411.4" x2="311.1" y2="411.4" stroke="#333" stroke-width="0.4"/>
<text x="309.1" y="412.59" font-size="3.3" text-anchor="end" fill="#333" stroke="#333" stroke-width="0.12" stroke-opacity="0.55">12000</text>
<line x1="309.8" y1="422.9" x2="311.1" y2="422.9" stroke="#333" stroke-width="0.4"/>
<text x="309.1" y="424.09" font-size="3.3" text-anchor="end" fill="#333" stroke="#333" stroke-width="0.12" stroke-opacity="0.55">10000</text>
<line x1="309.8" y1="434.5" x2="311.1" y2="434.5" stroke="#333" stroke-width="0.4"/>
<text x="309.1" y="435.69" font-size="3.3" text-anchor="end" fill="#333" stroke="#333" stroke-width="0.12" stroke-opacity="0.55">8000</text>
<line x1="309.8" y1="446.2" x2="311.1" y2="446.2" stroke="#333" stroke-width="0.4"/>
<text x="309.1" y="447.39" font-size="3.3" text-anchor="end" fill="#333" stroke="#333" stroke-width="0.12" stroke-opacity="0.55">6000</text>
<circle cx="322.72" cy="432.34" r="1.05" fill="#3a62c0" fill-opacity="0.55"/>
<circle cx="320.33" cy="424.31" r="1.05" fill="#3a62c0" fill-opacity="0.55"/>
<circle cx="322.05" cy="411.69" r="1.05" fill="#3a62c0" fill-opacity="0.55"/>
<circle cx="322.46" cy="423.93" r="1.05" fill="#3a62c0" fill-opacity="0.55"/>
<circle cx="322.5" cy="421.4" r="1.05" fill="#3a62c0" fill-opacity="0.55"/>
<circle cx="322.64" cy="418.78" r="1.05" fill="#3a62c0" fill-opacity="0.55"/>
<rect x="318.3" y="416" width="6.1" height="20.6" fill="none" stroke="#1f48a6" stroke-width="0.75" />
<line x1="318.3" y1="431" x2="324.4" y2="431" stroke="#1f48a6" stroke-width="1"/>
<line x1="321.35" y1="406.1" x2="321.35" y2="416" stroke="#1f48a6" stroke-width="0.9"/>
<line x1="321.35" y1="436.6" x2="321.35" y2="443.3" stroke="#1f48a6" stroke-width="0.9"/>
<line x1="318.3" y1="406.1" x2="324.4" y2="406.1" stroke="#1f48a6" stroke-width="0.9"/>
<line x1="318.3" y1="443.3" x2="324.4" y2="443.3" stroke="#1f48a6" stroke-width="0.9"/>
<circle cx="327.51" cy="431.55" r="1.05" fill="#f04848" fill-opacity="0.55"/>
<circle cx="328.58" cy="428.93" r="1.05" fill="#f04848" fill-opacity="0.55"/>
<circle cx="328.06" cy="424.19" r="1.05" fill="#f04848" fill-opacity="0.55"/>
<circle cx="326.91" cy="432.59" r="1.05" fill="#f04848" fill-opacity="0.55"/>
<circle cx="328.59" cy="432.56" r="1.05" fill="#f04848" fill-opacity="0.55"/>
<circle cx="327.19" cy="433.12" r="1.05" fill="#f04848" fill-opacity="0.55"/>
<rect x="325" y="421.3" width="5.7" height="11.3" fill="none" stroke="#f01e1e" stroke-width="0.75" />
<line x1="325" y1="426.6" x2="330.7" y2="426.6" stroke="#f01e1e" stroke-width="1"/>
<line x1="327.85" y1="418.6" x2="327.85" y2="421.3" stroke="#f01e1e" stroke-width="0.9"/>
<line x1="327.85" y1="432.6" x2="327.85" y2="438.2" stroke="#f01e1e" stroke-width="0.9"/>
<line x1="325" y1="418.6" x2="330.7" y2="418.6" stroke="#f01e1e" stroke-width="0.9"/>
<line x1="325" y1="438.2" x2="330.7" y2="438.2" stroke="#f01e1e" stroke-width="0.9"/>
<circle cx="344.66" cy="421.31" r="1.05" fill="#3a62c0" fill-opacity="0.55"/>
<circle cx="343.17" cy="437.3" r="1.05" fill="#3a62c0" fill-opacity="0.55"/>
<circle cx="342.13" cy="421.32" r="1.05" fill="#3a62c0" fill-opacity="0.55"/>
<circle cx="342.52" cy="433.48" r="1.05" fill="#3a62c0" fill-opacity="0.55"/>
<circle cx="343.77" cy="440.59" r="1.05" fill="#3a62c0" fill-opacity="0.55"/>
<circle cx="344.05" cy="423.73" r="1.05" fill="#3a62c0" fill-opacity="0.55"/>
<rect x="340.4" y="425.7" width="6" height="16" fill="none" stroke="#1f48a6" stroke-width="0.75" />
<line x1="340.4" y1="437.4" x2="346.4" y2="437.4" stroke="#1f48a6" stroke-width="1"/>
<line x1="343.4" y1="414.4" x2="343.4" y2="425.7" stroke="#1f48a6" stroke-width="0.9"/>
<line x1="343.4" y1="441.7" x2="343.4" y2="446.5" stroke="#1f48a6" stroke-width="0.9"/>
<line x1="340.4" y1="414.4" x2="346.4" y2="414.4" stroke="#1f48a6" stroke-width="0.9"/>
<line x1="340.4" y1="446.5" x2="346.4" y2="446.5" stroke="#1f48a6" stroke-width="0.9"/>
<circle cx="351.7" cy="433.97" r="1.05" fill="#f04848" fill-opacity="0.55"/>
<circle cx="350.06" cy="442.54" r="1.05" fill="#f04848" fill-opacity="0.55"/>
<circle cx="350.78" cy="438.41" r="1.05" fill="#f04848" fill-opacity="0.55"/>
<circle cx="351.87" cy="440.92" r="1.05" fill="#f04848" fill-opacity="0.55"/>
<circle cx="349.46" cy="428.79" r="1.05" fill="#f04848" fill-opacity="0.55"/>
<circle cx="349.23" cy="437.74" r="1.05" fill="#f04848" fill-opacity="0.55"/>
<rect x="347.2" y="429.3" width="5.6" height="12.1" fill="none" stroke="#f01e1e" stroke-width="0.75" />
<line x1="347.2" y1="435" x2="352.8" y2="435" stroke="#f01e1e" stroke-width="1"/>
<line x1="350" y1="425" x2="350" y2="429.3" stroke="#f01e1e" stroke-width="0.9"/>
<line x1="350" y1="441.4" x2="350" y2="447.3" stroke="#f01e1e" stroke-width="0.9"/>
<line x1="347.2" y1="425" x2="352.8" y2="425" stroke="#f01e1e" stroke-width="0.9"/>
<line x1="347.2" y1="447.3" x2="352.8" y2="447.3" stroke="#f01e1e" stroke-width="0.9"/>
<path d="M321.5 409L343.2 409L343.2 413.5" fill="none" stroke="#777" stroke-width="0.45" />
<text x="332.35" y="410.9" font-size="6.6" font-weight="bold" text-anchor="middle" fill="#222">**</text>
<line x1="324.7" y1="449.4" x2="324.7" y2="450.5" stroke="#333" stroke-width="0.4"/>
<text x="324.7" y="454.5" font-size="4.8" text-anchor="middle" fill="#222" stroke="#222" stroke-width="0.17" stroke-opacity="0.55">PD-1<tspan dy="-1.8" font-size="3">+</tspan></text>
<line x1="346.8" y1="449.4" x2="346.8" y2="450.5" stroke="#333" stroke-width="0.4"/>
<text x="346.8" y="454.5" font-size="4.8" text-anchor="middle" fill="#222" stroke="#222" stroke-width="0.17" stroke-opacity="0.55">PD-1<tspan dy="-1.8" font-size="3">-</tspan></text>
<rect x="375.3" y="404.1" width="48.5" height="45.3" fill="#fff" />
<line x1="375.3" y1="411.6" x2="423.8" y2="411.6" stroke="#ebebeb" stroke-width="0.35"/>
<line x1="375.3" y1="423.65" x2="423.8" y2="423.65" stroke="#ebebeb" stroke-width="0.35"/>
<line x1="375.3" y1="435.7" x2="423.8" y2="435.7" stroke="#ebebeb" stroke-width="0.35"/>
<line x1="375.3" y1="405.6" x2="423.8" y2="405.6" stroke="#ebebeb" stroke-width="0.6"/>
<line x1="375.3" y1="417.6" x2="423.8" y2="417.6" stroke="#ebebeb" stroke-width="0.6"/>
<line x1="375.3" y1="429.7" x2="423.8" y2="429.7" stroke="#ebebeb" stroke-width="0.6"/>
<line x1="375.3" y1="441.7" x2="423.8" y2="441.7" stroke="#ebebeb" stroke-width="0.6"/>
<line x1="388.7" y1="404.1" x2="388.7" y2="449.4" stroke="#ebebeb" stroke-width="0.6"/>
<line x1="410.5" y1="404.1" x2="410.5" y2="449.4" stroke="#ebebeb" stroke-width="0.6"/>
<rect x="375.3" y="404.1" width="48.5" height="45.3" fill="none" stroke="#555" stroke-width="0.6" />
<line x1="374" y1="405.6" x2="375.3" y2="405.6" stroke="#333" stroke-width="0.4"/>
<text x="373.3" y="406.79" font-size="3.3" text-anchor="end" fill="#333" stroke="#333" stroke-width="0.12" stroke-opacity="0.55">25000</text>
<line x1="374" y1="417.6" x2="375.3" y2="417.6" stroke="#333" stroke-width="0.4"/>
<text x="373.3" y="418.79" font-size="3.3" text-anchor="end" fill="#333" stroke="#333" stroke-width="0.12" stroke-opacity="0.55">20000</text>
<line x1="374" y1="429.7" x2="375.3" y2="429.7" stroke="#333" stroke-width="0.4"/>
<text x="373.3" y="430.89" font-size="3.3" text-anchor="end" fill="#333" stroke="#333" stroke-width="0.12" stroke-opacity="0.55">15000</text>
<line x1="374" y1="441.7" x2="375.3" y2="441.7" stroke="#333" stroke-width="0.4"/>
<text x="373.3" y="442.89" font-size="3.3" text-anchor="end" fill="#333" stroke="#333" stroke-width="0.12" stroke-opacity="0.55">10000</text>
<circle cx="384.03" cy="421.09" r="1.05" fill="#3a62c0" fill-opacity="0.55"/>
<circle cx="383.7" cy="430.21" r="1.05" fill="#3a62c0" fill-opacity="0.55"/>
<circle cx="384.94" cy="427" r="1.05" fill="#3a62c0" fill-opacity="0.55"/>
<circle cx="385.53" cy="413.69" r="1.05" fill="#3a62c0" fill-opacity="0.55"/>
<circle cx="385.22" cy="413.11" r="1.05" fill="#3a62c0" fill-opacity="0.55"/>
<circle cx="383.78" cy="414.02" r="1.05" fill="#3a62c0" fill-opacity="0.55"/>
<rect x="382.5" y="420.2" width="6" height="18.8" fill="none" stroke="#1f48a6" stroke-width="0.75" />
<line x1="382.5" y1="433.4" x2="388.5" y2="433.4" stroke="#1f48a6" stroke-width="1"/>
<line x1="385.5" y1="406.1" x2="385.5" y2="420.2" stroke="#1f48a6" stroke-width="0.9"/>
<line x1="385.5" y1="439" x2="385.5" y2="445.9" stroke="#1f48a6" stroke-width="0.9"/>
<line x1="382.5" y1="406.1" x2="388.5" y2="406.1" stroke="#1f48a6" stroke-width="0.9"/>
<line x1="382.5" y1="445.9" x2="388.5" y2="445.9" stroke="#1f48a6" stroke-width="0.9"/>
<circle cx="393.3" cy="426.95" r="1.05" fill="#f04848" fill-opacity="0.55"/>
<circle cx="390.81" cy="422.79" r="1.05" fill="#f04848" fill-opacity="0.55"/>
<circle cx="393.8" cy="429.77" r="1.05" fill="#f04848" fill-opacity="0.55"/>
<circle cx="391.52" cy="429.07" r="1.05" fill="#f04848" fill-opacity="0.55"/>
<circle cx="390.08" cy="434.6" r="1.05" fill="#f04848" fill-opacity="0.55"/>
<circle cx="391.08" cy="432.97" r="1.05" fill="#f04848" fill-opacity="0.55"/>
<rect x="389" y="421.3" width="5.9" height="12.9" fill="none" stroke="#f01e1e" stroke-width="0.75" />
<line x1="389" y1="427.7" x2="394.9" y2="427.7" stroke="#f01e1e" stroke-width="1"/>
<line x1="391.95" y1="418.1" x2="391.95" y2="421.3" stroke="#f01e1e" stroke-width="0.9"/>
<line x1="391.95" y1="434.2" x2="391.95" y2="437.9" stroke="#f01e1e" stroke-width="0.9"/>
<line x1="389" y1="418.1" x2="394.9" y2="418.1" stroke="#f01e1e" stroke-width="0.9"/>
<line x1="389" y1="437.9" x2="394.9" y2="437.9" stroke="#f01e1e" stroke-width="0.9"/>
<circle cx="405.52" cy="429.77" r="1.05" fill="#3a62c0" fill-opacity="0.55"/>
<circle cx="408.5" cy="432.42" r="1.05" fill="#3a62c0" fill-opacity="0.55"/>
<circle cx="407.5" cy="430.36" r="1.05" fill="#3a62c0" fill-opacity="0.55"/>
<circle cx="406.61" cy="437.74" r="1.05" fill="#3a62c0" fill-opacity="0.55"/>
<circle cx="405.28" cy="436.27" r="1.05" fill="#3a62c0" fill-opacity="0.55"/>
<circle cx="405.89" cy="428.41" r="1.05" fill="#3a62c0" fill-opacity="0.55"/>
<rect x="404.1" y="433" width="6.1" height="8.4" fill="none" stroke="#1f48a6" stroke-width="0.75" />
<line x1="404.1" y1="438.2" x2="410.2" y2="438.2" stroke="#1f48a6" stroke-width="1"/>
<line x1="407.15" y1="424" x2="407.15" y2="433" stroke="#1f48a6" stroke-width="0.9"/>
<line x1="407.15" y1="441.4" x2="407.15" y2="447" stroke="#1f48a6" stroke-width="0.9"/>
<line x1="404.1" y1="424" x2="410.2" y2="424" stroke="#1f48a6" stroke-width="0.9"/>
<line x1="404.1" y1="447" x2="410.2" y2="447" stroke="#1f48a6" stroke-width="0.9"/>
<circle cx="413.54" cy="439.52" r="1.05" fill="#f04848" fill-opacity="0.55"/>
<circle cx="414.22" cy="436.03" r="1.05" fill="#f04848" fill-opacity="0.55"/>
<circle cx="413" cy="437.35" r="1.05" fill="#f04848" fill-opacity="0.55"/>
<circle cx="414.7" cy="440.6" r="1.05" fill="#f04848" fill-opacity="0.55"/>
<circle cx="414.17" cy="435.36" r="1.05" fill="#f04848" fill-opacity="0.55"/>
<circle cx="415.45" cy="438.04" r="1.05" fill="#f04848" fill-opacity="0.55"/>
<rect x="410.8" y="434.2" width="6.1" height="6.9" fill="none" stroke="#f01e1e" stroke-width="0.75" />
<line x1="410.8" y1="437.4" x2="416.9" y2="437.4" stroke="#f01e1e" stroke-width="1"/>
<line x1="413.85" y1="431" x2="413.85" y2="434.2" stroke="#f01e1e" stroke-width="0.9"/>
<line x1="413.85" y1="441.1" x2="413.85" y2="444.6" stroke="#f01e1e" stroke-width="0.9"/>
<line x1="410.8" y1="431" x2="416.9" y2="431" stroke="#f01e1e" stroke-width="0.9"/>
<line x1="410.8" y1="444.6" x2="416.9" y2="444.6" stroke="#f01e1e" stroke-width="0.9"/>
<path d="M385.7 408.5L407.6 408.5L407.6 415.7" fill="none" stroke="#777" stroke-width="0.45" />
<text x="396.65" y="410.4" font-size="6.6" font-weight="bold" text-anchor="middle" fill="#222">**</text>
<line x1="388.7" y1="449.4" x2="388.7" y2="450.5" stroke="#333" stroke-width="0.4"/>
<text x="388.7" y="454.5" font-size="4.8" text-anchor="middle" fill="#222" stroke="#222" stroke-width="0.17" stroke-opacity="0.55">PD-1<tspan dy="-1.8" font-size="3">+</tspan></text>
<line x1="410.5" y1="449.4" x2="410.5" y2="450.5" stroke="#333" stroke-width="0.4"/>
<text x="410.5" y="454.5" font-size="4.8" text-anchor="middle" fill="#222" stroke="#222" stroke-width="0.17" stroke-opacity="0.55">PD-1<tspan dy="-1.8" font-size="3">-</tspan></text>
<rect x="436.2" y="404.1" width="50.6" height="45.3" fill="#fff" />
<line x1="436.2" y1="419.5" x2="486.8" y2="419.5" stroke="#ebebeb" stroke-width="0.35"/>
<line x1="436.2" y1="431.95" x2="486.8" y2="431.95" stroke="#ebebeb" stroke-width="0.35"/>
<line x1="436.2" y1="413.3" x2="486.8" y2="413.3" stroke="#ebebeb" stroke-width="0.6"/>
<line x1="436.2" y1="425.7" x2="486.8" y2="425.7" stroke="#ebebeb" stroke-width="0.6"/>
<line x1="436.2" y1="438.2" x2="486.8" y2="438.2" stroke="#ebebeb" stroke-width="0.6"/>
<line x1="450.3" y1="404.1" x2="450.3" y2="449.4" stroke="#ebebeb" stroke-width="0.6"/>
<line x1="472.7" y1="404.1" x2="472.7" y2="449.4" stroke="#ebebeb" stroke-width="0.6"/>
<rect x="436.2" y="404.1" width="50.6" height="45.3" fill="none" stroke="#555" stroke-width="0.6" />
<line x1="434.9" y1="413.3" x2="436.2" y2="413.3" stroke="#333" stroke-width="0.4"/>
<text x="434.2" y="414.49" font-size="3.3" text-anchor="end" fill="#333" stroke="#333" stroke-width="0.12" stroke-opacity="0.55">1500</text>
<line x1="434.9" y1="425.7" x2="436.2" y2="425.7" stroke="#333" stroke-width="0.4"/>
<text x="434.2" y="426.89" font-size="3.3" text-anchor="end" fill="#333" stroke="#333" stroke-width="0.12" stroke-opacity="0.55">1200</text>
<line x1="434.9" y1="438.2" x2="436.2" y2="438.2" stroke="#333" stroke-width="0.4"/>
<text x="434.2" y="439.39" font-size="3.3" text-anchor="end" fill="#333" stroke="#333" stroke-width="0.12" stroke-opacity="0.55">900</text>
<circle cx="448.82" cy="418.73" r="1.05" fill="#3a62c0" fill-opacity="0.55"/>
<circle cx="447.72" cy="415.85" r="1.05" fill="#3a62c0" fill-opacity="0.55"/>
<circle cx="445.77" cy="414.67" r="1.05" fill="#3a62c0" fill-opacity="0.55"/>
<circle cx="445.61" cy="440.84" r="1.05" fill="#3a62c0" fill-opacity="0.55"/>
<circle cx="446.68" cy="430.61" r="1.05" fill="#3a62c0" fill-opacity="0.55"/>
<circle cx="446.83" cy="425.21" r="1.05" fill="#3a62c0" fill-opacity="0.55"/>
<rect x="443.8" y="418.1" width="6.1" height="16.1" fill="none" stroke="#1f48a6" stroke-width="0.75" />
<line x1="443.8" y1="431.8" x2="449.9" y2="431.8" stroke="#1f48a6" stroke-width="1"/>
<line x1="446.85" y1="406.1" x2="446.85" y2="418.1" stroke="#1f48a6" stroke-width="0.9"/>
<line x1="446.85" y1="434.2" x2="446.85" y2="447" stroke="#1f48a6" stroke-width="0.9"/>
<line x1="443.8" y1="406.1" x2="449.9" y2="406.1" stroke="#1f48a6" stroke-width="0.9"/>
<line x1="443.8" y1="447" x2="449.9" y2="447" stroke="#1f48a6" stroke-width="0.9"/>
<circle cx="455.16" cy="423.59" r="1.05" fill="#f04848" fill-opacity="0.55"/>
<circle cx="452.61" cy="422.73" r="1.05" fill="#f04848" fill-opacity="0.55"/>
<circle cx="452.75" cy="422.15" r="1.05" fill="#f04848" fill-opacity="0.55"/>
<circle cx="455.47" cy="425.38" r="1.05" fill="#f04848" fill-opacity="0.55"/>
<circle cx="452.1" cy="425.14" r="1.05" fill="#f04848" fill-opacity="0.55"/>
<circle cx="455.85" cy="424.14" r="1.05" fill="#f04848" fill-opacity="0.55"/>
<rect x="450.7" y="420.5" width="6.1" height="8" fill="none" stroke="#f01e1e" stroke-width="0.75" />
<line x1="450.7" y1="424.5" x2="456.8" y2="424.5" stroke="#f01e1e" stroke-width="1"/>
<line x1="453.75" y1="420.2" x2="453.75" y2="420.5" stroke="#f01e1e" stroke-width="0.9"/>
<line x1="453.75" y1="428.5" x2="453.75" y2="432.1" stroke="#f01e1e" stroke-width="0.9"/>
<line x1="450.7" y1="420.2" x2="456.8" y2="420.2" stroke="#f01e1e" stroke-width="0.9"/>
<line x1="450.7" y1="432.1" x2="456.8" y2="432.1" stroke="#f01e1e" stroke-width="0.9"/>
<circle cx="469.76" cy="420.81" r="1.05" fill="#3a62c0" fill-opacity="0.55"/>
<circle cx="469.94" cy="425.12" r="1.05" fill="#3a62c0" fill-opacity="0.55"/>
<circle cx="470.07" cy="424.58" r="1.05" fill="#3a62c0" fill-opacity="0.55"/>
<circle cx="469.89" cy="426.77" r="1.05" fill="#3a62c0" fill-opacity="0.55"/>
<circle cx="469.6" cy="432.31" r="1.05" fill="#3a62c0" fill-opacity="0.55"/>
<circle cx="467.39" cy="421.89" r="1.05" fill="#3a62c0" fill-opacity="0.55"/>
<rect x="466.2" y="425.7" width="6.1" height="7.3" fill="none" stroke="#1f48a6" stroke-width="0.75" />
<line x1="466.2" y1="429.3" x2="472.3" y2="429.3" stroke="#1f48a6" stroke-width="1"/>
<line x1="469.25" y1="417" x2="469.25" y2="425.7" stroke="#1f48a6" stroke-width="0.9"/>
<line x1="469.25" y1="433" x2="469.25" y2="436.6" stroke="#1f48a6" stroke-width="0.9"/>
<line x1="466.2" y1="417" x2="472.3" y2="417" stroke="#1f48a6" stroke-width="0.9"/>
<line x1="466.2" y1="436.6" x2="472.3" y2="436.6" stroke="#1f48a6" stroke-width="0.9"/>
<circle cx="476.1" cy="433.98" r="1.05" fill="#f04848" fill-opacity="0.55"/>
<circle cx="478.05" cy="428.87" r="1.05" fill="#f04848" fill-opacity="0.55"/>
<circle cx="477.13" cy="431.49" r="1.05" fill="#f04848" fill-opacity="0.55"/>
<circle cx="475.23" cy="433.54" r="1.05" fill="#f04848" fill-opacity="0.55"/>
<circle cx="477.76" cy="429.98" r="1.05" fill="#f04848" fill-opacity="0.55"/>
<circle cx="477.28" cy="428.47" r="1.05" fill="#f04848" fill-opacity="0.55"/>
<rect x="473.1" y="426.9" width="6.1" height="6.8" fill="none" stroke="#f01e1e" stroke-width="0.75" />
<line x1="473.1" y1="430.5" x2="479.2" y2="430.5" stroke="#f01e1e" stroke-width="1"/>
<line x1="476.15" y1="426.1" x2="476.15" y2="426.9" stroke="#f01e1e" stroke-width="0.9"/>
<line x1="476.15" y1="433.7" x2="476.15" y2="435.8" stroke="#f01e1e" stroke-width="0.9"/>
<line x1="473.1" y1="426.1" x2="479.2" y2="426.1" stroke="#f01e1e" stroke-width="0.9"/>
<line x1="473.1" y1="435.8" x2="479.2" y2="435.8" stroke="#f01e1e" stroke-width="0.9"/>
<line x1="450.3" y1="449.4" x2="450.3" y2="450.5" stroke="#333" stroke-width="0.4"/>
<text x="450.3" y="454.5" font-size="4.8" text-anchor="middle" fill="#222" stroke="#222" stroke-width="0.17" stroke-opacity="0.55">PD-1<tspan dy="-1.8" font-size="3">+</tspan></text>
<line x1="472.7" y1="449.4" x2="472.7" y2="450.5" stroke="#333" stroke-width="0.4"/>
<text x="472.7" y="454.5" font-size="4.8" text-anchor="middle" fill="#222" stroke="#222" stroke-width="0.17" stroke-opacity="0.55">PD-1<tspan dy="-1.8" font-size="3">-</tspan></text>
<path d="M382.77 468.7 A4.03 5 0 0 1 390.83 468.7 A4.03 5 0 0 1 382.77 468.7 Z" fill="#9db0dd" />
<rect x="379.6" y="463.7" width="14.4" height="10" fill="none" stroke="#1f48a6" stroke-width="1" />
<line x1="379.6" y1="468.7" x2="394" y2="468.7" stroke="#1f48a6" stroke-width="1.6"/>
<line x1="386.8" y1="462.2" x2="386.8" y2="463.7" stroke="#1f48a6" stroke-width="1"/>
<line x1="386.8" y1="473.7" x2="386.8" y2="475.5" stroke="#1f48a6" stroke-width="1"/>
<text x="401.6" y="472" font-size="9.8" fill="#222">non-SD</text>
<path d="M448.47 468.7 A4.03 5 0 0 1 456.53 468.7 A4.03 5 0 0 1 448.47 468.7 Z" fill="#f9aaaa" />
<rect x="445.3" y="463.7" width="14.4" height="10" fill="none" stroke="#f01e1e" stroke-width="1" />
<line x1="445.3" y1="468.7" x2="459.7" y2="468.7" stroke="#f01e1e" stroke-width="1.6"/>
<line x1="452.5" y1="462.2" x2="452.5" y2="463.7" stroke="#f01e1e" stroke-width="1"/>
<line x1="452.5" y1="473.7" x2="452.5" y2="475.5" stroke="#f01e1e" stroke-width="1"/>
<text x="467.6" y="472" font-size="9.8" fill="#222">SD</text>
<text x="552.8" y="195.4" font-size="12.5" font-weight="bold">j</text>
<text x="627" y="186.6" font-size="9.3" text-anchor="middle" fill="#111" textLength="52" lengthAdjust="spacingAndGlyphs">Pre-blockade</text>
<rect x="589.5" y="189.4" width="73.6" height="69" fill="#fff" />
<line x1="589.5" y1="249.02" x2="663.1" y2="249.02" stroke="#ebebeb" stroke-width="0.35"/>
<line x1="589.5" y1="237.06" x2="663.1" y2="237.06" stroke="#ebebeb" stroke-width="0.35"/>
<line x1="589.5" y1="225.1" x2="663.1" y2="225.1" stroke="#ebebeb" stroke-width="0.35"/>
<line x1="589.5" y1="213.14" x2="663.1" y2="213.14" stroke="#ebebeb" stroke-width="0.35"/>
<line x1="589.5" y1="201.18" x2="663.1" y2="201.18" stroke="#ebebeb" stroke-width="0.35"/>
<line x1="589.5" y1="255" x2="663.1" y2="255" stroke="#ebebeb" stroke-width="0.6"/>
<line x1="589.5" y1="243.04" x2="663.1" y2="243.04" stroke="#ebebeb" stroke-width="0.6"/>
<line x1="589.5" y1="231.08" x2="663.1" y2="231.08" stroke="#ebebeb" stroke-width="0.6"/>
<line x1="589.5" y1="219.12" x2="663.1" y2="219.12" stroke="#ebebeb" stroke-width="0.6"/>
<line x1="589.5" y1="207.16" x2="663.1" y2="207.16" stroke="#ebebeb" stroke-width="0.6"/>
<line x1="589.5" y1="195.2" x2="663.1" y2="195.2" stroke="#ebebeb" stroke-width="0.6"/>
<line x1="608.6" y1="189.4" x2="608.6" y2="258.4" stroke="#ebebeb" stroke-width="0.6"/>
<line x1="643.1" y1="189.4" x2="643.1" y2="258.4" stroke="#ebebeb" stroke-width="0.6"/>
<rect x="589.5" y="189.4" width="73.6" height="69" fill="none" stroke="#666" stroke-width="0.6" />
<line x1="588.2" y1="255" x2="589.5" y2="255" stroke="#333" stroke-width="0.4"/>
<text x="587.1" y="256.87" font-size="5.2" text-anchor="end" fill="#333" stroke="#333" stroke-width="0.18" stroke-opacity="0.55">0</text>
<line x1="588.2" y1="243.04" x2="589.5" y2="243.04" stroke="#333" stroke-width="0.4"/>
<text x="587.1" y="244.91" font-size="5.2" text-anchor="end" fill="#333" stroke="#333" stroke-width="0.18" stroke-opacity="0.55">10</text>
<line x1="588.2" y1="231.08" x2="589.5" y2="231.08" stroke="#333" stroke-width="0.4"/>
<text x="587.1" y="232.95" font-size="5.2" text-anchor="end" fill="#333" stroke="#333" stroke-width="0.18" stroke-opacity="0.55">20</text>
<line x1="588.2" y1="219.12" x2="589.5" y2="219.12" stroke="#333" stroke-width="0.4"/>
<text x="587.1" y="220.99" font-size="5.2" text-anchor="end" fill="#333" stroke="#333" stroke-width="0.18" stroke-opacity="0.55">30</text>
<line x1="588.2" y1="207.16" x2="589.5" y2="207.16" stroke="#333" stroke-width="0.4"/>
<text x="587.1" y="209.03" font-size="5.2" text-anchor="end" fill="#333" stroke="#333" stroke-width="0.18" stroke-opacity="0.55">40</text>
<line x1="588.2" y1="195.2" x2="589.5" y2="195.2" stroke="#333" stroke-width="0.4"/>
<text x="587.1" y="197.07" font-size="5.2" text-anchor="end" fill="#333" stroke="#333" stroke-width="0.18" stroke-opacity="0.55">50</text>
<text x="577.8" y="224" font-size="7.3" text-anchor="middle" fill="#222" transform="rotate(-90 577.8 224)" stroke="#222" stroke-width="0.22" stroke-opacity="0.55">CD8<tspan baseline-shift="2.63" font-size="4.53">+</tspan> (%)</text>
<line x1="608.6" y1="258.4" x2="608.6" y2="259.6" stroke="#333" stroke-width="0.4"/>
<text x="608.6" y="267.2" font-size="7.2" text-anchor="middle" fill="#555" stroke="#555" stroke-width="0.22" stroke-opacity="0.55">PD-1<tspan baseline-shift="2.59" font-size="4.46">+</tspan></text>
<line x1="643.1" y1="258.4" x2="643.1" y2="259.6" stroke="#333" stroke-width="0.4"/>
<text x="643.1" y="267.2" font-size="7.2" text-anchor="middle" fill="#555" stroke="#555" stroke-width="0.22" stroke-opacity="0.55">PD-L1<tspan baseline-shift="2.59" font-size="4.46">+</tspan></text>
<circle cx="608.6" cy="193.3" r="1.85" fill="#20c090" fill-opacity="0.9"/>
<circle cx="608.6" cy="200.5" r="1.85" fill="#30b848" fill-opacity="0.9"/>
<circle cx="610.9" cy="230.8" r="1.85" fill="#619CFF" fill-opacity="0.9"/>
<circle cx="610.2" cy="241.6" r="1.85" fill="#00B0F6" fill-opacity="0.9"/>
<circle cx="612.1" cy="246.2" r="1.85" fill="#E76BF3" fill-opacity="0.9"/>
<circle cx="604.5" cy="249.7" r="1.85" fill="#F8766D" fill-opacity="0.9"/>
<circle cx="606.3" cy="250.2" r="1.85" fill="#D89000" fill-opacity="0.9"/>
<circle cx="607.3" cy="250.8" r="1.85" fill="#A3A500" fill-opacity="0.9"/>
<circle cx="613.7" cy="251.5" r="1.85" fill="#FF62BC" fill-opacity="0.9"/>
<circle cx="645.4" cy="195" r="1.85" fill="#619CFF" fill-opacity="0.9"/>
<circle cx="641.8" cy="200.9" r="1.85" fill="#39B600" fill-opacity="0.9"/>
<circle cx="645.9" cy="202.8" r="1.85" fill="#E76BF3" fill-opacity="0.9"/>
<circle cx="643.6" cy="214.3" r="1.85" fill="#00B0F6" fill-opacity="0.9"/>
<circle cx="638.5" cy="215.9" r="1.85" fill="#F8766D" fill-opacity="0.9"/>
<circle cx="641.8" cy="220.3" r="1.85" fill="#A3A500" fill-opacity="0.9"/>
<circle cx="639.5" cy="222.1" r="1.85" fill="#D89000" fill-opacity="0.9"/>
<circle cx="648.2" cy="234.3" r="1.85" fill="#FF62BC" fill-opacity="0.9"/>
<text x="507.8" y="277.4" font-size="12.5" font-weight="bold">k</text>
<text x="595.4" y="277.8" font-size="9.1" text-anchor="middle" fill="#111" textLength="56.4" lengthAdjust="spacingAndGlyphs">Post-blockade</text>
<rect x="527.6" y="281.3" width="135.8" height="93.7" fill="#fff" />
<line x1="527.6" y1="357.65" x2="663.4" y2="357.65" stroke="#ebebeb" stroke-width="0.35"/>
<line x1="527.6" y1="330.95" x2="663.4" y2="330.95" stroke="#ebebeb" stroke-width="0.35"/>
<line x1="527.6" y1="304.25" x2="663.4" y2="304.25" stroke="#ebebeb" stroke-width="0.35"/>
<line x1="527.6" y1="371" x2="663.4" y2="371" stroke="#ebebeb" stroke-width="0.6"/>
<line x1="527.6" y1="344.3" x2="663.4" y2="344.3" stroke="#ebebeb" stroke-width="0.6"/>
<line x1="527.6" y1="317.6" x2="663.4" y2="317.6" stroke="#ebebeb" stroke-width="0.6"/>
<line x1="527.6" y1="290.9" x2="663.4" y2="290.9" stroke="#ebebeb" stroke-width="0.6"/>
<line x1="552.7" y1="281.3" x2="552.7" y2="375" stroke="#ebebeb" stroke-width="0.6"/>
<line x1="595.5" y1="281.3" x2="595.5" y2="375" stroke="#ebebeb" stroke-width="0.6"/>
<line x1="638" y1="281.3" x2="638" y2="375" stroke="#ebebeb" stroke-width="0.6"/>
<rect x="527.6" y="281.3" width="135.8" height="93.7" fill="none" stroke="#666" stroke-width="0.6" />
<line x1="526.3" y1="371" x2="527.6" y2="371" stroke="#333" stroke-width="0.4"/>
<text x="525.2" y="372.8" font-size="5" text-anchor="end" fill="#333" stroke="#333" stroke-width="0.18" stroke-opacity="0.55">0</text>
<line x1="526.3" y1="344.3" x2="527.6" y2="344.3" stroke="#333" stroke-width="0.4"/>
<text x="525.2" y="346.1" font-size="5" text-anchor="end" fill="#333" stroke="#333" stroke-width="0.18" stroke-opacity="0.55">1</text>
<line x1="526.3" y1="317.6" x2="527.6" y2="317.6" stroke="#333" stroke-width="0.4"/>
<text x="525.2" y="319.4" font-size="5" text-anchor="end" fill="#333" stroke="#333" stroke-width="0.18" stroke-opacity="0.55">2</text>
<line x1="526.3" y1="290.9" x2="527.6" y2="290.9" stroke="#333" stroke-width="0.4"/>
<text x="525.2" y="292.7" font-size="5" text-anchor="end" fill="#333" stroke="#333" stroke-width="0.18" stroke-opacity="0.55">3</text>
<text x="516.5" y="329.9" font-size="7.2" text-anchor="middle" fill="#222" transform="rotate(-90 516.5 329.9)" stroke="#222" stroke-width="0.22" stroke-opacity="0.55">CD8<tspan baseline-shift="2.59" font-size="4.46">+</tspan> GzmB<tspan baseline-shift="2.59" font-size="4.46">+</tspan>perforin<tspan baseline-shift="2.59" font-size="4.46">+</tspan> (%)</text>
<line x1="552.7" y1="375" x2="552.7" y2="376.2" stroke="#333" stroke-width="0.4"/>
<text x="552.7" y="382.8" font-size="6.3" text-anchor="middle" fill="#555" stroke="#555" stroke-width="0.22" stroke-opacity="0.55">IgG<tspan dy="1.4" font-size="4.6">4</tspan><tspan dy="-1.4">+IgG</tspan><tspan dy="1.4" font-size="4.6">1</tspan></text>
<line x1="595.5" y1="375" x2="595.5" y2="376.2" stroke="#333" stroke-width="0.4"/>
<text x="595.5" y="382.8" font-size="6.3" text-anchor="middle" fill="#555" stroke="#555" stroke-width="0.22" stroke-opacity="0.55">αPD-1</text>
<line x1="638" y1="375" x2="638" y2="376.2" stroke="#333" stroke-width="0.4"/>
<text x="638" y="382.8" font-size="6.3" text-anchor="middle" fill="#555" stroke="#555" stroke-width="0.22" stroke-opacity="0.55">αPD-1+αPD-L1</text>
<path d="M552.7 371L595.5 371L638 371" fill="none" stroke="#C77CFF" stroke-width="0.8" />
<circle cx="552.7" cy="371" r="1.25" fill="#C77CFF"/>
<circle cx="595.5" cy="371" r="1.25" fill="#C77CFF"/>
<circle cx="638" cy="371" r="1.25" fill="#C77CFF"/>
<path d="M552.7 370.73L595.5 370.73L638 370.73" fill="none" stroke="#FF62BC" stroke-width="0.8" />
<circle cx="552.7" cy="370.73" r="1.25" fill="#FF62BC"/>
<circle cx="595.5" cy="370.73" r="1.25" fill="#FF62BC"/>
<circle cx="638" cy="370.73" r="1.25" fill="#FF62BC"/>
<path d="M552.7 370.47L595.5 370.2L638 367.8" fill="none" stroke="#D89000" stroke-width="0.8" />
<circle cx="552.7" cy="370.47" r="1.25" fill="#D89000"/>
<circle cx="595.5" cy="370.2" r="1.25" fill="#D89000"/>
<circle cx="638" cy="367.8" r="1.25" fill="#D89000"/>
<path d="M552.7 369.67L595.5 369.4L638 369.4" fill="none" stroke="#00BF7D" stroke-width="0.8" />
<circle cx="552.7" cy="369.67" r="1.25" fill="#00BF7D"/>
<circle cx="595.5" cy="369.4" r="1.25" fill="#00BF7D"/>
<circle cx="638" cy="369.4" r="1.25" fill="#00BF7D"/>
<path d="M552.7 370.2L595.5 370.47L638 350.98" fill="none" stroke="#A3A500" stroke-width="0.8" />
<circle cx="552.7" cy="370.2" r="1.25" fill="#A3A500"/>
<circle cx="595.5" cy="370.47" r="1.25" fill="#A3A500"/>
<circle cx="638" cy="350.98" r="1.25" fill="#A3A500"/>
<path d="M552.7 354.98L595.5 350.98L638 346.44" fill="none" stroke="#619CFF" stroke-width="0.8" />
<circle cx="552.7" cy="354.98" r="1.25" fill="#619CFF"/>
<circle cx="595.5" cy="350.98" r="1.25" fill="#619CFF"/>
<circle cx="638" cy="346.44" r="1.25" fill="#619CFF"/>
<path d="M552.7 356.31L595.5 344.3L638 354.45" fill="none" stroke="#F8766D" stroke-width="0.8" />
<circle cx="552.7" cy="356.31" r="1.25" fill="#F8766D"/>
<circle cx="595.5" cy="344.3" r="1.25" fill="#F8766D"/>
<circle cx="638" cy="354.45" r="1.25" fill="#F8766D"/>
<path d="M552.7 360.32L595.5 354.98L638 322.94" fill="none" stroke="#E76BF3" stroke-width="0.8" />
<circle cx="552.7" cy="360.32" r="1.25" fill="#E76BF3"/>
<circle cx="595.5" cy="354.98" r="1.25" fill="#E76BF3"/>
<circle cx="638" cy="322.94" r="1.25" fill="#E76BF3"/>
<path d="M552.7 369.67L595.5 367.8L638 291.43" fill="none" stroke="#00BFC4" stroke-width="0.8" />
<circle cx="552.7" cy="369.67" r="1.25" fill="#00BFC4"/>
<circle cx="595.5" cy="367.8" r="1.25" fill="#00BFC4"/>
<circle cx="638" cy="291.43" r="1.25" fill="#00BFC4"/>
<path d="M552.7 329.08L595.5 315.46L638 315.46" fill="none" stroke="#39B600" stroke-width="0.8" />
<circle cx="552.7" cy="329.08" r="1.25" fill="#39B600"/>
<circle cx="595.5" cy="315.46" r="1.25" fill="#39B600"/>
<circle cx="638" cy="315.46" r="1.25" fill="#39B600"/>
<text x="595.5" y="310" font-size="9" font-weight="bold" text-anchor="middle" fill="#111">*</text>
<text x="638" y="289.8" font-size="9" font-weight="bold" text-anchor="middle" fill="#111">*</text>
<text x="496.4" y="395.6" font-size="12.5" font-weight="bold">l</text>
<text x="533.9" y="396.8" font-size="6.5" text-anchor="middle" fill="#111" stroke="#111" stroke-width="0.22" stroke-opacity="0.55">IgG<tspan dy="1.2" font-size="4.4">4</tspan><tspan dy="-1.2">+IgG</tspan><tspan dy="1.2" font-size="4.4">1</tspan></text>
<text x="576.7" y="396.8" font-size="6.5" text-anchor="middle" fill="#111" stroke="#111" stroke-width="0.22" stroke-opacity="0.55">αPD-1</text>
<text x="625.1" y="396.8" font-size="6.5" text-anchor="middle" fill="#111" stroke="#111" stroke-width="0.22" stroke-opacity="0.55">αPD-1+ αPD-L1</text>
<circle cx="531.4" cy="427.4" r="14.1" fill="#1f1f1f"/>
<path d="M531.4 427.4L531.4 413.3A14.1 14.1 0 0 1 539.28 415.71Z" fill="#787878" />
<path d="M531.4 427.4L531.4 413.3A14.1 14.1 0 0 1 532.38 413.33Z" fill="#a8a8a8" />
<path d="M531.4 410.9 A16.5 16.5 0 1 1 520.36 439.66" fill="none" stroke="#F8766D" stroke-width="1.9" stroke-linecap="butt"/>
<path d="M532.06 408.51 A18.9 18.9 0 0 1 543.55 412.92" fill="none" stroke="#7CAE00" stroke-width="1.9" stroke-linecap="butt"/>
<path d="M522.78 445.89 A20.4 20.4 0 0 1 512.23 434.38" fill="none" stroke="#7CAE00" stroke-width="1.9" stroke-linecap="butt"/>
<path d="M509.12 430.53 A22.5 22.5 0 0 1 523.7 406.26" fill="none" stroke="#00BFC4" stroke-width="1.9" stroke-linecap="butt"/>
<path d="M525.28 402.85 A25.3 25.3 0 0 1 534.92 402.35" fill="none" stroke="#C77CFF" stroke-width="1.9" stroke-linecap="butt"/>
<path d="M545.27 408.31 A23.6 23.6 0 0 1 548.38 411.01" fill="none" stroke="#C77CFF" stroke-width="1.9" stroke-linecap="butt"/>
<circle cx="576.2" cy="427.6" r="14.1" fill="#1f1f1f"/>
<path d="M576.2 427.6L576.2 413.5A14.1 14.1 0 0 1 585.26 416.8Z" fill="#787878" />
<path d="M576.2 427.6L576.2 413.5A14.1 14.1 0 0 1 577.18 413.53Z" fill="#a8a8a8" />
<path d="M576.2 411 A16.6 16.6 0 1 1 559.96 431.05" fill="none" stroke="#F8766D" stroke-width="1.9" stroke-linecap="butt"/>
<path d="M576.54 407.9 A19.7 19.7 0 0 1 585.45 410.21" fill="none" stroke="#7CAE00" stroke-width="1.9" stroke-linecap="butt"/>
<path d="M587.31 412.31 A18.9 18.9 0 0 1 589.8 414.47" fill="none" stroke="#7CAE00" stroke-width="1.9" stroke-linecap="butt"/>
<path d="M557.56 432.6 A19.3 19.3 0 0 1 557.56 422.6" fill="none" stroke="#7CAE00" stroke-width="1.9" stroke-linecap="butt"/>
<path d="M554.47 422.58 A22.3 22.3 0 0 1 570.05 406.16" fill="none" stroke="#00BFC4" stroke-width="1.9" stroke-linecap="butt"/>
<path d="M569.7 403.36 A25.1 25.1 0 0 1 578.82 402.64" fill="none" stroke="#C77CFF" stroke-width="1.9" stroke-linecap="butt"/>
<path d="M587.5 405.41 A24.9 24.9 0 0 1 593.81 409.99" fill="none" stroke="#C77CFF" stroke-width="1.9" stroke-linecap="butt"/>
<circle cx="624.4" cy="427.4" r="14.4" fill="#1f1f1f"/>
<path d="M624.4 427.4L624.4 413A14.4 14.4 0 0 1 636.34 419.35Z" fill="#787878" />
<path d="M624.4 427.4L624.4 413A14.4 14.4 0 0 1 625.4 413.04Z" fill="#a8a8a8" />
<path d="M624.4 410.6 A16.8 16.8 0 1 1 611.92 438.64" fill="none" stroke="#F8766D" stroke-width="1.9" stroke-linecap="butt"/>
<path d="M625.08 408.01 A19.4 19.4 0 0 1 638.36 413.92" fill="none" stroke="#7CAE00" stroke-width="1.9" stroke-linecap="butt"/>
<path d="M613.48 444.87 A20.6 20.6 0 0 1 605.04 434.45" fill="none" stroke="#7CAE00" stroke-width="1.9" stroke-linecap="butt"/>
<path d="M602.57 433.25 A22.6 22.6 0 0 1 610.49 409.59" fill="none" stroke="#00BFC4" stroke-width="1.9" stroke-linecap="butt"/>
<path d="M610.99 405.94 A25.3 25.3 0 0 1 624.4 402.1" fill="none" stroke="#C77CFF" stroke-width="1.9" stroke-linecap="butt"/>
<path d="M633.69 404.41 A24.8 24.8 0 0 1 643.94 412.13" fill="none" stroke="#C77CFF" stroke-width="1.9" stroke-linecap="butt"/>
<rect x="666.1" y="401.7" width="10.9" height="10.9" fill="#222222" />
<text x="681" y="409.8" font-size="6.6" fill="#222" stroke="#222" stroke-width="0.22" stroke-opacity="0.55">1</text>
<rect x="666.1" y="414.1" width="10.9" height="10.9" fill="#6b6b6b" />
<text x="681" y="422.2" font-size="6.6" fill="#222" stroke="#222" stroke-width="0.22" stroke-opacity="0.55">2</text>
<rect x="666.1" y="426.5" width="10.9" height="10.9" fill="#a3a3a3" />
<text x="681" y="434.6" font-size="6.6" fill="#222" stroke="#222" stroke-width="0.22" stroke-opacity="0.55">3</text>
<rect x="666.1" y="438.9" width="10.9" height="10.9" fill="#d0d0d0" />
<text x="681" y="447" font-size="6.6" fill="#222" stroke="#222" stroke-width="0.22" stroke-opacity="0.55">4</text>
<text x="661.6" y="425.5" font-size="6.2" text-anchor="middle" fill="#222" transform="rotate(-90 661.6 425.5)" stroke="#222" stroke-width="0.22" stroke-opacity="0.55">N<tspan dy="-2" font-size="4">o</tspan><tspan dy="2"> of functions</tspan></text>
<rect x="517.4" y="454" width="9" height="9.1" fill="#F8766D" />
<text x="528.7" y="461.4" font-size="6.5" fill="#222" stroke="#222" stroke-width="0.22" stroke-opacity="0.55">CD107a</text>
<rect x="558.2" y="454" width="9" height="9.1" fill="#7CAE00" />
<text x="569.5" y="461.4" font-size="6.5" fill="#222" stroke="#222" stroke-width="0.22" stroke-opacity="0.55">IFN-γ</text>
<rect x="592.8" y="454" width="9" height="9.1" fill="#00BFC4" />
<text x="604.1" y="461.4" font-size="6.5" fill="#222" stroke="#222" stroke-width="0.22" stroke-opacity="0.55">IL-2</text>
<rect x="622.2" y="454" width="9" height="9.1" fill="#C77CFF" />
<text x="633.5" y="461.4" font-size="6.5" fill="#222" stroke="#222" stroke-width="0.22" stroke-opacity="0.55">TNF-α</text>
</svg>
</body></html>
